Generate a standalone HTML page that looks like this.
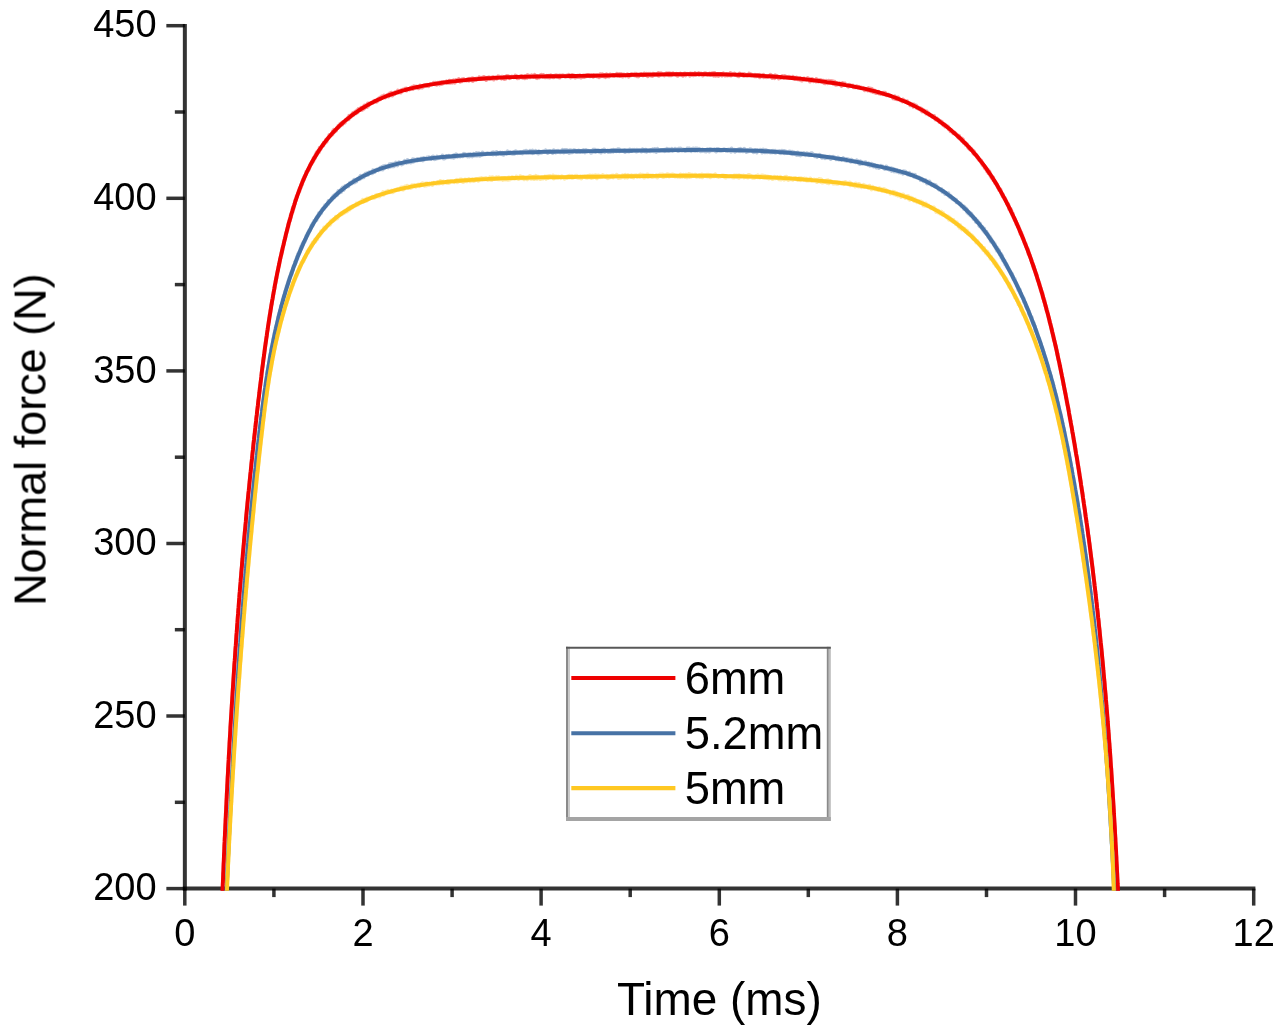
<!DOCTYPE html>
<html><head><meta charset="utf-8"><title>Normal force vs time</title>
<style>html,body{margin:0;padding:0;background:#fff;}body{width:1285px;height:1035px;overflow:hidden;}svg{display:block;}</style>
</head><body>
<svg width="1285" height="1035" viewBox="0 0 1285 1035" font-family="'Liberation Sans', sans-serif">
<defs><filter id="b" x="0" y="0" width="1285" height="1035" filterUnits="userSpaceOnUse"><feGaussianBlur stdDeviation="0.7"/></filter><clipPath id="c"><rect x="0" y="0" width="1285" height="890.8"/></clipPath></defs>
<rect width="1285" height="1035" fill="#fff"/>
<g filter="url(#b)">
<g stroke-opacity="0.8"><line x1="184.8" y1="888.6" x2="184.8" y2="905.6" stroke="#000" stroke-width="3.5"/><line x1="273.9" y1="888.6" x2="273.9" y2="897.1" stroke="#000" stroke-width="3.5"/><line x1="363.0" y1="888.6" x2="363.0" y2="905.6" stroke="#000" stroke-width="3.5"/><line x1="452.1" y1="888.6" x2="452.1" y2="897.1" stroke="#000" stroke-width="3.5"/><line x1="541.1" y1="888.6" x2="541.1" y2="905.6" stroke="#000" stroke-width="3.5"/><line x1="630.2" y1="888.6" x2="630.2" y2="897.1" stroke="#000" stroke-width="3.5"/><line x1="719.3" y1="888.6" x2="719.3" y2="905.6" stroke="#000" stroke-width="3.5"/><line x1="808.3" y1="888.6" x2="808.3" y2="897.1" stroke="#000" stroke-width="3.5"/><line x1="897.4" y1="888.6" x2="897.4" y2="905.6" stroke="#000" stroke-width="3.5"/><line x1="986.5" y1="888.6" x2="986.5" y2="897.1" stroke="#000" stroke-width="3.5"/><line x1="1075.5" y1="888.6" x2="1075.5" y2="905.6" stroke="#000" stroke-width="3.5"/><line x1="1164.6" y1="888.6" x2="1164.6" y2="897.1" stroke="#000" stroke-width="3.5"/><line x1="1253.7" y1="888.6" x2="1253.7" y2="905.6" stroke="#000" stroke-width="3.5"/><line x1="166.35" y1="888.6" x2="184.85" y2="888.6" stroke="#000" stroke-width="3.5"/><line x1="174.85" y1="802.3" x2="184.85" y2="802.3" stroke="#000" stroke-width="3.5"/><line x1="166.35" y1="716.0" x2="184.85" y2="716.0" stroke="#000" stroke-width="3.5"/><line x1="174.85" y1="629.7" x2="184.85" y2="629.7" stroke="#000" stroke-width="3.5"/><line x1="166.35" y1="543.5" x2="184.85" y2="543.5" stroke="#000" stroke-width="3.5"/><line x1="174.85" y1="457.2" x2="184.85" y2="457.2" stroke="#000" stroke-width="3.5"/><line x1="166.35" y1="370.9" x2="184.85" y2="370.9" stroke="#000" stroke-width="3.5"/><line x1="174.85" y1="284.6" x2="184.85" y2="284.6" stroke="#000" stroke-width="3.5"/><line x1="166.35" y1="198.3" x2="184.85" y2="198.3" stroke="#000" stroke-width="3.5"/><line x1="174.85" y1="112.0" x2="184.85" y2="112.0" stroke="#000" stroke-width="3.5"/><line x1="166.35" y1="25.7" x2="184.85" y2="25.7" stroke="#000" stroke-width="3.5"/><line x1="184.85" y1="24.0" x2="184.85" y2="890.6" stroke="#000" stroke-width="4.0"/><line x1="182.85" y1="888.6" x2="1255.4" y2="888.6" stroke="#000" stroke-width="4.0"/></g>
<g clip-path="url(#c)" fill="none" stroke-width="3.9" stroke-linejoin="round"><path d="M222.3 896.3 L222.4 896.1 L222.4 895.1 L222.4 893.2 L222.4 894.4 L222.4 893.4 L222.5 892.1 L222.5 892.4 L222.5 891.6 L222.5 891.0 L222.6 890.2 L222.6 890.0 L222.6 888.4 L222.6 888.3 L222.7 887.4 L222.7 887.7 L222.7 886.7 L222.7 885.8 L222.7 884.8 L222.8 884.7 L222.8 884.3 L222.8 883.5 L222.8 884.2 L222.9 883.3 L222.9 880.4 L222.9 879.9 L222.9 880.6 L223.0 879.9 L223.0 879.8 L223.0 879.2 L223.0 880.0 L223.1 877.0 L223.1 877.0 L223.1 878.3 L223.1 876.6 L223.2 876.1 L223.2 874.5 L223.2 873.0 L223.2 873.9 L223.2 873.3 L223.3 871.6 L223.3 871.5 L223.3 871.4 L223.3 870.1 L223.4 870.2 L223.4 869.7 L223.4 869.1 L223.4 868.1 L223.5 868.4 L223.5 868.0 L223.5 867.0 L223.5 865.5 L223.6 866.2 L223.6 864.6 L223.6 865.1 L223.6 863.0 L223.7 864.0 L223.7 862.6 L223.7 861.1 L223.7 861.2 L223.8 860.9 L223.8 860.5 L223.8 858.9 L223.8 858.3 L223.9 858.7 L223.9 857.6 L223.9 857.6 L223.9 857.4 L224.0 854.9 L224.0 855.8 L224.0 856.0 L224.0 854.2 L224.1 853.2 L224.1 853.9 L224.1 852.9 L224.1 852.8 L224.2 851.3 L224.2 849.8 L224.2 850.3 L224.2 849.4 L224.3 849.8 L224.3 848.8 L224.3 846.7 L224.3 846.5 L224.4 847.6 L224.4 846.8 L224.4 845.2 L224.4 845.1 L224.5 844.9 L224.5 844.3 L224.5 844.0 L224.6 843.0 L224.6 842.1 L224.6 841.4 L224.6 841.9 L224.7 838.8 L224.7 839.7 L224.7 839.3 L224.7 837.5 L224.8 838.3 L224.8 837.0 L224.8 837.6 L224.8 836.2 L224.9 836.3 L224.9 836.1 L224.9 834.9 L224.9 833.3 L225.0 832.2 L225.0 834.2 L225.0 832.1 L225.1 831.1 L225.1 831.2 L225.1 830.3 L225.1 830.6 L225.2 829.3 L225.2 828.7 L225.2 827.6 L225.2 827.9 L225.3 826.1 L225.3 826.9 L225.3 827.0 L225.3 824.0 L225.4 823.0 L225.4 824.5 L225.4 825.1 L225.5 822.1 L225.5 821.3 L225.5 822.2 L225.5 820.5 L225.6 820.1 L225.6 819.7 L225.6 819.8 L225.6 818.5 L225.7 818.4 L225.7 817.5 L225.7 816.4 L225.8 816.2 L225.8 815.1 L225.8 815.3 L225.8 813.8 L225.9 813.2 L225.9 814.7 L225.9 812.9 L226.0 812.3 L226.0 812.2 L226.0 810.9 L226.0 810.4 L226.1 810.4 L226.1 809.7 L226.1 807.9 L226.1 808.9 L226.2 807.2 L226.2 806.3 L226.2 805.8 L226.3 805.6 L226.3 806.6 L226.3 803.8 L226.3 804.3 L226.4 802.0 L226.4 803.0 L226.4 803.1 L226.5 801.6 L226.5 800.7 L226.5 800.9 L226.5 800.6 L226.6 800.0 L226.6 800.5 L226.6 798.5 L226.7 797.3 L226.7 797.1 L226.7 796.5 L226.7 796.1 L226.8 795.4 L226.8 795.0 L226.8 792.9 L226.9 794.3 L226.9 792.6 L226.9 791.5 L227.0 792.4 L227.0 792.4 L227.0 791.1 L227.0 790.3 L227.1 788.8 L227.1 790.6 L227.1 789.1 L227.2 786.9 L227.2 786.6 L227.2 786.7 L227.2 784.8 L227.3 785.6 L227.3 784.5 L227.3 785.3 L227.4 784.5 L227.4 781.5 L227.4 782.6 L227.5 780.7 L227.5 782.3 L227.5 780.9 L227.5 780.6 L227.6 778.8 L227.6 780.5 L227.6 780.1 L227.7 777.0 L227.7 777.6 L227.7 776.2 L227.8 776.1 L227.8 774.5 L227.8 776.4 L227.9 773.6 L227.9 773.5 L227.9 773.6 L227.9 772.1 L228.0 771.8 L228.0 771.0 L228.0 770.8 L228.1 769.3 L228.1 769.3 L228.1 768.9 L228.2 768.3 L228.2 768.0 L228.2 767.1 L228.3 767.4 L228.3 765.9 L228.3 765.5 L228.3 764.5 L228.4 764.0 L228.4 762.8 L228.4 763.7 L228.5 761.8 L228.5 761.5 L228.5 761.8 L228.6 761.3 L228.6 760.0 L228.6 758.2 L228.7 759.5 L228.7 758.8 L228.7 756.9 L228.8 758.0 L228.8 756.3 L228.8 755.4 L228.9 755.8 L228.9 754.9 L228.9 754.7 L229.0 752.6 L229.0 754.8 L229.0 752.3 L229.0 750.9 L229.1 752.1 L229.1 750.7 L229.1 750.7 L229.2 749.6 L229.2 749.2 L229.2 748.9 L229.3 747.5 L229.3 748.0 L229.3 746.5 L229.4 745.6 L229.4 745.8 L229.4 745.5 L229.5 744.4 L229.5 743.3 L229.5 743.9 L229.6 741.4 L229.6 741.4 L229.6 741.7 L229.7 740.0 L229.7 740.5 L229.7 739.9 L229.8 740.0 L229.8 738.0 L229.8 737.7 L229.9 737.8 L229.9 735.4 L229.9 738.0 L230.0 735.3 L230.0 734.7 L230.0 735.3 L230.1 734.0 L230.1 732.1 L230.1 733.4 L230.2 733.0 L230.2 731.4 L230.2 730.9 L230.3 731.0 L230.3 729.3 L230.3 729.7 L230.4 729.0 L230.4 727.7 L230.4 726.5 L230.5 726.9 L230.5 725.8 L230.5 726.7 L230.6 725.4 L230.6 725.4 L230.6 724.3 L230.7 723.8 L230.7 722.4 L230.7 722.9 L230.8 723.2 L230.8 721.0 L230.9 720.2 L230.9 719.9 L230.9 719.1 L231.0 718.3 L231.0 718.4 L231.0 717.5 L231.1 718.3 L231.1 716.6 L231.1 716.2 L231.2 716.2 L231.2 714.6 L231.2 715.4 L231.3 713.1 L231.3 712.4 L231.3 712.2 L231.4 711.8 L231.4 710.2 L231.5 710.7 L231.5 708.8 L231.5 710.7 L231.6 708.9 L231.6 707.9 L231.6 707.1 L231.7 706.9 L231.7 706.5 L231.7 705.2 L231.8 704.7 L231.8 704.7 L231.8 703.9 L231.9 704.5 L231.9 704.0 L232.0 702.6 L232.0 702.3 L232.0 700.3 L232.1 701.3 L232.1 700.2 L232.1 700.0 L232.2 700.3 L232.2 696.9 L232.2 698.1 L232.3 696.4 L232.3 697.2 L232.4 695.1 L232.4 695.2 L232.4 695.1 L232.5 694.9 L232.5 693.9 L232.5 692.6 L232.6 692.2 L232.6 692.8 L232.6 691.5 L232.7 689.5 L232.7 691.0 L232.8 690.0 L232.8 689.8 L232.8 688.3 L232.9 688.6 L232.9 686.5 L232.9 687.3 L233.0 685.8 L233.0 686.2 L233.1 685.9 L233.1 683.9 L233.1 683.8 L233.2 683.3 L233.2 683.7 L233.2 682.7 L233.3 680.6 L233.3 681.3 L233.4 681.0 L233.4 681.4 L233.4 677.9 L233.5 678.2 L233.5 679.1 L233.6 676.4 L233.6 675.9 L233.6 676.7 L233.7 676.5 L233.7 674.6 L233.7 675.0 L233.8 674.1 L233.8 674.6 L233.9 672.8 L233.9 673.0 L233.9 670.9 L234.0 670.9 L234.0 670.4 L234.1 670.8 L234.1 669.8 L234.1 668.1 L234.2 668.7 L234.2 668.2 L234.3 666.9 L234.3 666.2 L234.3 665.6 L234.4 663.9 L234.4 664.8 L234.4 664.2 L234.5 662.8 L234.5 663.5 L234.6 661.2 L234.6 661.3 L234.6 660.8 L234.7 662.1 L234.7 658.7 L234.8 659.8 L234.8 659.6 L234.8 658.5 L234.9 658.6 L234.9 656.3 L235.0 654.9 L235.0 656.5 L235.0 654.4 L235.1 654.5 L235.1 653.2 L235.2 654.4 L235.2 653.7 L235.2 651.8 L235.3 652.5 L235.3 651.3 L235.4 650.5 L235.4 650.1 L235.5 649.3 L235.5 649.4 L235.5 648.6 L235.6 647.5 L235.6 648.0 L235.7 646.1 L235.7 646.2 L235.7 645.7 L235.8 646.0 L235.8 643.8 L235.9 645.0 L235.9 643.2 L235.9 642.3 L236.0 641.4 L236.0 641.8 L236.1 640.8 L236.1 639.3 L236.2 638.7 L236.2 638.5 L236.2 637.9 L236.3 638.7 L236.3 638.3 L236.4 637.4 L236.4 636.4 L236.4 635.2 L236.5 635.0 L236.5 635.0 L236.6 635.3 L236.6 633.9 L236.7 632.4 L236.7 632.0 L236.7 631.0 L236.8 630.2 L236.8 630.1 L236.9 629.8 L236.9 630.6 L237.0 628.5 L237.0 629.0 L237.0 628.8 L237.1 626.8 L237.1 627.5 L237.2 626.2 L237.2 624.7 L237.3 624.6 L237.3 623.9 L237.3 623.1 L237.4 622.5 L237.4 622.2 L237.5 621.9 L237.5 620.2 L237.6 620.3 L237.6 618.5 L237.6 619.4 L237.7 619.1 L237.7 618.2 L237.8 617.7 L237.8 617.3 L237.9 615.7 L237.9 615.5 L237.9 615.5 L238.0 615.3 L238.0 614.3 L238.1 615.0 L238.1 612.7 L238.2 613.0 L238.2 612.6 L238.3 610.9 L238.3 609.8 L238.3 608.9 L238.4 609.4 L238.4 609.6 L238.5 608.3 L238.5 607.7 L238.6 606.7 L238.6 606.8 L238.7 604.2 L238.7 605.4 L238.8 604.6 L238.8 602.9 L238.8 605.1 L238.9 601.8 L238.9 601.4 L239.0 600.8 L239.0 602.0 L239.1 599.8 L239.1 600.5 L239.2 599.9 L239.2 599.0 L239.2 597.2 L239.3 597.2 L239.3 598.4 L239.4 595.4 L239.4 595.2 L239.5 595.2 L239.5 595.4 L239.6 594.3 L239.6 594.2 L239.7 592.1 L239.7 593.2 L239.8 592.3 L239.8 590.0 L239.8 591.9 L239.9 591.7 L239.9 588.9 L240.0 589.0 L240.0 589.4 L240.1 586.6 L240.1 585.6 L240.2 585.5 L240.2 585.5 L240.3 585.0 L240.3 585.3 L240.4 584.5 L240.4 582.7 L240.5 583.5 L240.5 584.0 L240.5 582.9 L240.6 582.1 L240.6 580.8 L240.7 581.0 L240.7 578.8 L240.8 579.6 L240.8 578.4 L240.9 578.8 L240.9 577.6 L241.0 575.8 L241.0 576.2 L241.1 576.5 L241.1 574.0 L241.2 573.9 L241.2 573.2 L241.3 572.0 L241.3 573.4 L241.4 573.1 L241.4 572.1 L241.5 571.1 L241.5 570.2 L241.6 569.9 L241.6 568.5 L241.7 569.3 L241.7 568.8 L241.7 568.1 L241.8 566.4 L241.8 566.3 L241.9 565.5 L241.9 566.5 L242.0 564.6 L242.0 562.4 L242.1 563.6 L242.1 564.2 L242.2 562.7 L242.2 562.3 L242.3 561.0 L242.3 558.8 L242.4 558.4 L242.4 558.2 L242.5 558.6 L242.5 558.3 L242.6 558.0 L242.6 556.6 L242.7 557.1 L242.7 555.5 L242.8 554.6 L242.8 555.3 L242.9 553.3 L242.9 551.8 L243.0 552.0 L243.0 552.3 L243.1 550.1 L243.1 550.8 L243.2 550.2 L243.2 548.8 L243.3 548.2 L243.3 548.4 L243.4 547.8 L243.4 548.6 L243.5 547.3 L243.5 545.2 L243.6 545.2 L243.6 545.8 L243.7 546.2 L243.7 544.4 L243.8 543.8 L243.8 544.4 L243.9 542.4 L244.0 541.5 L244.0 540.1 L244.1 540.2 L244.1 541.7 L244.2 538.3 L244.2 538.9 L244.3 537.2 L244.3 537.8 L244.4 537.9 L244.4 536.4 L244.5 536.6 L244.5 536.0 L244.6 535.2 L244.6 535.6 L244.7 534.3 L244.7 532.8 L244.8 532.0 L244.8 531.2 L244.9 531.7 L244.9 530.5 L245.0 531.8 L245.0 531.1 L245.1 528.8 L245.1 528.2 L245.2 529.2 L245.3 525.8 L245.3 526.3 L245.4 526.9 L245.4 524.8 L245.5 524.6 L245.5 524.1 L245.6 524.3 L245.6 523.3 L245.7 522.9 L245.7 522.5 L245.8 521.5 L245.8 521.8 L245.9 519.7 L245.9 518.6 L246.0 517.7 L246.1 517.3 L246.1 517.5 L246.2 518.2 L246.2 516.9 L246.3 515.7 L246.3 514.8 L246.4 514.6 L246.4 514.2 L246.5 513.5 L246.5 512.2 L246.6 512.4 L246.7 513.0 L246.7 510.0 L246.8 510.8 L246.8 508.8 L246.9 510.0 L246.9 508.7 L247.0 507.1 L247.0 508.2 L247.1 509.0 L247.1 507.0 L247.2 507.3 L247.3 505.7 L247.3 503.6 L247.4 505.0 L247.4 503.7 L247.5 502.3 L247.5 503.5 L247.6 502.5 L247.6 501.3 L247.7 501.8 L247.8 499.8 L247.8 500.5 L247.9 498.6 L247.9 499.2 L248.0 497.3 L248.0 498.8 L248.1 497.3 L248.2 497.6 L248.2 495.2 L248.3 494.9 L248.3 495.4 L248.4 492.6 L248.4 492.7 L248.5 493.8 L248.5 492.8 L248.6 492.6 L248.7 491.0 L248.7 491.1 L248.8 489.5 L248.8 488.4 L248.9 487.6 L248.9 487.9 L249.0 487.3 L249.1 486.7 L249.1 485.0 L249.2 484.4 L249.2 485.0 L249.3 485.1 L249.3 483.8 L249.4 483.0 L249.5 481.5 L249.5 484.2 L249.6 481.1 L249.6 482.7 L249.7 482.1 L249.8 480.4 L249.8 479.2 L249.9 479.2 L249.9 477.6 L250.0 478.1 L250.0 477.3 L250.1 477.2 L250.2 476.9 L250.2 477.0 L250.3 474.7 L250.3 475.3 L250.4 473.2 L250.5 472.6 L250.5 472.2 L250.6 471.3 L250.6 472.3 L250.7 471.7 L250.8 471.4 L250.8 469.8 L250.9 469.4 L250.9 468.2 L251.0 467.1 L251.1 467.8 L251.1 467.1 L251.2 465.4 L251.2 466.2 L251.3 463.8 L251.4 464.4 L251.4 463.5 L251.5 463.0 L251.5 462.0 L251.6 463.0 L251.7 462.1 L251.7 462.0 L251.8 460.6 L251.8 458.9 L251.9 459.0 L252.0 457.8 L252.0 458.5 L252.1 458.6 L252.1 457.3 L252.2 456.0 L252.3 455.6 L252.3 455.4 L252.4 453.5 L252.4 454.2 L252.5 453.7 L252.6 452.5 L252.6 452.0 L252.7 451.9 L252.8 450.6 L252.8 450.0 L252.9 450.7 L252.9 449.7 L253.0 450.2 L253.1 447.5 L253.1 446.3 L253.2 447.9 L253.2 447.3 L253.3 445.4 L253.4 444.2 L253.4 444.8 L253.5 442.9 L253.6 443.4 L253.6 441.5 L253.7 442.3 L253.7 440.4 L253.8 441.2 L253.9 442.0 L253.9 440.0 L254.0 440.2 L254.1 438.5 L254.1 437.7 L254.2 436.7 L254.3 438.1 L254.3 436.7 L254.4 437.4 L254.4 434.6 L254.5 434.8 L254.6 434.4 L254.6 434.9 L254.7 434.7 L254.8 432.1 L254.8 431.2 L254.9 430.1 L255.0 432.0 L255.0 430.3 L255.1 429.2 L255.1 429.1 L255.2 427.0 L255.3 426.6 L255.3 428.2 L255.4 427.2 L255.5 426.4 L255.5 424.9 L255.6 425.6 L255.7 426.0 L255.7 423.0 L255.8 423.4 L255.9 422.4 L255.9 422.5 L256.0 421.6 L256.1 420.9 L256.1 419.8 L256.2 419.9 L256.2 418.8 L256.3 418.6 L256.4 418.1 L256.4 418.1 L256.5 416.5 L256.6 416.2 L256.6 416.7 L256.7 415.1 L256.8 414.5 L256.8 414.8 L256.9 413.7 L257.0 413.0 L257.0 412.5 L257.1 410.8 L257.2 411.6 L257.2 411.7 L257.3 410.5 L257.4 408.2 L257.4 409.1 L257.5 407.6 L257.6 407.6 L257.6 407.3 L257.7 405.6 L257.8 407.1 L257.8 405.4 L257.9 405.5 L258.0 404.8 L258.0 404.8 L258.1 404.1 L258.2 401.4 L258.2 402.0 L258.3 399.8 L258.4 400.4 L258.5 400.8 L258.5 400.4 L258.6 400.1 L258.7 398.2 L258.7 398.2 L258.8 397.4 L258.9 397.8 L258.9 397.4 L259.0 395.3 L259.1 396.6 L259.1 394.4 L259.2 393.6 L259.3 393.8 L259.3 393.3 L259.4 392.6 L259.5 391.0 L259.5 392.1 L259.6 390.4 L259.7 391.0 L259.8 390.3 L259.8 387.6 L259.9 387.3 L260.0 386.7 L260.0 387.1 L260.1 386.4 L260.2 386.0 L260.2 384.5 L260.3 385.0 L260.4 385.2 L260.5 382.4 L260.5 382.7 L260.6 382.5 L260.7 381.6 L260.7 381.0 L260.8 382.0 L260.9 381.0 L260.9 380.1 L261.0 378.2 L261.1 379.9 L261.2 378.0 L261.2 376.6 L261.3 376.2 L261.4 375.5 L261.4 377.0 L261.5 374.9 L261.6 374.3 L261.7 372.0 L261.7 373.6 L261.8 371.6 L261.9 371.0 L262.0 371.8 L262.0 370.0 L262.1 370.8 L262.2 370.5 L262.2 367.6 L262.3 368.3 L262.4 366.6 L262.5 367.2 L262.5 367.4 L262.6 365.0 L262.7 367.0 L262.8 364.7 L262.8 363.4 L262.9 363.7 L263.0 363.9 L263.1 361.5 L263.1 362.1 L263.2 360.4 L263.3 361.9 L263.4 360.5 L263.4 359.4 L263.5 360.0 L263.6 357.6 L263.7 357.7 L263.7 358.9 L263.8 356.8 L263.9 357.4 L264.0 355.9 L264.0 354.6 L264.1 354.3 L264.2 354.0 L264.3 353.1 L264.3 352.2 L264.4 351.6 L264.5 350.5 L264.6 351.2 L264.7 350.8 L264.7 350.5 L264.8 347.9 L264.9 349.4 L265.0 348.2 L265.0 346.5 L265.1 347.1 L265.2 347.1 L265.3 346.3 L265.4 345.9 L265.4 345.5 L265.5 344.9 L265.6 343.5 L265.7 341.4 L265.8 341.8 L265.8 342.1 L265.9 340.9 L266.0 341.2 L266.1 340.7 L266.2 339.6 L266.2 340.5 L266.3 337.6 L266.4 338.5 L266.5 336.8 L266.6 336.0 L266.7 336.5 L266.7 335.0 L266.8 335.6 L266.9 333.4 L267.0 333.8 L267.1 332.5 L267.2 332.4 L267.2 331.7 L267.3 330.5 L267.4 331.4 L267.5 329.3 L267.6 328.9 L267.7 329.8 L267.8 329.3 L267.8 328.5 L267.9 327.7 L268.0 328.4 L268.1 325.3 L268.2 325.1 L268.3 324.3 L268.4 325.2 L268.4 324.2 L268.5 324.2 L268.6 323.6 L268.7 322.0 L268.8 321.0 L268.9 320.3 L269.0 322.1 L269.1 320.7 L269.2 319.8 L269.2 318.5 L269.3 318.0 L269.4 317.3 L269.5 316.8 L269.6 314.8 L269.7 315.8 L269.8 315.0 L269.9 314.9 L270.0 314.3 L270.1 314.2 L270.2 313.0 L270.3 313.0 L270.3 310.2 L270.4 310.4 L270.5 312.0 L270.6 309.1 L270.7 309.3 L270.8 309.5 L270.9 307.7 L271.0 308.4 L271.1 306.1 L271.2 305.1 L271.3 305.0 L271.4 304.2 L271.5 304.9 L271.6 304.1 L271.7 304.0 L271.8 302.3 L271.9 304.2 L272.0 301.9 L272.1 301.4 L272.2 301.2 L272.3 300.1 L272.4 299.2 L272.5 299.2 L272.6 299.3 L272.7 298.5 L272.8 298.2 L272.9 296.4 L273.0 295.6 L273.1 297.3 L273.2 294.9 L273.3 294.9 L273.4 294.5 L273.5 294.5 L273.6 291.7 L273.7 291.8 L273.8 291.3 L273.9 290.8 L274.0 288.9 L274.1 289.8 L274.2 287.7 L274.3 289.0 L274.4 288.6 L274.5 288.1 L274.6 286.1 L274.7 287.2 L274.8 285.2 L275.0 284.3 L275.1 283.9 L275.2 283.5 L275.3 283.7 L275.4 283.7 L275.5 280.8 L275.6 281.4 L275.7 282.0 L275.8 280.9 L275.9 280.5 L276.0 278.3 L276.2 279.7 L276.3 277.1 L276.4 278.0 L276.5 278.3 L276.6 278.2 L276.7 276.5 L276.8 276.2 L276.9 274.4 L277.1 274.0 L277.2 274.7 L277.3 273.2 L277.4 272.5 L277.5 270.9 L277.6 271.6 L277.8 271.4 L277.9 269.7 L278.0 269.3 L278.1 270.4 L278.2 268.7 L278.3 267.8 L278.5 266.5 L278.6 266.4 L278.7 266.1 L278.8 266.8 L278.9 264.7 L279.1 266.0 L279.2 263.2 L279.3 263.1 L279.4 263.5 L279.5 262.1 L279.7 261.0 L279.8 261.0 L279.9 260.9 L280.0 258.6 L280.2 259.2 L280.3 258.7 L280.4 257.9 L280.5 258.2 L280.7 256.6 L280.8 256.2 L280.9 256.0 L281.0 255.9 L281.2 254.6 L281.3 255.4 L281.4 252.9 L281.6 254.1 L281.7 251.8 L281.8 251.8 L281.9 251.6 L282.1 252.3 L282.2 250.9 L282.3 249.3 L282.5 250.1 L282.6 248.3 L282.7 247.2 L282.9 247.7 L283.0 246.8 L283.1 246.9 L283.3 245.1 L283.4 245.3 L283.5 244.9 L283.7 244.1 L283.8 243.2 L284.0 242.1 L284.1 242.8 L284.2 241.6 L284.4 241.4 L284.5 240.1 L284.6 239.8 L284.8 238.4 L284.9 238.7 L285.1 238.7 L285.2 237.6 L285.4 237.6 L285.5 236.6 L285.6 236.9 L285.8 235.1 L285.9 233.3 L286.1 234.4 L286.2 233.4 L286.4 232.1 L286.5 232.9 L286.6 232.0 L286.8 231.5 L286.9 230.3 L287.1 230.2 L287.2 229.7 L287.4 230.3 L287.5 227.8 L287.7 227.7 L287.8 227.5 L288.0 225.2 L288.1 224.7 L288.3 227.0 L288.4 223.4 L288.6 224.7 L288.7 223.0 L288.9 222.5 L289.1 221.0 L289.2 221.3 L289.4 222.0 L289.5 219.7 L289.7 220.7 L289.8 219.9 L290.0 220.7 L290.2 218.2 L290.3 219.0 L290.5 218.1 L290.6 216.6 L290.8 214.9 L291.0 216.9 L291.1 214.0 L291.3 214.2 L291.5 214.7 L291.6 214.3 L291.8 212.2 L292.0 212.2 L292.1 211.5 L292.3 212.1 L292.5 212.2 L292.6 208.5 L292.8 210.2 L293.0 207.3 L293.2 208.3 L293.3 206.8 L293.5 208.7 L293.7 206.7 L293.9 205.4 L294.0 205.1 L294.2 204.4 L294.4 204.5 L294.6 203.6 L294.8 203.7 L294.9 203.9 L295.1 202.6 L295.3 200.5 L295.5 199.6 L295.7 199.8 L295.9 200.7 L296.1 199.0 L296.2 198.2 L296.4 198.2 L296.6 196.4 L296.8 196.1 L297.0 196.9 L297.2 195.7 L297.4 195.0 L297.6 195.0 L297.8 193.8 L298.0 193.1 L298.2 192.8 L298.4 193.1 L298.6 192.1 L298.8 190.5 L299.0 190.7 L299.2 190.9 L299.4 191.3 L299.6 188.3 L299.8 189.0 L300.0 187.9 L300.2 188.3 L300.5 187.4 L300.7 187.7 L300.9 186.4 L301.1 185.0 L301.3 184.4 L301.5 184.6 L301.8 184.1 L302.0 184.8 L302.2 184.0 L302.4 181.2 L302.6 181.9 L302.9 180.0 L303.1 179.2 L303.3 180.6 L303.6 179.9 L303.8 178.1 L304.0 179.7 L304.2 177.1 L304.5 176.4 L304.7 177.3 L305.0 176.4 L305.2 175.6 L305.4 175.1 L305.7 174.8 L305.9 174.0 L306.2 173.4 L306.4 171.5 L306.7 171.5 L306.9 172.5 L307.2 170.9 L307.4 171.4 L307.7 171.4 L307.9 169.6 L308.2 169.6 L308.4 170.5 L308.7 168.9 L309.0 169.3 L309.2 168.5 L309.5 167.4 L309.7 166.2 L310.0 165.1 L310.3 164.4 L310.5 165.1 L310.8 164.6 L311.1 163.6 L311.4 163.9 L311.6 162.2 L311.9 163.1 L312.2 161.7 L312.5 161.1 L312.8 160.7 L313.0 160.1 L313.3 161.3 L313.6 157.9 L313.9 158.8 L314.2 159.2 L314.5 158.2 L314.8 156.9 L315.1 158.1 L315.4 155.3 L315.7 154.6 L316.0 155.6 L316.3 153.5 L316.6 152.6 L316.9 154.4 L317.2 153.8 L317.5 153.3 L317.8 151.9 L318.1 151.9 L318.4 150.5 L318.8 152.2 L319.1 151.0 L319.4 150.4 L319.7 147.8 L320.1 149.5 L320.4 149.6 L320.7 148.9 L321.0 148.1 L321.4 147.0 L321.7 146.3 L322.0 146.5 L322.4 145.9 L322.7 145.3 L323.0 144.4 L323.4 145.5 L323.7 142.8 L324.1 143.3 L324.4 142.4 L324.8 143.2 L325.1 143.0 L325.5 142.4 L325.8 141.6 L326.2 139.4 L326.5 141.7 L326.9 140.1 L327.2 139.1 L327.6 138.8 L328.0 138.0 L328.3 138.2 L328.7 137.7 L329.1 136.7 L329.4 134.9 L329.8 136.1 L330.2 136.0 L330.6 135.7 L330.9 134.7 L331.3 134.7 L331.7 134.8 L332.1 133.1 L332.5 134.3 L332.8 131.1 L333.2 131.2 L333.6 131.1 L334.0 129.8 L334.4 130.2 L334.8 131.6 L335.2 131.1 L335.6 129.8 L336.0 130.7 L336.4 129.1 L336.8 128.1 L337.2 128.3 L337.6 127.6 L338.0 127.9 L338.4 125.7 L338.8 127.3 L339.2 125.7 L339.7 126.4 L340.1 124.0 L340.5 124.6 L340.9 124.6 L341.3 124.8 L341.8 122.7 L342.2 124.7 L342.6 123.3 L343.0 122.1 L343.5 123.2 L343.9 121.9 L344.3 122.3 L344.8 122.6 L345.2 121.3 L345.6 119.9 L346.1 119.6 L346.5 120.0 L347.0 119.4 L347.4 118.2 L347.8 117.9 L348.3 118.6 L348.7 119.3 L349.2 115.8 L349.6 117.6 L350.1 116.5 L350.6 116.9 L351.0 116.7 L351.5 115.7 L351.9 114.5 L352.4 113.8 L352.9 113.1 L353.3 115.2 L353.8 113.7 L354.3 113.1 L354.7 113.0 L355.2 111.8 L355.7 112.8 L356.1 113.3 L356.6 112.8 L357.1 110.3 L357.6 112.4 L358.1 110.3 L358.5 109.1 L359.0 109.3 L359.5 109.2 L360.0 109.7 L360.5 108.5 L361.0 107.8 L361.4 108.5 L361.9 110.0 L362.4 107.6 L362.9 108.2 L363.4 107.6 L363.9 108.8 L364.4 105.4 L364.9 107.5 L365.4 105.3 L365.9 105.6 L366.4 105.7 L366.9 107.1 L367.4 104.6 L367.9 103.4 L368.4 105.7 L368.9 103.7 L369.5 103.9 L370.0 103.8 L370.5 103.6 L371.0 103.1 L371.5 103.2 L372.0 103.0 L372.5 103.1 L373.1 101.8 L373.6 101.3 L374.1 100.8 L374.6 101.9 L375.1 101.1 L375.7 101.3 L376.2 101.0 L376.7 101.7 L377.3 100.3 L377.8 100.5 L378.3 98.7 L378.8 98.5 L379.4 98.9 L379.9 97.9 L380.4 99.2 L381.0 97.4 L381.5 98.2 L382.0 96.4 L382.6 96.8 L383.1 97.2 L383.7 97.1 L384.2 95.6 L384.7 96.9 L385.3 97.4 L385.8 96.9 L386.4 95.6 L386.9 95.5 L387.5 94.8 L388.0 96.0 L388.6 96.5 L389.1 94.7 L389.7 93.5 L390.2 94.9 L390.8 95.1 L391.3 92.7 L391.9 94.2 L392.4 95.5 L393.0 94.4 L393.5 94.0 L394.1 93.6 L394.6 94.0 L395.2 92.2 L395.7 92.1 L396.3 92.9 L396.9 91.9 L397.4 92.4 L398.0 90.5 L398.5 92.5 L399.1 92.4 L399.7 91.6 L400.2 91.5 L400.8 92.5 L401.4 90.2 L401.9 90.1 L402.5 89.8 L403.1 90.2 L403.6 89.6 L404.2 90.2 L404.8 89.5 L405.3 88.7 L405.9 88.5 L406.5 90.6 L407.0 89.4 L407.6 89.1 L408.2 89.2 L408.8 88.9 L409.3 89.5 L409.9 89.2 L410.5 88.1 L411.1 87.8 L411.6 87.4 L412.2 87.2 L412.8 89.1 L413.4 87.2 L413.9 86.2 L414.5 87.0 L415.1 86.9 L415.7 87.6 L416.2 86.5 L416.8 87.5 L417.4 87.3 L418.0 87.9 L418.6 88.3 L419.1 88.2 L419.7 87.6 L420.3 85.5 L420.9 85.9 L421.5 86.4 L422.0 87.6 L422.6 86.5 L423.2 86.8 L423.8 85.6 L424.4 86.1 L425.0 86.1 L425.5 85.0 L426.1 85.9 L426.7 86.0 L427.3 84.9 L427.9 85.8 L428.5 86.2 L429.0 84.8 L429.6 84.7 L430.2 84.3 L430.8 84.0 L431.4 84.5 L432.0 83.9 L432.5 83.9 L433.1 83.5 L433.7 82.8 L434.3 83.1 L434.9 84.1 L435.5 82.8 L436.1 83.1 L436.6 84.8 L437.2 84.3 L437.8 82.8 L438.4 83.7 L439.0 82.7 L439.6 84.4 L440.2 82.5 L440.7 83.0 L441.3 84.0 L441.9 82.1 L442.5 83.7 L443.1 81.9 L443.7 82.7 L444.3 82.2 L444.8 82.3 L445.4 82.4 L446.0 82.1 L446.6 81.3 L447.2 82.8 L447.8 82.6 L448.4 82.9 L448.9 82.9 L449.5 80.7 L450.1 82.7 L450.7 82.7 L451.3 81.1 L451.9 82.3 L452.5 82.6 L453.0 80.9 L453.6 80.2 L454.2 80.9 L454.8 82.7 L455.4 81.3 L456.0 80.0 L456.5 80.7 L457.1 80.1 L457.7 80.5 L458.3 80.8 L458.9 79.1 L459.5 80.9 L460.1 81.7 L460.6 80.3 L461.2 80.1 L461.8 81.3 L462.4 79.3 L463.0 79.3 L463.6 79.1 L464.1 80.0 L464.7 80.4 L465.3 80.0 L465.9 80.4 L466.5 80.6 L467.1 80.3 L467.6 79.2 L468.2 79.5 L468.8 80.7 L469.4 78.8 L470.0 79.4 L470.6 79.2 L471.2 79.4 L471.7 78.6 L472.3 78.3 L472.9 81.0 L473.5 80.1 L474.1 78.7 L474.7 79.2 L475.2 79.7 L475.8 78.8 L476.4 79.6 L477.0 78.5 L477.6 78.7 L478.2 78.9 L478.7 78.5 L479.3 77.2 L479.9 78.8 L480.5 79.0 L481.1 79.1 L481.7 77.9 L482.2 78.9 L482.8 78.8 L483.4 77.1 L484.0 76.9 L484.6 78.9 L485.1 77.7 L485.7 79.2 L486.3 80.0 L486.9 77.9 L487.5 77.7 L488.1 78.2 L488.6 78.8 L489.2 77.3 L489.8 79.1 L490.4 78.9 L491.0 78.6 L491.6 77.6 L492.1 78.7 L492.7 78.7 L493.3 77.0 L493.9 79.5 L494.5 77.6 L495.1 78.2 L495.6 77.4 L496.2 78.1 L496.8 78.7 L497.4 77.1 L498.0 76.4 L498.5 77.3 L499.1 76.6 L499.7 77.0 L500.3 77.5 L500.9 77.5 L501.5 78.6 L502.0 76.7 L502.6 77.8 L503.2 77.1 L503.8 78.5 L504.4 79.0 L504.9 77.6 L505.5 78.7 L506.1 76.9 L506.7 76.0 L507.3 76.3 L507.9 76.0 L508.4 76.5 L509.0 77.0 L509.6 78.1 L510.2 77.7 L510.8 77.5 L511.3 76.8 L511.9 76.5 L512.5 77.1 L513.1 77.2 L513.7 77.3 L514.3 77.3 L514.8 76.9 L515.4 75.5 L516.0 76.1 L516.6 76.3 L517.2 78.3 L517.7 76.6 L518.3 77.4 L518.9 78.1 L519.5 77.1 L520.1 76.5 L520.6 76.6 L521.2 76.0 L521.8 77.1 L522.4 77.7 L523.0 77.2 L523.6 77.4 L524.1 77.3 L524.7 78.3 L525.3 76.2 L525.9 76.8 L526.5 77.3 L527.0 77.7 L527.6 75.1 L528.2 76.2 L528.8 76.5 L529.4 75.8 L529.9 77.3 L530.5 76.8 L531.1 76.3 L531.7 75.3 L532.3 75.5 L532.8 75.8 L533.4 76.9 L534.0 75.6 L534.6 74.9 L535.2 75.3 L535.8 76.0 L536.3 77.8 L536.9 78.1 L537.5 76.1 L538.1 77.2 L538.7 77.6 L539.2 77.5 L539.8 76.3 L540.4 75.4 L541.0 76.0 L541.6 74.9 L542.1 76.6 L542.7 77.0 L543.3 74.9 L543.9 76.3 L544.5 76.6 L545.0 77.3 L545.6 77.4 L546.2 77.0 L546.8 75.8 L547.4 76.0 L547.9 77.3 L548.5 75.8 L549.1 76.2 L549.7 77.5 L550.3 76.4 L550.8 75.2 L551.4 76.0 L552.0 76.8 L552.6 76.1 L553.2 77.2 L553.7 77.2 L554.3 75.7 L554.9 75.8 L555.5 76.1 L556.1 75.2 L556.7 76.5 L557.2 76.0 L557.8 76.8 L558.4 75.7 L559.0 75.5 L559.6 77.6 L560.1 75.4 L560.7 75.7 L561.3 75.5 L561.9 75.9 L562.5 75.4 L563.0 76.1 L563.6 75.5 L564.2 75.8 L564.8 76.4 L565.4 76.7 L565.9 76.5 L566.5 75.5 L567.1 76.4 L567.7 76.0 L568.3 76.0 L568.8 74.7 L569.4 76.6 L570.0 75.9 L570.6 77.4 L571.2 76.5 L571.7 75.1 L572.3 74.9 L572.9 76.9 L573.5 75.3 L574.1 76.5 L574.6 75.7 L575.2 77.6 L575.8 76.0 L576.4 77.2 L577.0 77.0 L577.5 75.6 L578.1 75.7 L578.7 77.1 L579.3 75.9 L579.9 75.2 L580.4 76.9 L581.0 77.5 L581.6 75.9 L582.2 77.0 L582.8 75.8 L583.3 77.0 L583.9 75.7 L584.5 76.9 L585.1 76.3 L585.7 75.7 L586.3 76.1 L586.8 75.4 L587.4 74.9 L588.0 75.0 L588.6 75.8 L589.2 75.0 L589.7 76.2 L590.3 76.2 L590.9 76.2 L591.5 75.4 L592.1 75.8 L592.6 75.8 L593.2 76.8 L593.8 75.1 L594.4 75.4 L595.0 75.6 L595.5 75.6 L596.1 75.1 L596.7 75.2 L597.3 76.5 L597.9 75.2 L598.4 76.4 L599.0 77.2 L599.6 76.7 L600.2 74.2 L600.8 76.3 L601.3 76.0 L601.9 76.1 L602.5 74.3 L603.1 76.2 L603.7 74.7 L604.3 76.6 L604.8 76.4 L605.4 77.1 L606.0 75.2 L606.6 74.3 L607.2 76.4 L607.7 76.2 L608.3 75.2 L608.9 76.6 L609.5 76.0 L610.1 74.4 L610.6 75.2 L611.2 75.1 L611.8 75.3 L612.4 75.6 L613.0 74.8 L613.5 75.2 L614.1 75.8 L614.7 75.3 L615.3 75.1 L615.9 75.1 L616.4 75.2 L617.0 73.8 L617.6 75.4 L618.2 74.5 L618.8 75.4 L619.4 74.1 L619.9 76.0 L620.5 75.4 L621.1 74.1 L621.7 75.4 L622.3 74.6 L622.8 76.6 L623.4 75.6 L624.0 74.5 L624.6 75.3 L625.2 75.1 L625.7 76.1 L626.3 75.4 L626.9 75.5 L627.5 74.2 L628.1 75.7 L628.7 76.6 L629.2 75.6 L629.8 75.0 L630.4 75.2 L631.0 74.3 L631.6 75.2 L632.1 74.1 L632.7 75.0 L633.3 74.7 L633.9 74.3 L634.5 75.4 L635.1 73.8 L635.6 74.9 L636.2 73.9 L636.8 76.4 L637.4 76.4 L638.0 75.6 L638.5 76.4 L639.1 75.3 L639.7 75.3 L640.3 74.5 L640.9 74.1 L641.5 74.9 L642.0 74.4 L642.6 74.4 L643.2 75.4 L643.8 74.7 L644.4 73.5 L644.9 74.6 L645.5 74.1 L646.1 74.5 L646.7 73.8 L647.3 75.7 L647.9 76.2 L648.4 73.8 L649.0 75.2 L649.6 75.1 L650.2 73.8 L650.8 74.7 L651.4 75.8 L651.9 75.3 L652.5 75.9 L653.1 73.7 L653.7 74.0 L654.3 74.8 L654.9 74.8 L655.4 74.6 L656.0 74.2 L656.6 74.2 L657.2 74.0 L657.8 74.9 L658.3 72.9 L658.9 75.8 L659.5 74.1 L660.1 73.3 L660.7 74.9 L661.3 73.3 L661.8 74.7 L662.4 74.1 L663.0 74.9 L663.6 75.0 L664.2 75.4 L664.8 74.0 L665.3 74.2 L665.9 74.4 L666.5 73.2 L667.1 74.8 L667.7 74.5 L668.3 73.3 L668.8 75.3 L669.4 75.4 L670.0 73.3 L670.6 74.8 L671.2 75.3 L671.8 75.0 L672.3 73.5 L672.9 73.2 L673.5 74.2 L674.1 73.9 L674.7 74.3 L675.3 74.2 L675.9 74.7 L676.4 73.8 L677.0 74.1 L677.6 75.8 L678.2 74.1 L678.8 74.8 L679.4 74.4 L679.9 74.4 L680.5 73.5 L681.1 74.6 L681.7 74.2 L682.3 74.8 L682.9 75.8 L683.4 74.3 L684.0 74.8 L684.6 73.4 L685.2 74.3 L685.8 75.4 L686.4 74.1 L687.0 73.7 L687.5 74.3 L688.1 74.0 L688.7 74.0 L689.3 73.9 L689.9 75.7 L690.5 73.5 L691.1 73.8 L691.6 73.7 L692.2 75.1 L692.8 73.9 L693.4 75.2 L694.0 74.3 L694.6 74.1 L695.1 73.0 L695.7 75.1 L696.3 74.6 L696.9 74.5 L697.5 74.0 L698.1 73.8 L698.7 73.1 L699.2 74.9 L699.8 74.4 L700.4 73.9 L701.0 73.6 L701.6 74.2 L702.2 74.1 L702.8 75.5 L703.4 74.8 L703.9 73.7 L704.5 73.3 L705.1 74.0 L705.7 73.4 L706.3 74.2 L706.9 74.5 L707.5 74.7 L708.0 74.5 L708.6 74.0 L709.2 74.7 L709.8 73.5 L710.4 74.2 L711.0 74.9 L711.6 74.5 L712.2 73.2 L712.7 73.3 L713.3 73.0 L713.9 75.7 L714.5 73.0 L715.1 74.2 L715.7 75.7 L716.3 75.1 L716.8 75.4 L717.4 73.9 L718.0 74.9 L718.6 75.9 L719.2 74.3 L719.8 74.7 L720.4 74.1 L721.0 74.4 L721.5 74.7 L722.1 75.5 L722.7 73.7 L723.3 73.3 L723.9 74.4 L724.5 74.6 L725.1 75.6 L725.7 75.0 L726.3 74.0 L726.8 74.9 L727.4 75.4 L728.0 74.7 L728.6 74.3 L729.2 75.1 L729.8 74.3 L730.4 73.1 L731.0 75.6 L731.6 73.6 L732.1 74.3 L732.7 74.4 L733.3 74.4 L733.9 74.4 L734.5 73.5 L735.1 75.1 L735.7 74.7 L736.3 74.8 L736.9 75.6 L737.4 75.6 L738.0 75.9 L738.6 76.3 L739.2 75.2 L739.8 73.6 L740.4 75.0 L741.0 74.9 L741.6 75.0 L742.2 74.4 L742.8 74.2 L743.3 75.6 L743.9 75.8 L744.5 74.1 L745.1 75.5 L745.7 74.9 L746.3 74.8 L746.9 75.6 L747.5 75.1 L748.1 74.7 L748.7 75.2 L749.2 73.6 L749.8 74.7 L750.4 74.9 L751.0 74.2 L751.6 75.4 L752.2 75.5 L752.8 74.9 L753.4 75.2 L754.0 75.9 L754.6 76.3 L755.2 74.8 L755.8 75.8 L756.3 76.3 L756.9 75.5 L757.5 75.0 L758.1 75.0 L758.7 75.4 L759.3 74.8 L759.9 77.3 L760.5 75.3 L761.1 76.1 L761.7 75.9 L762.3 76.3 L762.8 75.5 L763.4 74.8 L764.0 77.2 L764.6 75.9 L765.2 76.1 L765.8 76.2 L766.4 77.1 L767.0 76.7 L767.6 77.1 L768.2 76.8 L768.8 76.3 L769.4 76.4 L770.0 75.7 L770.5 74.8 L771.1 76.2 L771.7 75.5 L772.3 78.0 L772.9 77.7 L773.5 77.5 L774.1 76.1 L774.7 78.2 L775.3 75.3 L775.9 75.7 L776.5 76.1 L777.0 76.0 L777.6 76.9 L778.2 77.0 L778.8 78.4 L779.4 77.7 L780.0 78.0 L780.6 77.4 L781.2 77.0 L781.8 76.6 L782.4 76.0 L783.0 76.5 L783.6 77.0 L784.1 77.9 L784.7 76.0 L785.3 76.3 L785.9 77.6 L786.5 76.7 L787.1 77.8 L787.7 77.3 L788.3 77.1 L788.9 76.7 L789.5 77.7 L790.0 77.2 L790.6 77.4 L791.2 77.4 L791.8 78.1 L792.4 78.2 L793.0 76.7 L793.6 78.0 L794.2 78.5 L794.8 79.1 L795.4 78.9 L795.9 78.5 L796.5 77.5 L797.1 77.9 L797.7 79.3 L798.3 78.0 L798.9 79.5 L799.5 79.7 L800.1 77.9 L800.7 79.2 L801.2 78.8 L801.8 80.6 L802.4 79.7 L803.0 78.7 L803.6 79.5 L804.2 78.5 L804.8 79.2 L805.4 79.5 L805.9 79.5 L806.5 79.7 L807.1 78.8 L807.7 78.1 L808.3 79.4 L808.9 79.0 L809.5 79.2 L810.0 81.5 L810.6 80.9 L811.2 79.9 L811.8 78.9 L812.4 79.1 L813.0 80.5 L813.6 81.1 L814.1 80.1 L814.7 80.5 L815.3 80.7 L815.9 81.4 L816.5 79.1 L817.1 80.8 L817.6 81.1 L818.2 81.6 L818.8 81.3 L819.4 80.1 L820.0 80.6 L820.6 80.0 L821.1 81.4 L821.7 81.5 L822.3 81.8 L822.9 80.7 L823.5 80.7 L824.1 82.9 L824.6 81.9 L825.2 83.2 L825.8 82.2 L826.4 80.8 L827.0 82.7 L827.5 83.1 L828.1 81.9 L828.7 80.8 L829.3 82.9 L829.9 82.4 L830.4 82.8 L831.0 81.1 L831.6 83.1 L832.2 81.2 L832.7 82.2 L833.3 83.7 L833.9 81.6 L834.5 81.7 L835.1 82.9 L835.6 84.7 L836.2 84.7 L836.8 83.1 L837.4 84.4 L837.9 84.2 L838.5 84.0 L839.1 84.2 L839.7 83.4 L840.2 84.7 L840.8 85.1 L841.4 85.9 L842.0 85.1 L842.5 82.9 L843.1 83.6 L843.7 85.0 L844.3 84.8 L844.8 83.4 L845.4 84.9 L846.0 84.8 L846.5 85.1 L847.1 85.2 L847.7 86.1 L848.3 86.7 L848.8 86.1 L849.4 84.8 L850.0 85.1 L850.5 85.4 L851.1 86.0 L851.7 85.8 L852.2 86.0 L852.8 85.6 L853.4 87.2 L853.9 87.2 L854.5 87.4 L855.1 86.7 L855.6 87.3 L856.2 86.3 L856.8 86.3 L857.3 86.8 L857.9 87.8 L858.5 87.3 L859.0 86.7 L859.6 87.8 L860.2 88.2 L860.7 88.1 L861.3 87.5 L861.9 88.2 L862.4 88.0 L863.0 88.2 L863.5 88.5 L864.1 89.3 L864.7 90.3 L865.2 90.2 L865.8 89.6 L866.3 88.9 L866.9 89.1 L867.5 89.2 L868.0 90.5 L868.6 88.1 L869.1 90.1 L869.7 88.4 L870.3 90.1 L870.8 91.3 L871.4 89.7 L871.9 88.9 L872.5 91.7 L873.0 92.0 L873.6 91.4 L874.1 92.1 L874.7 90.6 L875.3 92.3 L875.8 92.9 L876.4 92.2 L876.9 92.1 L877.5 93.0 L878.0 93.0 L878.6 91.7 L879.1 93.5 L879.7 93.2 L880.2 92.9 L880.8 94.0 L881.3 93.8 L881.9 93.8 L882.4 93.0 L883.0 94.2 L883.5 92.8 L884.1 93.8 L884.6 92.7 L885.2 92.9 L885.7 94.8 L886.2 94.5 L886.8 94.8 L887.3 95.4 L887.9 95.4 L888.4 94.6 L889.0 95.5 L889.5 95.6 L890.0 95.4 L890.6 95.9 L891.1 95.9 L891.7 95.9 L892.2 96.3 L892.8 96.9 L893.3 98.5 L893.8 96.5 L894.4 97.7 L894.9 96.4 L895.4 99.0 L896.0 97.7 L896.5 98.2 L897.1 99.4 L897.6 99.3 L898.1 97.5 L898.7 99.4 L899.2 99.0 L899.7 99.9 L900.3 99.7 L900.8 100.4 L901.3 100.2 L901.9 100.1 L902.4 101.4 L902.9 99.4 L903.4 100.5 L904.0 100.4 L904.5 101.2 L905.0 101.2 L905.6 101.7 L906.1 101.6 L906.6 101.9 L907.1 101.2 L907.7 102.7 L908.2 103.2 L908.7 102.7 L909.2 102.9 L909.8 103.2 L910.3 105.3 L910.8 104.4 L911.3 104.8 L911.9 104.5 L912.4 104.6 L912.9 104.5 L913.4 106.7 L913.9 104.4 L914.4 106.2 L915.0 106.2 L915.5 106.3 L916.0 105.5 L916.5 106.1 L917.0 108.1 L917.5 107.1 L918.1 108.6 L918.6 108.7 L919.1 108.9 L919.6 109.3 L920.1 108.0 L920.6 108.9 L921.1 110.1 L921.6 108.8 L922.1 111.5 L922.6 110.0 L923.2 110.7 L923.7 110.2 L924.2 111.6 L924.7 111.0 L925.2 111.7 L925.7 111.3 L926.2 113.5 L926.7 111.5 L927.2 113.5 L927.7 113.6 L928.2 114.1 L928.7 113.2 L929.2 115.2 L929.7 115.4 L930.2 115.1 L930.7 115.5 L931.2 115.5 L931.7 116.4 L932.1 115.6 L932.6 117.0 L933.1 117.2 L933.6 116.1 L934.1 115.9 L934.6 117.8 L935.1 118.1 L935.6 119.5 L936.1 118.9 L936.5 118.8 L937.0 118.5 L937.5 119.8 L938.0 119.8 L938.5 119.7 L939.0 120.8 L939.4 122.1 L939.9 121.7 L940.4 121.1 L940.9 122.5 L941.3 121.8 L941.8 121.7 L942.3 123.7 L942.8 123.3 L943.2 124.9 L943.7 124.7 L944.2 124.1 L944.6 125.3 L945.1 126.5 L945.6 125.7 L946.0 125.4 L946.5 126.0 L947.0 126.3 L947.4 126.4 L947.9 126.6 L948.4 128.4 L948.8 129.3 L949.3 128.5 L949.7 129.8 L950.2 130.3 L950.6 131.3 L951.1 130.2 L951.5 130.4 L952.0 131.4 L952.4 131.5 L952.9 132.1 L953.3 133.3 L953.8 132.3 L954.2 133.2 L954.7 132.6 L955.1 133.7 L955.6 133.6 L956.0 134.0 L956.5 134.8 L956.9 135.0 L957.3 136.1 L957.8 136.8 L958.2 135.4 L958.6 137.8 L959.1 135.8 L959.5 138.0 L959.9 138.7 L960.4 138.1 L960.8 138.8 L961.2 138.8 L961.6 140.5 L962.1 138.6 L962.5 139.9 L962.9 139.5 L963.3 141.6 L963.8 142.9 L964.2 143.2 L964.6 143.2 L965.0 143.3 L965.4 142.9 L965.8 144.9 L966.2 144.9 L966.7 144.1 L967.1 144.2 L967.5 145.2 L967.9 147.0 L968.3 147.5 L968.7 148.2 L969.1 146.8 L969.5 147.5 L969.9 149.4 L970.3 148.9 L970.7 149.7 L971.1 148.5 L971.5 149.7 L971.9 150.4 L972.3 150.6 L972.7 151.0 L973.0 150.4 L973.4 153.5 L973.8 152.8 L974.2 151.9 L974.6 154.4 L975.0 154.0 L975.3 155.0 L975.7 154.7 L976.1 154.7 L976.5 155.2 L976.8 156.5 L977.2 157.3 L977.6 157.5 L978.0 158.1 L978.3 159.0 L978.7 158.7 L979.1 159.8 L979.4 160.3 L979.8 160.1 L980.2 160.3 L980.5 160.5 L980.9 160.3 L981.2 160.5 L981.6 163.3 L981.9 162.7 L982.3 162.7 L982.6 164.9 L983.0 164.8 L983.3 164.6 L983.7 165.8 L984.0 165.3 L984.4 166.2 L984.7 167.9 L985.1 167.7 L985.4 167.2 L985.8 168.4 L986.1 169.3 L986.4 168.7 L986.8 168.9 L987.1 171.3 L987.4 170.0 L987.8 169.7 L988.1 171.3 L988.4 173.2 L988.8 172.7 L989.1 173.4 L989.4 171.5 L989.7 173.2 L990.1 175.1 L990.4 174.3 L990.7 176.2 L991.0 176.0 L991.3 176.4 L991.7 177.9 L992.0 176.7 L992.3 177.2 L992.6 178.1 L992.9 178.7 L993.2 177.7 L993.5 180.5 L993.9 180.2 L994.2 180.4 L994.5 181.5 L994.8 181.2 L995.1 183.0 L995.4 182.6 L995.7 183.6 L996.0 182.8 L996.3 183.8 L996.6 184.8 L996.9 184.2 L997.2 185.0 L997.5 186.0 L997.8 187.4 L998.1 187.6 L998.4 188.2 L998.7 188.2 L999.0 189.2 L999.3 190.2 L999.5 189.6 L999.8 190.4 L1000.1 191.0 L1000.4 189.4 L1000.7 191.5 L1001.0 192.4 L1001.3 193.2 L1001.5 192.8 L1001.8 194.3 L1002.1 193.6 L1002.4 194.4 L1002.7 196.4 L1002.9 194.5 L1003.2 196.1 L1003.5 196.5 L1003.8 197.1 L1004.0 197.2 L1004.3 198.7 L1004.6 197.8 L1004.9 198.1 L1005.1 200.1 L1005.4 199.3 L1005.7 201.0 L1005.9 201.3 L1006.2 201.2 L1006.5 202.0 L1006.7 202.7 L1007.0 203.7 L1007.3 203.3 L1007.5 204.2 L1007.8 203.7 L1008.1 205.2 L1008.3 204.4 L1008.6 206.4 L1008.8 206.6 L1009.1 209.0 L1009.4 209.0 L1009.6 208.4 L1009.9 209.8 L1010.1 209.8 L1010.4 209.1 L1010.6 208.9 L1010.9 212.0 L1011.2 211.9 L1011.4 210.6 L1011.7 213.2 L1011.9 213.9 L1012.2 213.2 L1012.4 214.9 L1012.7 213.4 L1012.9 215.1 L1013.1 215.9 L1013.4 217.0 L1013.6 217.2 L1013.9 217.6 L1014.1 218.4 L1014.4 217.9 L1014.6 220.2 L1014.9 219.2 L1015.1 220.7 L1015.3 220.6 L1015.6 220.9 L1015.8 222.1 L1016.1 222.5 L1016.3 223.8 L1016.5 224.1 L1016.8 223.3 L1017.0 224.7 L1017.2 224.9 L1017.5 224.7 L1017.7 225.0 L1017.9 226.6 L1018.2 226.5 L1018.4 226.4 L1018.6 227.9 L1018.9 228.7 L1019.1 229.2 L1019.3 228.7 L1019.6 229.7 L1019.8 231.8 L1020.0 230.6 L1020.2 231.5 L1020.5 233.9 L1020.7 233.1 L1020.9 233.0 L1021.2 232.3 L1021.4 234.7 L1021.6 233.9 L1021.8 235.5 L1022.0 235.3 L1022.3 235.2 L1022.5 238.4 L1022.7 237.6 L1022.9 238.9 L1023.1 239.3 L1023.4 238.7 L1023.6 239.9 L1023.8 240.1 L1024.0 241.7 L1024.2 241.8 L1024.4 241.7 L1024.7 243.8 L1024.9 243.5 L1025.1 244.0 L1025.3 243.5 L1025.5 245.0 L1025.7 244.0 L1025.9 246.1 L1026.1 245.5 L1026.3 247.0 L1026.6 247.2 L1026.8 248.1 L1027.0 248.8 L1027.2 249.0 L1027.4 249.5 L1027.6 248.9 L1027.8 249.1 L1028.0 252.2 L1028.2 252.2 L1028.4 251.1 L1028.6 254.3 L1028.8 252.8 L1029.0 254.3 L1029.2 254.8 L1029.4 255.1 L1029.6 256.0 L1029.8 255.0 L1030.0 256.6 L1030.2 257.0 L1030.4 257.8 L1030.6 258.1 L1030.8 258.3 L1031.0 258.8 L1031.2 260.6 L1031.4 259.8 L1031.6 261.3 L1031.8 261.9 L1032.0 262.1 L1032.2 263.0 L1032.4 263.7 L1032.6 263.4 L1032.7 264.6 L1032.9 266.4 L1033.1 264.6 L1033.3 265.7 L1033.5 265.9 L1033.7 268.7 L1033.9 266.5 L1034.1 268.2 L1034.3 269.5 L1034.4 268.6 L1034.6 269.7 L1034.8 269.8 L1035.0 269.9 L1035.2 271.4 L1035.4 272.4 L1035.6 272.3 L1035.7 273.3 L1035.9 274.3 L1036.1 275.2 L1036.3 273.8 L1036.5 275.9 L1036.6 275.4 L1036.8 275.0 L1037.0 276.4 L1037.2 278.1 L1037.4 278.4 L1037.5 277.8 L1037.7 280.5 L1037.9 280.1 L1038.1 280.3 L1038.2 280.5 L1038.4 281.8 L1038.6 281.7 L1038.8 283.5 L1038.9 283.4 L1039.1 284.2 L1039.3 284.0 L1039.5 283.7 L1039.6 285.8 L1039.8 285.1 L1040.0 286.4 L1040.1 287.1 L1040.3 287.0 L1040.5 288.9 L1040.6 287.6 L1040.8 290.5 L1041.0 289.4 L1041.1 291.2 L1041.3 292.0 L1041.5 290.9 L1041.6 291.5 L1041.8 293.4 L1042.0 293.4 L1042.1 293.8 L1042.3 292.9 L1042.5 293.6 L1042.6 295.9 L1042.8 297.2 L1043.0 296.0 L1043.1 296.5 L1043.3 297.9 L1043.4 298.6 L1043.6 299.3 L1043.8 299.0 L1043.9 298.4 L1044.1 301.7 L1044.2 300.7 L1044.4 302.6 L1044.6 300.6 L1044.7 303.1 L1044.9 302.9 L1045.0 303.0 L1045.2 305.2 L1045.3 306.1 L1045.5 305.1 L1045.7 306.7 L1045.8 305.9 L1046.0 306.8 L1046.1 307.7 L1046.3 308.1 L1046.4 309.5 L1046.6 308.6 L1046.7 310.9 L1046.9 311.4 L1047.0 311.1 L1047.2 310.9 L1047.3 310.8 L1047.5 312.9 L1047.6 312.9 L1047.8 314.2 L1047.9 313.8 L1048.1 315.2 L1048.2 315.7 L1048.4 316.3 L1048.5 317.1 L1048.7 317.7 L1048.8 318.8 L1049.0 318.0 L1049.1 319.7 L1049.2 319.9 L1049.4 320.0 L1049.5 320.1 L1049.7 322.6 L1049.8 322.2 L1050.0 322.2 L1050.1 323.2 L1050.3 323.7 L1050.4 323.9 L1050.5 323.8 L1050.7 325.5 L1050.8 325.9 L1051.0 326.3 L1051.1 327.9 L1051.2 326.7 L1051.4 327.5 L1051.5 329.0 L1051.7 330.1 L1051.8 330.5 L1051.9 331.1 L1052.1 329.5 L1052.2 332.1 L1052.4 332.6 L1052.5 333.4 L1052.6 332.9 L1052.8 334.4 L1052.9 335.3 L1053.0 336.4 L1053.2 335.9 L1053.3 335.2 L1053.4 336.9 L1053.6 337.9 L1053.7 338.4 L1053.8 340.1 L1054.0 339.0 L1054.1 338.9 L1054.2 339.8 L1054.4 341.3 L1054.5 340.8 L1054.6 341.1 L1054.8 341.9 L1054.9 344.1 L1055.0 343.9 L1055.2 344.0 L1055.3 345.5 L1055.4 345.9 L1055.6 345.2 L1055.7 347.2 L1055.8 347.3 L1055.9 346.1 L1056.1 347.3 L1056.2 349.0 L1056.3 349.8 L1056.5 349.8 L1056.6 349.8 L1056.7 351.3 L1056.8 350.3 L1057.0 352.7 L1057.1 352.7 L1057.2 353.4 L1057.3 353.5 L1057.5 355.2 L1057.6 353.5 L1057.7 355.0 L1057.8 356.8 L1058.0 356.3 L1058.1 358.6 L1058.2 358.4 L1058.3 358.0 L1058.5 360.1 L1058.6 359.7 L1058.7 360.8 L1058.8 360.4 L1058.9 361.0 L1059.1 362.6 L1059.2 362.7 L1059.3 362.6 L1059.4 363.1 L1059.6 364.9 L1059.7 366.3 L1059.8 364.8 L1059.9 366.6 L1060.0 365.0 L1060.2 366.1 L1060.3 368.3 L1060.4 369.6 L1060.5 369.0 L1060.6 370.0 L1060.8 370.3 L1060.9 371.5 L1061.0 370.4 L1061.1 372.3 L1061.2 372.1 L1061.3 372.7 L1061.5 373.6 L1061.6 374.0 L1061.7 374.1 L1061.8 375.1 L1061.9 375.1 L1062.0 377.6 L1062.2 377.6 L1062.3 377.3 L1062.4 379.4 L1062.5 379.8 L1062.6 379.7 L1062.7 379.5 L1062.8 380.7 L1063.0 381.5 L1063.1 382.7 L1063.2 382.1 L1063.3 382.3 L1063.4 384.9 L1063.5 385.0 L1063.6 384.8 L1063.8 384.4 L1063.9 386.1 L1064.0 387.1 L1064.1 387.4 L1064.2 388.1 L1064.3 388.0 L1064.4 389.5 L1064.5 388.7 L1064.7 389.4 L1064.8 389.9 L1064.9 390.3 L1065.0 393.0 L1065.1 390.7 L1065.2 392.8 L1065.3 392.4 L1065.4 392.8 L1065.5 394.4 L1065.7 393.7 L1065.8 395.4 L1065.9 397.6 L1066.0 396.5 L1066.1 397.6 L1066.2 397.1 L1066.3 398.7 L1066.4 397.7 L1066.5 399.7 L1066.6 400.0 L1066.7 402.2 L1066.9 401.2 L1067.0 401.5 L1067.1 401.9 L1067.2 402.0 L1067.3 404.1 L1067.4 405.3 L1067.5 404.4 L1067.6 405.8 L1067.7 405.5 L1067.8 406.7 L1067.9 407.3 L1068.0 406.4 L1068.1 407.5 L1068.3 409.5 L1068.4 407.8 L1068.5 409.9 L1068.6 410.2 L1068.7 410.3 L1068.8 411.6 L1068.9 412.4 L1069.0 413.2 L1069.1 411.7 L1069.2 415.2 L1069.3 414.1 L1069.4 415.9 L1069.5 415.5 L1069.6 415.7 L1069.7 416.7 L1069.8 418.9 L1069.9 419.2 L1070.0 418.2 L1070.1 419.3 L1070.3 420.6 L1070.4 420.7 L1070.5 420.9 L1070.6 421.2 L1070.7 421.1 L1070.8 423.1 L1070.9 424.0 L1071.0 425.3 L1071.1 423.8 L1071.2 425.4 L1071.3 425.4 L1071.4 427.0 L1071.5 426.5 L1071.6 426.6 L1071.7 426.4 L1071.8 428.9 L1071.9 429.0 L1072.0 430.4 L1072.1 429.6 L1072.2 432.2 L1072.3 430.6 L1072.4 432.2 L1072.5 432.7 L1072.6 433.8 L1072.7 433.4 L1072.8 433.3 L1072.9 433.9 L1073.0 435.9 L1073.1 435.9 L1073.2 436.7 L1073.3 436.3 L1073.4 437.6 L1073.5 438.3 L1073.6 439.2 L1073.7 438.1 L1073.8 439.2 L1073.9 441.8 L1074.0 440.7 L1074.1 441.5 L1074.2 441.8 L1074.3 441.5 L1074.4 442.4 L1074.5 444.2 L1074.6 443.9 L1074.7 446.6 L1074.8 444.4 L1074.9 444.6 L1075.0 446.5 L1075.1 446.4 L1075.2 449.0 L1075.3 448.2 L1075.4 449.5 L1075.5 448.5 L1075.6 450.8 L1075.6 451.3 L1075.7 452.4 L1075.8 452.1 L1075.9 452.9 L1076.0 453.2 L1076.1 454.4 L1076.2 453.9 L1076.3 455.3 L1076.4 455.0 L1076.5 456.6 L1076.6 456.4 L1076.7 456.6 L1076.8 457.2 L1076.9 459.5 L1077.0 457.6 L1077.1 458.3 L1077.2 460.5 L1077.3 459.8 L1077.4 460.8 L1077.5 461.4 L1077.5 464.0 L1077.6 462.4 L1077.7 462.9 L1077.8 463.8 L1077.9 464.8 L1078.0 465.6 L1078.1 464.6 L1078.2 466.7 L1078.3 468.5 L1078.4 466.1 L1078.5 468.6 L1078.6 469.3 L1078.7 469.4 L1078.8 469.7 L1078.8 468.8 L1078.9 472.0 L1079.0 471.3 L1079.1 472.0 L1079.2 473.7 L1079.3 471.7 L1079.4 473.8 L1079.5 474.9 L1079.6 475.6 L1079.7 476.1 L1079.8 477.8 L1079.8 477.0 L1079.9 478.2 L1080.0 478.6 L1080.1 477.3 L1080.2 478.5 L1080.3 481.3 L1080.4 480.0 L1080.5 480.8 L1080.6 480.3 L1080.6 481.7 L1080.7 481.5 L1080.8 482.6 L1080.9 484.2 L1081.0 483.6 L1081.1 484.4 L1081.2 486.5 L1081.3 486.4 L1081.4 487.0 L1081.4 488.0 L1081.5 487.3 L1081.6 488.0 L1081.7 487.3 L1081.8 490.1 L1081.9 489.9 L1082.0 490.6 L1082.1 490.3 L1082.1 492.3 L1082.2 492.9 L1082.3 493.1 L1082.4 492.3 L1082.5 493.4 L1082.6 494.7 L1082.7 494.6 L1082.7 496.1 L1082.8 497.2 L1082.9 496.4 L1083.0 497.4 L1083.1 497.6 L1083.2 499.6 L1083.3 500.0 L1083.3 501.5 L1083.4 500.5 L1083.5 500.3 L1083.6 501.9 L1083.7 502.0 L1083.8 502.9 L1083.9 504.3 L1083.9 503.7 L1084.0 505.1 L1084.1 503.5 L1084.2 506.5 L1084.3 506.3 L1084.4 506.6 L1084.4 507.0 L1084.5 509.1 L1084.6 508.1 L1084.7 510.1 L1084.8 509.3 L1084.9 510.3 L1084.9 511.1 L1085.0 513.0 L1085.1 512.2 L1085.2 512.8 L1085.3 513.1 L1085.4 513.5 L1085.4 513.9 L1085.5 516.4 L1085.6 516.7 L1085.7 515.5 L1085.8 516.8 L1085.8 516.3 L1085.9 518.6 L1086.0 518.9 L1086.1 519.1 L1086.2 518.9 L1086.2 520.7 L1086.3 521.2 L1086.4 521.1 L1086.5 522.4 L1086.6 521.4 L1086.6 522.5 L1086.7 522.8 L1086.8 524.3 L1086.9 526.1 L1087.0 525.4 L1087.0 526.8 L1087.1 526.5 L1087.2 526.7 L1087.3 528.4 L1087.4 528.6 L1087.4 529.9 L1087.5 530.1 L1087.6 529.3 L1087.7 528.9 L1087.8 531.2 L1087.8 530.7 L1087.9 531.1 L1088.0 531.6 L1088.1 532.9 L1088.1 533.8 L1088.2 534.6 L1088.3 536.7 L1088.4 534.8 L1088.5 536.3 L1088.5 535.9 L1088.6 536.7 L1088.7 538.1 L1088.8 538.9 L1088.8 538.2 L1088.9 540.7 L1089.0 539.6 L1089.1 541.7 L1089.1 541.5 L1089.2 542.8 L1089.3 543.1 L1089.4 543.0 L1089.5 544.2 L1089.5 543.3 L1089.6 543.9 L1089.7 545.3 L1089.8 547.2 L1089.8 546.1 L1089.9 546.8 L1090.0 549.2 L1090.1 548.5 L1090.1 549.0 L1090.2 548.8 L1090.3 550.2 L1090.4 551.2 L1090.4 551.3 L1090.5 552.5 L1090.6 552.7 L1090.6 553.9 L1090.7 554.3 L1090.8 554.1 L1090.9 555.5 L1090.9 556.8 L1091.0 556.2 L1091.1 555.6 L1091.2 557.3 L1091.2 557.5 L1091.3 559.9 L1091.4 559.5 L1091.5 558.5 L1091.5 559.9 L1091.6 561.8 L1091.7 560.2 L1091.7 561.3 L1091.8 562.3 L1091.9 562.8 L1092.0 563.0 L1092.0 564.2 L1092.1 563.5 L1092.2 564.7 L1092.2 565.3 L1092.3 566.1 L1092.4 566.7 L1092.5 567.5 L1092.5 567.8 L1092.6 568.3 L1092.7 569.5 L1092.7 570.5 L1092.8 571.2 L1092.9 570.1 L1093.0 571.8 L1093.0 572.7 L1093.1 572.5 L1093.2 573.7 L1093.2 573.7 L1093.3 574.8 L1093.4 573.8 L1093.4 576.0 L1093.5 575.8 L1093.6 576.2 L1093.7 577.1 L1093.7 578.7 L1093.8 579.3 L1093.9 579.3 L1093.9 580.4 L1094.0 579.9 L1094.1 579.8 L1094.1 579.9 L1094.2 582.0 L1094.3 582.4 L1094.3 583.2 L1094.4 583.8 L1094.5 585.3 L1094.5 584.1 L1094.6 584.8 L1094.7 587.6 L1094.7 587.2 L1094.8 586.9 L1094.9 586.2 L1094.9 587.7 L1095.0 588.6 L1095.1 589.4 L1095.1 590.2 L1095.2 590.5 L1095.3 592.2 L1095.3 590.9 L1095.4 592.2 L1095.5 592.4 L1095.5 594.2 L1095.6 594.3 L1095.7 595.3 L1095.7 595.3 L1095.8 597.5 L1095.9 597.0 L1095.9 596.4 L1096.0 597.6 L1096.1 597.9 L1096.1 599.4 L1096.2 600.1 L1096.3 600.2 L1096.3 600.4 L1096.4 600.5 L1096.5 602.9 L1096.5 603.1 L1096.6 601.2 L1096.7 603.5 L1096.7 603.3 L1096.8 604.3 L1096.8 606.5 L1096.9 604.8 L1097.0 605.5 L1097.0 608.5 L1097.1 607.1 L1097.2 607.9 L1097.2 609.5 L1097.3 608.8 L1097.4 609.8 L1097.4 610.6 L1097.5 612.1 L1097.5 610.2 L1097.6 611.4 L1097.7 612.6 L1097.7 614.0 L1097.8 613.3 L1097.9 614.8 L1097.9 614.6 L1098.0 615.3 L1098.0 617.2 L1098.1 616.6 L1098.2 618.9 L1098.2 618.2 L1098.3 619.4 L1098.4 619.7 L1098.4 618.4 L1098.5 619.0 L1098.5 621.2 L1098.6 620.5 L1098.7 621.5 L1098.7 622.3 L1098.8 622.4 L1098.8 624.7 L1098.9 624.9 L1099.0 625.0 L1099.0 625.9 L1099.1 625.3 L1099.1 627.3 L1099.2 626.5 L1099.3 629.0 L1099.3 627.8 L1099.4 628.5 L1099.4 630.4 L1099.5 630.6 L1099.6 629.9 L1099.6 631.7 L1099.7 631.8 L1099.7 632.4 L1099.8 633.5 L1099.9 634.1 L1099.9 635.0 L1100.0 635.1 L1100.0 635.6 L1100.1 635.8 L1100.2 637.7 L1100.2 636.4 L1100.3 639.2 L1100.3 639.8 L1100.4 640.4 L1100.4 639.3 L1100.5 641.5 L1100.6 641.4 L1100.6 642.0 L1100.7 643.3 L1100.7 642.4 L1100.8 643.3 L1100.8 642.4 L1100.9 642.4 L1101.0 644.8 L1101.0 645.5 L1101.1 646.3 L1101.1 646.6 L1101.2 645.3 L1101.2 647.8 L1101.3 649.0 L1101.4 649.9 L1101.4 648.5 L1101.5 649.1 L1101.5 649.8 L1101.6 650.5 L1101.6 650.3 L1101.7 651.6 L1101.8 654.0 L1101.8 652.4 L1101.9 652.4 L1101.9 654.2 L1102.0 654.6 L1102.0 656.1 L1102.1 655.6 L1102.1 656.6 L1102.2 656.7 L1102.2 657.1 L1102.3 658.8 L1102.4 659.2 L1102.4 659.6 L1102.5 660.7 L1102.5 660.2 L1102.6 661.4 L1102.6 662.2 L1102.7 663.5 L1102.7 661.6 L1102.8 663.4 L1102.8 664.7 L1102.9 664.4 L1103.0 665.5 L1103.0 666.6 L1103.1 667.0 L1103.1 665.8 L1103.2 666.8 L1103.2 666.8 L1103.3 669.5 L1103.3 669.7 L1103.4 671.2 L1103.4 670.7 L1103.5 670.4 L1103.5 672.7 L1103.6 671.4 L1103.6 673.0 L1103.7 673.4 L1103.8 674.8 L1103.8 675.5 L1103.9 675.0 L1103.9 675.3 L1104.0 676.5 L1104.0 676.6 L1104.1 678.4 L1104.1 678.5 L1104.2 679.9 L1104.2 681.0 L1104.3 679.3 L1104.3 680.1 L1104.4 681.5 L1104.4 682.1 L1104.5 682.0 L1104.5 681.5 L1104.6 685.1 L1104.6 684.1 L1104.7 683.7 L1104.7 683.6 L1104.8 686.9 L1104.8 686.6 L1104.9 687.0 L1104.9 686.7 L1105.0 688.0 L1105.0 688.4 L1105.1 687.7 L1105.1 691.5 L1105.2 690.8 L1105.2 690.7 L1105.3 690.8 L1105.3 691.7 L1105.4 694.4 L1105.4 693.7 L1105.5 692.9 L1105.5 695.2 L1105.6 695.5 L1105.6 696.1 L1105.7 696.1 L1105.7 696.7 L1105.8 697.6 L1105.8 697.8 L1105.9 697.4 L1105.9 698.4 L1106.0 699.7 L1106.0 699.0 L1106.1 700.8 L1106.1 701.2 L1106.2 702.7 L1106.2 702.8 L1106.3 703.0 L1106.3 703.6 L1106.4 704.7 L1106.4 705.7 L1106.5 704.7 L1106.5 704.9 L1106.5 706.1 L1106.6 705.7 L1106.6 707.2 L1106.7 709.1 L1106.7 709.8 L1106.8 710.9 L1106.8 710.3 L1106.9 710.9 L1106.9 710.9 L1107.0 711.5 L1107.0 712.8 L1107.1 713.9 L1107.1 714.0 L1107.2 712.7 L1107.2 715.3 L1107.2 715.4 L1107.3 715.5 L1107.3 716.7 L1107.4 717.9 L1107.4 717.9 L1107.5 717.8 L1107.5 720.5 L1107.6 719.0 L1107.6 720.5 L1107.7 721.7 L1107.7 720.6 L1107.8 722.3 L1107.8 721.7 L1107.8 722.8 L1107.9 723.0 L1107.9 725.6 L1108.0 723.6 L1108.0 725.7 L1108.1 725.9 L1108.1 724.9 L1108.2 728.5 L1108.2 727.2 L1108.2 728.0 L1108.3 729.0 L1108.3 728.7 L1108.4 729.4 L1108.4 730.5 L1108.5 730.4 L1108.5 731.8 L1108.6 733.3 L1108.6 732.1 L1108.6 732.2 L1108.7 734.0 L1108.7 735.0 L1108.8 735.8 L1108.8 734.9 L1108.9 734.8 L1108.9 737.7 L1108.9 738.1 L1109.0 739.4 L1109.0 737.9 L1109.1 739.8 L1109.1 740.7 L1109.2 739.0 L1109.2 741.9 L1109.2 742.8 L1109.3 742.7 L1109.3 743.2 L1109.4 744.0 L1109.4 743.7 L1109.5 743.4 L1109.5 744.4 L1109.5 745.6 L1109.6 745.6 L1109.6 747.7 L1109.7 747.1 L1109.7 747.9 L1109.8 747.2 L1109.8 749.5 L1109.8 749.2 L1109.9 751.6 L1109.9 749.6 L1110.0 751.8 L1110.0 751.8 L1110.0 752.4 L1110.1 754.6 L1110.1 754.6 L1110.2 753.8 L1110.2 756.1 L1110.3 755.1 L1110.3 756.8 L1110.3 755.4 L1110.4 757.1 L1110.4 757.7 L1110.5 758.3 L1110.5 757.8 L1110.5 758.2 L1110.6 760.3 L1110.6 761.3 L1110.7 761.5 L1110.7 761.7 L1110.7 761.4 L1110.8 763.0 L1110.8 763.3 L1110.9 763.8 L1110.9 765.1 L1110.9 765.7 L1111.0 766.4 L1111.0 766.5 L1111.1 766.6 L1111.1 767.7 L1111.1 768.2 L1111.2 767.7 L1111.2 769.3 L1111.3 768.9 L1111.3 769.2 L1111.3 770.7 L1111.4 771.4 L1111.4 773.1 L1111.4 772.9 L1111.5 774.1 L1111.5 775.4 L1111.6 774.9 L1111.6 775.7 L1111.6 775.5 L1111.7 777.3 L1111.7 777.2 L1111.8 777.8 L1111.8 777.4 L1111.8 778.2 L1111.9 779.0 L1111.9 780.2 L1111.9 781.6 L1112.0 780.1 L1112.0 781.6 L1112.1 782.2 L1112.1 784.6 L1112.1 783.4 L1112.2 783.8 L1112.2 785.4 L1112.2 784.5 L1112.3 786.4 L1112.3 785.2 L1112.4 788.7 L1112.4 787.6 L1112.4 787.9 L1112.5 787.8 L1112.5 789.3 L1112.5 790.1 L1112.6 790.0 L1112.6 792.1 L1112.6 791.5 L1112.7 792.4 L1112.7 793.2 L1112.8 794.6 L1112.8 793.8 L1112.8 794.7 L1112.9 795.5 L1112.9 796.3 L1112.9 795.0 L1113.0 797.9 L1113.0 797.5 L1113.0 797.6 L1113.1 798.8 L1113.1 797.8 L1113.2 799.3 L1113.2 800.7 L1113.2 802.2 L1113.3 801.6 L1113.3 802.6 L1113.3 802.6 L1113.4 804.1 L1113.4 803.7 L1113.4 805.0 L1113.5 804.9 L1113.5 805.0 L1113.5 805.6 L1113.6 806.4 L1113.6 808.5 L1113.6 809.7 L1113.7 808.6 L1113.7 808.7 L1113.8 810.3 L1113.8 810.9 L1113.8 810.6 L1113.9 813.2 L1113.9 812.9 L1113.9 813.6 L1114.0 813.5 L1114.0 814.1 L1114.0 815.3 L1114.1 814.0 L1114.1 815.1 L1114.1 816.4 L1114.2 815.7 L1114.2 818.8 L1114.2 817.6 L1114.3 818.3 L1114.3 819.5 L1114.3 821.0 L1114.4 820.4 L1114.4 820.4 L1114.4 820.8 L1114.5 822.4 L1114.5 822.3 L1114.5 824.9 L1114.6 824.9 L1114.6 822.9 L1114.6 824.4 L1114.7 826.0 L1114.7 827.9 L1114.7 825.3 L1114.8 827.1 L1114.8 829.0 L1114.8 828.1 L1114.9 829.2 L1114.9 829.4 L1114.9 830.9 L1115.0 830.1 L1115.0 831.6 L1115.0 831.0 L1115.1 833.5 L1115.1 833.8 L1115.1 833.8 L1115.2 834.5 L1115.2 835.1 L1115.2 835.3 L1115.2 836.3 L1115.3 837.1 L1115.3 837.3 L1115.3 837.5 L1115.4 838.2 L1115.4 838.8 L1115.4 840.1 L1115.5 840.4 L1115.5 842.5 L1115.5 841.3 L1115.6 842.1 L1115.6 842.1 L1115.6 843.3 L1115.7 843.5 L1115.7 843.7 L1115.7 845.1 L1115.7 846.9 L1115.8 845.5 L1115.8 846.2 L1115.8 847.3 L1115.9 848.1 L1115.9 849.5 L1115.9 848.6 L1116.0 849.6 L1116.0 849.6 L1116.0 850.1 L1116.1 851.1 L1116.1 851.1 L1116.1 853.0 L1116.1 854.0 L1116.2 853.4 L1116.2 853.8 L1116.2 856.0 L1116.3 855.3 L1116.3 857.3 L1116.3 855.1 L1116.4 857.1 L1116.4 857.0 L1116.4 858.0 L1116.4 859.7 L1116.5 860.5 L1116.5 860.1 L1116.5 861.5 L1116.6 860.5 L1116.6 862.2 L1116.6 862.4 L1116.7 861.8 L1116.7 864.4 L1116.7 863.8 L1116.7 865.2 L1116.8 864.9 L1116.8 866.2 L1116.8 867.1 L1116.9 867.2 L1116.9 867.4 L1116.9 868.9 L1116.9 869.2 L1117.0 869.2 L1117.0 870.2 L1117.0 870.7 L1117.1 871.1 L1117.1 872.7 L1117.1 873.9 L1117.1 872.7 L1117.2 873.6 L1117.2 873.5 L1117.2 873.8 L1117.3 876.4 L1117.3 875.5 L1117.3 876.9 L1117.3 876.1 L1117.4 877.3 L1117.4 878.8 L1117.4 879.3 L1117.5 879.7 L1117.5 880.5 L1117.5 880.9 L1117.5 882.1 L1117.6 883.3 L1117.6 882.9 L1117.6 883.0 L1117.7 882.8 L1117.7 883.9 L1117.7 884.6 L1117.7 886.6 L1117.8 884.8 L1117.8 886.0 L1117.8 886.4 L1117.8 888.5 L1117.9 887.8 L1117.9 887.5 L1117.9 887.9 L1118.0 890.4 L1118.0 889.4 L1118.0 892.2 L1118.0 892.7 L1118.1 891.5 L1118.1 892.8 L1118.1 893.6 L1118.1 893.0 L1118.2 893.8 L1118.2 894.9 L1118.2 895.9" stroke="#ee0505" stroke-opacity="0.38"/><path d="M222.3 896.0 L222.5 892.8 L222.6 889.6 L222.7 886.5 L222.8 883.3 L223.0 880.1 L223.1 876.9 L223.2 873.7 L223.4 870.6 L223.5 867.4 L223.6 864.2 L223.8 861.0 L223.9 857.8 L224.0 854.7 L224.2 851.5 L224.3 848.3 L224.4 845.1 L224.6 841.9 L224.7 838.8 L224.9 835.6 L225.0 832.4 L225.2 829.2 L225.3 826.1 L225.5 822.9 L225.6 819.7 L225.8 816.5 L225.9 813.3 L226.1 810.2 L226.2 807.0 L226.4 803.8 L226.5 800.6 L226.7 797.5 L226.8 794.3 L227.0 791.1 L227.2 787.9 L227.3 784.8 L227.5 781.6 L227.6 778.4 L227.8 775.2 L228.0 772.1 L228.1 768.9 L228.3 765.7 L228.5 762.5 L228.7 759.4 L228.8 756.2 L229.0 753.0 L229.2 749.8 L229.4 746.7 L229.5 743.5 L229.7 740.3 L229.9 737.1 L230.1 734.0 L230.3 730.8 L230.4 727.6 L230.6 724.4 L230.8 721.3 L231.0 718.1 L231.2 714.9 L231.4 711.8 L231.6 708.6 L231.8 705.4 L232.0 702.2 L232.2 699.1 L232.4 695.9 L232.6 692.7 L232.8 689.6 L233.0 686.4 L233.2 683.2 L233.4 680.0 L233.6 676.9 L233.8 673.7 L234.0 670.5 L234.2 667.4 L234.4 664.2 L234.7 661.0 L234.9 657.9 L235.1 654.7 L235.3 651.5 L235.5 648.4 L235.8 645.2 L236.0 642.0 L236.2 638.9 L236.4 635.7 L236.7 632.5 L236.9 629.4 L237.1 626.2 L237.4 623.0 L237.6 619.9 L237.8 616.7 L238.1 613.5 L238.3 610.4 L238.6 607.2 L238.8 604.0 L239.0 600.9 L239.3 597.7 L239.5 594.5 L239.8 591.4 L240.0 588.2 L240.3 585.1 L240.6 581.9 L240.8 578.7 L241.1 575.6 L241.3 572.4 L241.6 569.2 L241.9 566.1 L242.1 562.9 L242.4 559.8 L242.7 556.6 L242.9 553.4 L243.2 550.3 L243.5 547.1 L243.8 544.0 L244.0 540.8 L244.3 537.6 L244.6 534.5 L244.9 531.3 L245.2 528.2 L245.5 525.0 L245.8 521.9 L246.0 518.7 L246.3 515.5 L246.6 512.4 L246.9 509.2 L247.2 506.1 L247.5 502.9 L247.8 499.8 L248.1 496.6 L248.4 493.4 L248.8 490.3 L249.1 487.1 L249.4 484.0 L249.7 480.8 L250.0 477.7 L250.3 474.5 L250.7 471.4 L251.0 468.2 L251.3 465.1 L251.6 461.9 L252.0 458.8 L252.3 455.6 L252.6 452.5 L253.0 449.3 L253.3 446.2 L253.6 443.0 L254.0 439.9 L254.3 436.7 L254.7 433.6 L255.0 430.4 L255.4 427.3 L255.7 424.1 L256.1 421.0 L256.4 417.8 L256.8 414.7 L257.1 411.5 L257.5 408.4 L257.9 405.2 L258.2 402.1 L258.6 398.9 L259.0 395.8 L259.4 392.6 L259.7 389.5 L260.1 386.4 L260.5 383.2 L260.9 380.1 L261.3 376.9 L261.6 373.8 L262.0 370.6 L262.4 367.5 L262.8 364.4 L263.2 361.2 L263.6 358.1 L264.1 354.9 L264.5 351.8 L264.9 348.6 L265.3 345.5 L265.8 342.4 L266.2 339.2 L266.7 336.1 L267.1 333.0 L267.6 329.8 L268.0 326.7 L268.5 323.5 L269.0 320.4 L269.5 317.3 L270.0 314.1 L270.5 311.0 L271.0 307.9 L271.5 304.7 L272.0 301.6 L272.6 298.5 L273.1 295.3 L273.7 292.2 L274.3 289.1 L274.8 285.9 L275.4 282.8 L276.0 279.7 L276.6 276.5 L277.2 273.4 L277.9 270.3 L278.5 267.1 L279.2 264.0 L279.8 260.9 L280.5 257.7 L281.2 254.6 L281.9 251.5 L282.6 248.4 L283.4 245.2 L284.1 242.1 L284.9 239.0 L285.6 235.8 L286.4 232.7 L287.2 229.6 L288.0 226.5 L288.8 223.3 L289.7 220.2 L290.6 217.1 L291.4 214.0 L292.4 210.9 L293.3 207.8 L294.3 204.8 L295.2 201.7 L296.3 198.6 L297.3 195.6 L298.4 192.6 L299.5 189.6 L300.6 186.6 L301.8 183.6 L303.0 180.7 L304.3 177.8 L305.6 174.9 L306.9 172.0 L308.3 169.1 L309.7 166.3 L311.2 163.5 L312.7 160.8 L314.3 158.1 L315.9 155.4 L317.5 152.7 L319.2 150.1 L321.0 147.5 L322.8 145.0 L324.7 142.4 L326.6 140.0 L328.6 137.6 L330.6 135.2 L332.7 132.8 L334.8 130.6 L337.0 128.3 L339.2 126.1 L341.5 124.0 L343.8 121.9 L346.1 119.9 L348.6 117.9 L351.0 116.0 L353.5 114.1 L356.1 112.3 L358.7 110.5 L361.3 108.8 L364.0 107.2 L366.7 105.6 L369.5 104.0 L372.3 102.6 L375.1 101.1 L378.0 99.8 L380.9 98.5 L383.8 97.2 L386.7 96.0 L389.7 94.9 L392.7 93.8 L395.7 92.8 L398.8 91.8 L401.8 90.9 L404.9 90.0 L408.0 89.2 L411.1 88.4 L414.3 87.7 L417.4 87.0 L420.6 86.3 L423.7 85.7 L426.9 85.1 L430.1 84.6 L433.3 84.1 L436.4 83.6 L439.6 83.1 L442.8 82.6 L446.0 82.2 L449.2 81.8 L452.3 81.4 L455.5 81.1 L458.7 80.7 L461.9 80.4 L465.1 80.1 L468.2 79.8 L471.4 79.5 L474.6 79.2 L477.7 79.0 L480.9 78.7 L484.1 78.5 L487.2 78.3 L490.4 78.1 L493.6 77.9 L496.7 77.8 L499.9 77.6 L503.1 77.5 L506.2 77.3 L509.4 77.2 L512.6 77.1 L515.7 77.0 L518.9 76.9 L522.0 76.8 L525.2 76.7 L528.3 76.6 L531.5 76.6 L534.7 76.5 L537.8 76.5 L541.0 76.4 L544.1 76.4 L547.3 76.3 L550.4 76.3 L553.6 76.2 L556.8 76.2 L559.9 76.2 L563.1 76.1 L566.2 76.1 L569.4 76.0 L572.5 76.0 L575.7 76.0 L578.8 75.9 L582.0 75.9 L585.1 75.8 L588.3 75.8 L591.4 75.7 L594.6 75.7 L597.8 75.6 L600.9 75.6 L604.1 75.5 L607.2 75.5 L610.4 75.4 L613.5 75.3 L616.7 75.3 L619.9 75.2 L623.0 75.1 L626.2 75.1 L629.3 75.0 L632.5 74.9 L635.7 74.9 L638.8 74.8 L642.0 74.7 L645.2 74.7 L648.3 74.6 L651.5 74.6 L654.6 74.5 L657.8 74.5 L661.0 74.4 L664.2 74.4 L667.3 74.3 L670.5 74.3 L673.7 74.2 L676.8 74.2 L680.0 74.2 L683.2 74.2 L686.4 74.1 L689.6 74.1 L692.7 74.1 L695.9 74.1 L699.1 74.1 L702.3 74.1 L705.5 74.2 L708.7 74.2 L711.8 74.2 L715.0 74.2 L718.2 74.3 L721.4 74.3 L724.6 74.4 L727.8 74.5 L731.0 74.6 L734.2 74.6 L737.4 74.7 L740.6 74.8 L743.8 75.0 L747.0 75.1 L750.3 75.2 L753.5 75.4 L756.7 75.5 L759.9 75.7 L763.1 75.9 L766.3 76.1 L769.5 76.3 L772.8 76.5 L776.0 76.7 L779.2 76.9 L782.4 77.2 L785.6 77.4 L788.8 77.7 L792.0 78.0 L795.2 78.3 L798.4 78.6 L801.6 78.9 L804.8 79.3 L808.0 79.6 L811.2 80.0 L814.4 80.4 L817.5 80.8 L820.7 81.2 L823.9 81.6 L827.0 82.1 L830.2 82.5 L833.3 83.0 L836.5 83.5 L839.6 84.0 L842.7 84.5 L845.8 85.1 L848.9 85.6 L852.0 86.2 L855.1 86.8 L858.2 87.4 L861.3 88.1 L864.3 88.7 L867.3 89.4 L870.4 90.1 L873.4 90.9 L876.4 91.7 L879.4 92.5 L882.4 93.4 L885.4 94.3 L888.3 95.2 L891.3 96.2 L894.2 97.3 L897.1 98.4 L900.0 99.5 L902.9 100.7 L905.8 101.9 L908.7 103.2 L911.5 104.5 L914.3 105.9 L917.1 107.4 L919.9 108.9 L922.7 110.4 L925.4 112.1 L928.1 113.7 L930.8 115.4 L933.5 117.2 L936.2 118.9 L938.8 120.8 L941.4 122.7 L944.0 124.6 L946.5 126.6 L949.0 128.6 L951.5 130.6 L953.9 132.7 L956.3 134.9 L958.7 137.0 L961.0 139.2 L963.3 141.5 L965.6 143.7 L967.8 146.0 L970.0 148.4 L972.2 150.8 L974.3 153.2 L976.3 155.6 L978.4 158.1 L980.3 160.6 L982.3 163.1 L984.2 165.6 L986.0 168.2 L987.8 170.8 L989.6 173.4 L991.4 176.0 L993.1 178.7 L994.8 181.4 L996.4 184.1 L998.0 186.8 L999.6 189.6 L1001.2 192.3 L1002.7 195.1 L1004.2 197.9 L1005.7 200.7 L1007.1 203.5 L1008.6 206.3 L1010.0 209.1 L1011.3 212.0 L1012.7 214.8 L1014.0 217.7 L1015.4 220.6 L1016.7 223.5 L1017.9 226.4 L1019.2 229.3 L1020.4 232.2 L1021.6 235.1 L1022.9 238.0 L1024.0 240.9 L1025.2 243.9 L1026.3 246.8 L1027.5 249.8 L1028.6 252.7 L1029.7 255.7 L1030.8 258.7 L1031.8 261.7 L1032.9 264.6 L1033.9 267.6 L1034.9 270.6 L1035.9 273.7 L1036.9 276.7 L1037.8 279.7 L1038.8 282.7 L1039.7 285.7 L1040.7 288.8 L1041.6 291.8 L1042.5 294.9 L1043.3 297.9 L1044.2 301.0 L1045.1 304.0 L1045.9 307.1 L1046.7 310.2 L1047.6 313.2 L1048.4 316.3 L1049.2 319.4 L1049.9 322.5 L1050.7 325.6 L1051.5 328.7 L1052.2 331.8 L1053.0 334.9 L1053.7 338.0 L1054.4 341.1 L1055.2 344.2 L1055.9 347.3 L1056.6 350.4 L1057.2 353.5 L1057.9 356.6 L1058.6 359.8 L1059.3 362.9 L1059.9 366.0 L1060.6 369.1 L1061.2 372.3 L1061.8 375.4 L1062.5 378.5 L1063.1 381.7 L1063.7 384.8 L1064.3 387.9 L1064.9 391.1 L1065.5 394.2 L1066.1 397.3 L1066.7 400.5 L1067.3 403.6 L1067.9 406.7 L1068.5 409.9 L1069.0 413.0 L1069.6 416.1 L1070.2 419.3 L1070.7 422.4 L1071.3 425.5 L1071.9 428.7 L1072.4 431.8 L1073.0 434.9 L1073.5 438.1 L1074.0 441.2 L1074.6 444.4 L1075.1 447.5 L1075.6 450.6 L1076.1 453.8 L1076.7 456.9 L1077.2 460.0 L1077.7 463.2 L1078.2 466.3 L1078.7 469.4 L1079.2 472.6 L1079.7 475.7 L1080.2 478.9 L1080.7 482.0 L1081.1 485.1 L1081.6 488.3 L1082.1 491.4 L1082.6 494.6 L1083.0 497.7 L1083.5 500.8 L1083.9 504.0 L1084.4 507.1 L1084.9 510.2 L1085.3 513.4 L1085.7 516.5 L1086.2 519.7 L1086.6 522.8 L1087.1 526.0 L1087.5 529.1 L1087.9 532.2 L1088.3 535.4 L1088.8 538.5 L1089.2 541.7 L1089.6 544.8 L1090.0 547.9 L1090.4 551.1 L1090.8 554.2 L1091.2 557.4 L1091.6 560.5 L1092.0 563.7 L1092.4 566.8 L1092.8 570.0 L1093.1 573.1 L1093.5 576.2 L1093.9 579.4 L1094.3 582.5 L1094.6 585.7 L1095.0 588.8 L1095.4 592.0 L1095.7 595.1 L1096.1 598.3 L1096.4 601.4 L1096.8 604.6 L1097.1 607.7 L1097.5 610.9 L1097.8 614.0 L1098.1 617.2 L1098.5 620.3 L1098.8 623.5 L1099.1 626.6 L1099.5 629.8 L1099.8 632.9 L1100.1 636.1 L1100.4 639.2 L1100.7 642.4 L1101.1 645.5 L1101.4 648.7 L1101.7 651.8 L1102.0 655.0 L1102.3 658.1 L1102.6 661.3 L1102.9 664.5 L1103.2 667.6 L1103.4 670.8 L1103.7 673.9 L1104.0 677.1 L1104.3 680.2 L1104.6 683.4 L1104.8 686.6 L1105.1 689.7 L1105.4 692.9 L1105.7 696.0 L1105.9 699.2 L1106.2 702.3 L1106.4 705.5 L1106.7 708.7 L1107.0 711.8 L1107.2 715.0 L1107.5 718.2 L1107.7 721.3 L1108.0 724.5 L1108.2 727.6 L1108.4 730.8 L1108.7 734.0 L1108.9 737.1 L1109.1 740.3 L1109.4 743.5 L1109.6 746.6 L1109.8 749.8 L1110.1 753.0 L1110.3 756.1 L1110.5 759.3 L1110.7 762.5 L1110.9 765.6 L1111.2 768.8 L1111.4 772.0 L1111.6 775.1 L1111.8 778.3 L1112.0 781.5 L1112.2 784.7 L1112.4 787.8 L1112.6 791.0 L1112.8 794.2 L1113.0 797.3 L1113.2 800.5 L1113.4 803.7 L1113.6 806.9 L1113.8 810.0 L1113.9 813.2 L1114.1 816.4 L1114.3 819.6 L1114.5 822.8 L1114.7 825.9 L1114.9 829.1 L1115.0 832.3 L1115.2 835.5 L1115.4 838.7 L1115.5 841.8 L1115.7 845.0 L1115.9 848.2 L1116.1 851.4 L1116.2 854.6 L1116.4 857.7 L1116.5 860.9 L1116.7 864.1 L1116.9 867.3 L1117.0 870.5 L1117.2 873.7 L1117.3 876.9 L1117.5 880.1 L1117.6 883.2 L1117.8 886.4 L1117.9 889.6 L1118.1 892.8 L1118.2 896.0" stroke="#ee0505"/><path d="M226.3 896.2 L226.4 895.0 L226.4 894.6 L226.4 892.7 L226.4 895.2 L226.5 894.2 L226.5 892.4 L226.5 892.8 L226.5 891.8 L226.5 890.6 L226.6 891.3 L226.6 889.7 L226.6 889.1 L226.6 888.2 L226.7 888.7 L226.7 887.7 L226.7 887.6 L226.7 886.2 L226.8 886.2 L226.8 884.8 L226.8 885.7 L226.8 884.6 L226.9 884.2 L226.9 883.7 L226.9 882.0 L226.9 882.9 L227.0 883.3 L227.0 879.8 L227.0 879.2 L227.0 878.8 L227.1 880.2 L227.1 879.0 L227.1 879.3 L227.1 878.4 L227.2 877.5 L227.2 877.0 L227.2 876.1 L227.2 876.3 L227.3 874.2 L227.3 874.2 L227.3 874.2 L227.3 874.9 L227.4 872.3 L227.4 871.5 L227.4 871.3 L227.4 872.0 L227.5 870.5 L227.5 871.2 L227.5 868.1 L227.5 869.9 L227.6 869.3 L227.6 866.8 L227.6 867.5 L227.6 867.8 L227.7 866.4 L227.7 866.5 L227.7 866.8 L227.7 864.9 L227.8 863.9 L227.8 862.9 L227.8 863.5 L227.8 862.3 L227.9 861.8 L227.9 861.3 L227.9 861.3 L227.9 859.4 L228.0 858.5 L228.0 857.6 L228.0 859.6 L228.0 858.1 L228.1 858.7 L228.1 856.9 L228.1 855.8 L228.1 856.2 L228.2 855.2 L228.2 853.8 L228.2 853.5 L228.2 855.1 L228.3 853.4 L228.3 852.9 L228.3 851.8 L228.3 850.9 L228.4 851.6 L228.4 850.3 L228.4 849.2 L228.4 849.2 L228.5 848.0 L228.5 848.3 L228.5 848.5 L228.5 846.4 L228.6 847.7 L228.6 845.4 L228.6 845.5 L228.7 844.2 L228.7 844.1 L228.7 843.8 L228.7 842.9 L228.8 842.1 L228.8 841.6 L228.8 840.9 L228.8 839.8 L228.9 840.3 L228.9 840.3 L228.9 840.1 L228.9 839.3 L229.0 839.9 L229.0 838.0 L229.0 836.8 L229.0 838.1 L229.1 835.3 L229.1 836.3 L229.1 834.2 L229.1 834.7 L229.2 832.3 L229.2 834.1 L229.2 832.7 L229.2 831.5 L229.3 833.0 L229.3 831.8 L229.3 830.6 L229.4 829.5 L229.4 829.5 L229.4 828.8 L229.4 829.0 L229.5 828.5 L229.5 826.8 L229.5 826.3 L229.5 825.8 L229.6 824.6 L229.6 824.6 L229.6 824.5 L229.6 824.6 L229.7 824.5 L229.7 822.3 L229.7 822.8 L229.8 821.5 L229.8 822.9 L229.8 820.7 L229.8 820.6 L229.9 818.9 L229.9 818.4 L229.9 818.7 L229.9 817.7 L230.0 817.7 L230.0 815.6 L230.0 816.9 L230.0 815.1 L230.1 816.6 L230.1 814.5 L230.1 815.0 L230.2 812.5 L230.2 813.4 L230.2 811.8 L230.2 811.6 L230.3 811.4 L230.3 810.6 L230.3 810.5 L230.3 810.4 L230.4 809.7 L230.4 808.6 L230.4 807.0 L230.5 806.9 L230.5 806.9 L230.5 804.9 L230.5 806.5 L230.6 805.2 L230.6 804.6 L230.6 805.0 L230.6 804.3 L230.7 803.4 L230.7 801.8 L230.7 802.3 L230.8 801.8 L230.8 800.3 L230.8 801.3 L230.8 800.3 L230.9 797.8 L230.9 798.9 L230.9 797.2 L230.9 798.6 L231.0 797.8 L231.0 795.7 L231.0 795.4 L231.1 795.6 L231.1 794.8 L231.1 795.6 L231.1 794.5 L231.2 793.1 L231.2 793.2 L231.2 790.6 L231.3 791.9 L231.3 791.8 L231.3 790.4 L231.3 789.5 L231.4 789.9 L231.4 790.5 L231.4 788.6 L231.5 786.9 L231.5 788.5 L231.5 785.2 L231.5 786.6 L231.6 785.2 L231.6 785.9 L231.6 783.9 L231.6 785.1 L231.7 783.7 L231.7 781.5 L231.7 780.8 L231.8 781.6 L231.8 782.3 L231.8 780.8 L231.8 780.2 L231.9 779.4 L231.9 779.7 L231.9 778.8 L232.0 778.2 L232.0 776.7 L232.0 777.8 L232.0 777.4 L232.1 774.8 L232.1 776.9 L232.1 775.3 L232.2 773.8 L232.2 772.1 L232.2 773.6 L232.3 773.0 L232.3 771.5 L232.3 770.0 L232.3 771.8 L232.4 769.9 L232.4 769.4 L232.4 770.8 L232.5 770.3 L232.5 768.9 L232.5 767.2 L232.5 767.6 L232.6 764.9 L232.6 766.0 L232.6 764.8 L232.7 763.8 L232.7 763.0 L232.7 764.2 L232.7 763.3 L232.8 762.8 L232.8 762.8 L232.8 760.9 L232.9 760.0 L232.9 759.1 L232.9 759.7 L233.0 760.0 L233.0 758.7 L233.0 758.8 L233.0 756.8 L233.1 756.8 L233.1 756.0 L233.1 755.1 L233.2 757.0 L233.2 755.7 L233.2 753.8 L233.3 753.3 L233.3 753.3 L233.3 751.7 L233.3 752.6 L233.4 750.7 L233.4 750.9 L233.4 749.8 L233.5 749.7 L233.5 748.5 L233.5 747.7 L233.6 747.7 L233.6 747.4 L233.6 747.1 L233.6 746.9 L233.7 747.5 L233.7 746.4 L233.7 745.0 L233.8 745.2 L233.8 743.5 L233.8 744.7 L233.9 743.4 L233.9 741.3 L233.9 742.5 L234.0 742.0 L234.0 739.2 L234.0 739.6 L234.0 739.3 L234.1 737.6 L234.1 737.7 L234.1 737.3 L234.2 737.9 L234.2 737.2 L234.2 738.0 L234.3 735.5 L234.3 736.2 L234.3 734.8 L234.4 734.4 L234.4 732.8 L234.4 731.6 L234.5 732.0 L234.5 732.6 L234.5 732.8 L234.5 731.4 L234.6 730.8 L234.6 729.2 L234.6 730.5 L234.7 729.8 L234.7 727.8 L234.7 727.6 L234.8 726.3 L234.8 727.7 L234.8 726.3 L234.9 725.4 L234.9 725.3 L234.9 724.7 L235.0 723.5 L235.0 722.3 L235.0 721.7 L235.1 720.8 L235.1 722.0 L235.1 722.7 L235.2 719.2 L235.2 720.1 L235.2 719.8 L235.3 718.1 L235.3 718.5 L235.3 716.9 L235.3 718.2 L235.4 716.3 L235.4 716.3 L235.4 716.2 L235.5 714.8 L235.5 713.1 L235.5 713.6 L235.6 714.1 L235.6 712.8 L235.6 712.5 L235.7 711.0 L235.7 711.4 L235.7 711.3 L235.8 710.2 L235.8 711.2 L235.8 708.9 L235.9 707.7 L235.9 706.7 L235.9 708.4 L236.0 706.9 L236.0 707.2 L236.0 706.2 L236.1 706.6 L236.1 705.7 L236.1 703.9 L236.2 703.8 L236.2 703.9 L236.2 701.5 L236.3 703.1 L236.3 702.4 L236.3 701.7 L236.4 700.2 L236.4 700.0 L236.4 698.4 L236.5 698.7 L236.5 697.7 L236.5 697.7 L236.6 696.7 L236.6 696.7 L236.6 696.9 L236.7 694.4 L236.7 695.6 L236.7 692.7 L236.8 692.2 L236.8 693.1 L236.8 692.7 L236.9 692.5 L236.9 690.3 L237.0 691.0 L237.0 690.6 L237.0 691.0 L237.1 689.3 L237.1 689.3 L237.1 687.5 L237.2 687.6 L237.2 686.9 L237.2 687.2 L237.3 685.3 L237.3 684.9 L237.3 685.5 L237.4 685.9 L237.4 684.3 L237.4 683.7 L237.5 682.6 L237.5 683.2 L237.5 682.2 L237.6 682.6 L237.6 680.9 L237.6 679.4 L237.7 679.1 L237.7 678.3 L237.8 677.5 L237.8 679.0 L237.8 678.0 L237.9 675.9 L237.9 677.7 L237.9 676.0 L238.0 674.5 L238.0 675.0 L238.0 674.1 L238.1 673.0 L238.1 671.5 L238.1 672.5 L238.2 672.2 L238.2 669.8 L238.3 671.3 L238.3 670.8 L238.3 669.4 L238.4 669.3 L238.4 668.4 L238.4 667.5 L238.5 667.3 L238.5 668.1 L238.5 665.3 L238.6 666.1 L238.6 665.5 L238.7 664.3 L238.7 663.9 L238.7 662.6 L238.8 662.5 L238.8 662.7 L238.8 662.4 L238.9 660.9 L238.9 662.6 L238.9 660.0 L239.0 660.0 L239.0 659.2 L239.1 658.5 L239.1 659.3 L239.1 657.4 L239.2 658.3 L239.2 657.6 L239.2 655.3 L239.3 656.4 L239.3 654.5 L239.4 656.1 L239.4 653.6 L239.4 652.6 L239.5 651.3 L239.5 651.3 L239.5 651.3 L239.6 650.4 L239.6 649.7 L239.7 649.5 L239.7 649.4 L239.7 650.2 L239.8 647.1 L239.8 647.5 L239.8 646.6 L239.9 645.6 L239.9 645.3 L240.0 645.0 L240.0 645.8 L240.0 644.5 L240.1 643.7 L240.1 644.0 L240.2 643.2 L240.2 642.3 L240.2 642.2 L240.3 640.7 L240.3 641.3 L240.3 640.7 L240.4 639.4 L240.4 638.2 L240.5 639.9 L240.5 638.2 L240.5 639.1 L240.6 636.5 L240.6 637.1 L240.7 635.6 L240.7 635.6 L240.7 635.5 L240.8 633.6 L240.8 633.6 L240.9 633.3 L240.9 632.7 L240.9 632.6 L241.0 632.4 L241.0 631.7 L241.0 630.7 L241.1 629.6 L241.1 628.5 L241.2 628.2 L241.2 627.8 L241.2 628.3 L241.3 626.9 L241.3 625.6 L241.4 626.6 L241.4 624.9 L241.4 624.4 L241.5 624.3 L241.5 624.3 L241.6 621.8 L241.6 621.9 L241.6 622.4 L241.7 621.4 L241.7 620.5 L241.8 620.2 L241.8 621.2 L241.9 619.2 L241.9 619.6 L241.9 619.1 L242.0 617.5 L242.0 617.7 L242.1 616.4 L242.1 615.8 L242.1 614.8 L242.2 615.9 L242.2 614.3 L242.3 613.6 L242.3 612.6 L242.3 614.4 L242.4 613.0 L242.4 611.8 L242.5 610.8 L242.5 609.6 L242.6 610.5 L242.6 609.9 L242.6 608.0 L242.7 609.6 L242.7 608.7 L242.8 606.8 L242.8 606.5 L242.8 606.1 L242.9 606.0 L242.9 605.2 L243.0 603.5 L243.0 605.4 L243.1 604.0 L243.1 604.2 L243.1 603.6 L243.2 601.9 L243.2 601.8 L243.3 601.6 L243.3 601.1 L243.3 599.8 L243.4 598.8 L243.4 598.8 L243.5 597.6 L243.5 597.3 L243.6 595.6 L243.6 596.7 L243.6 595.2 L243.7 595.1 L243.7 594.9 L243.8 594.7 L243.8 595.4 L243.9 593.5 L243.9 591.7 L244.0 592.4 L244.0 591.2 L244.0 591.5 L244.1 590.1 L244.1 589.5 L244.2 589.1 L244.2 588.5 L244.3 587.0 L244.3 587.3 L244.3 587.3 L244.4 587.7 L244.4 586.0 L244.5 585.4 L244.5 585.6 L244.6 585.0 L244.6 585.3 L244.7 584.0 L244.7 583.0 L244.7 583.5 L244.8 583.1 L244.8 581.0 L244.9 580.9 L244.9 578.9 L245.0 579.4 L245.0 578.4 L245.1 578.4 L245.1 577.7 L245.1 577.4 L245.2 576.9 L245.2 576.8 L245.3 576.1 L245.3 574.9 L245.4 573.7 L245.4 575.2 L245.5 574.8 L245.5 572.8 L245.6 573.0 L245.6 570.8 L245.6 570.3 L245.7 570.7 L245.7 571.6 L245.8 569.0 L245.8 568.7 L245.9 570.1 L245.9 566.7 L246.0 568.2 L246.0 567.5 L246.1 566.4 L246.1 566.2 L246.1 567.1 L246.2 564.1 L246.2 564.2 L246.3 563.7 L246.3 562.8 L246.4 561.7 L246.4 563.5 L246.5 561.9 L246.5 559.7 L246.6 560.0 L246.6 560.4 L246.7 559.8 L246.7 557.8 L246.8 558.3 L246.8 558.1 L246.8 557.6 L246.9 557.1 L246.9 554.8 L247.0 557.2 L247.0 555.3 L247.1 556.0 L247.1 555.6 L247.2 553.4 L247.2 552.0 L247.3 553.1 L247.3 551.7 L247.4 550.9 L247.4 549.9 L247.5 551.6 L247.5 549.3 L247.6 548.0 L247.6 548.2 L247.7 547.1 L247.7 547.6 L247.8 546.6 L247.8 545.5 L247.9 546.3 L247.9 544.8 L248.0 545.3 L248.0 545.2 L248.0 543.4 L248.1 542.6 L248.1 542.7 L248.2 542.7 L248.2 541.5 L248.3 541.0 L248.3 540.4 L248.4 540.1 L248.4 539.8 L248.5 538.2 L248.5 537.8 L248.6 537.7 L248.6 536.6 L248.7 536.7 L248.7 536.4 L248.8 535.5 L248.8 534.4 L248.9 533.8 L248.9 535.2 L249.0 534.0 L249.0 531.8 L249.1 531.5 L249.1 533.1 L249.2 532.3 L249.2 530.7 L249.3 530.9 L249.3 528.3 L249.4 528.9 L249.4 529.0 L249.5 526.3 L249.5 526.7 L249.6 527.4 L249.6 527.1 L249.7 525.2 L249.7 525.3 L249.8 525.8 L249.8 523.7 L249.9 522.4 L249.9 522.9 L250.0 522.0 L250.1 522.9 L250.1 521.4 L250.2 520.1 L250.2 521.8 L250.3 519.2 L250.3 519.5 L250.4 519.1 L250.4 518.6 L250.5 517.6 L250.5 517.4 L250.6 516.3 L250.6 514.7 L250.7 515.1 L250.7 514.6 L250.8 514.0 L250.8 513.7 L250.9 512.6 L250.9 513.6 L251.0 513.2 L251.0 509.8 L251.1 510.9 L251.1 509.8 L251.2 508.2 L251.3 509.6 L251.3 508.2 L251.4 507.9 L251.4 507.1 L251.5 507.9 L251.5 507.5 L251.6 506.2 L251.6 506.0 L251.7 504.8 L251.7 504.4 L251.8 503.2 L251.8 503.3 L251.9 502.1 L251.9 502.4 L252.0 502.3 L252.1 501.3 L252.1 501.5 L252.2 501.6 L252.2 497.8 L252.3 498.9 L252.3 497.9 L252.4 497.4 L252.4 496.1 L252.5 496.7 L252.5 495.9 L252.6 495.1 L252.7 494.8 L252.7 494.0 L252.8 492.3 L252.8 494.3 L252.9 492.6 L252.9 491.5 L253.0 492.0 L253.0 490.7 L253.1 489.1 L253.1 490.8 L253.2 488.2 L253.3 488.9 L253.3 488.6 L253.4 489.0 L253.4 488.3 L253.5 487.0 L253.5 485.7 L253.6 485.4 L253.7 486.1 L253.7 486.1 L253.8 484.5 L253.8 483.0 L253.9 483.8 L253.9 482.2 L254.0 481.6 L254.0 481.2 L254.1 481.3 L254.2 480.5 L254.2 480.5 L254.3 480.2 L254.3 479.1 L254.4 476.5 L254.4 476.2 L254.5 477.1 L254.6 476.4 L254.6 477.5 L254.7 475.3 L254.7 474.7 L254.8 475.0 L254.8 474.6 L254.9 473.0 L255.0 473.0 L255.0 471.2 L255.1 470.8 L255.1 472.0 L255.2 469.3 L255.2 470.6 L255.3 469.9 L255.4 469.4 L255.4 469.0 L255.5 468.2 L255.5 465.6 L255.6 465.8 L255.7 465.6 L255.7 466.2 L255.8 464.1 L255.8 463.9 L255.9 463.6 L256.0 464.4 L256.0 461.6 L256.1 461.1 L256.1 462.2 L256.2 459.5 L256.2 460.9 L256.3 459.7 L256.4 458.2 L256.4 458.6 L256.5 457.6 L256.5 458.0 L256.6 457.6 L256.7 458.0 L256.7 456.2 L256.8 455.7 L256.8 454.7 L256.9 454.6 L257.0 454.9 L257.0 451.9 L257.1 453.5 L257.2 452.0 L257.2 451.9 L257.3 451.5 L257.3 451.4 L257.4 450.4 L257.5 449.3 L257.5 449.3 L257.6 448.6 L257.6 447.8 L257.7 447.6 L257.8 447.6 L257.8 446.5 L257.9 445.9 L257.9 444.2 L258.0 444.6 L258.1 442.7 L258.1 444.2 L258.2 442.3 L258.3 443.6 L258.3 443.6 L258.4 441.1 L258.4 442.0 L258.5 440.7 L258.6 439.3 L258.6 438.6 L258.7 439.1 L258.8 439.3 L258.8 437.9 L258.9 435.8 L258.9 435.7 L259.0 435.8 L259.1 436.5 L259.1 435.1 L259.2 434.6 L259.3 434.7 L259.3 433.1 L259.4 432.6 L259.4 432.0 L259.5 430.2 L259.6 431.4 L259.6 430.8 L259.7 430.7 L259.8 428.4 L259.8 428.2 L259.9 429.0 L260.0 428.0 L260.0 428.3 L260.1 426.0 L260.2 426.3 L260.2 425.0 L260.3 425.3 L260.4 424.1 L260.4 424.3 L260.5 424.2 L260.5 423.4 L260.6 420.8 L260.7 422.5 L260.7 421.5 L260.8 419.8 L260.9 419.4 L260.9 419.5 L261.0 419.4 L261.1 418.1 L261.1 416.6 L261.2 417.6 L261.3 416.9 L261.4 417.9 L261.4 414.7 L261.5 416.8 L261.6 416.0 L261.6 414.3 L261.7 414.8 L261.8 413.0 L261.8 413.2 L261.9 411.3 L262.0 411.4 L262.0 410.0 L262.1 409.0 L262.2 409.5 L262.2 408.6 L262.3 409.1 L262.4 409.1 L262.5 407.4 L262.5 407.0 L262.6 406.6 L262.7 404.5 L262.7 405.5 L262.8 404.8 L262.9 404.2 L263.0 402.8 L263.0 401.5 L263.1 402.4 L263.2 402.3 L263.2 402.6 L263.3 401.8 L263.4 401.6 L263.5 400.1 L263.5 400.2 L263.6 398.6 L263.7 398.7 L263.8 398.4 L263.8 398.7 L263.9 396.8 L264.0 395.0 L264.1 396.6 L264.1 394.3 L264.2 394.3 L264.3 393.6 L264.4 392.6 L264.4 393.8 L264.5 392.7 L264.6 391.2 L264.7 391.2 L264.7 390.2 L264.8 390.5 L264.9 389.2 L265.0 388.3 L265.1 387.9 L265.1 387.5 L265.2 387.5 L265.3 386.0 L265.4 386.1 L265.5 386.0 L265.5 386.7 L265.6 385.3 L265.7 382.4 L265.8 383.1 L265.9 382.6 L265.9 382.6 L266.0 383.1 L266.1 381.9 L266.2 379.2 L266.3 380.5 L266.4 379.8 L266.4 379.5 L266.5 379.7 L266.6 377.2 L266.7 378.4 L266.8 375.6 L266.9 376.4 L266.9 376.2 L267.0 376.9 L267.1 374.2 L267.2 372.9 L267.3 374.2 L267.4 372.6 L267.5 373.9 L267.5 371.5 L267.6 370.8 L267.7 372.0 L267.8 370.5 L267.9 370.7 L268.0 368.2 L268.1 370.1 L268.2 367.8 L268.3 368.4 L268.4 366.4 L268.4 365.4 L268.5 365.9 L268.6 365.7 L268.7 366.3 L268.8 364.7 L268.9 364.5 L269.0 363.9 L269.1 364.4 L269.2 361.6 L269.3 362.8 L269.4 361.1 L269.5 360.9 L269.6 359.7 L269.7 360.5 L269.7 358.0 L269.8 357.5 L269.9 357.8 L270.0 356.5 L270.1 357.5 L270.2 357.1 L270.3 355.2 L270.4 355.9 L270.5 354.2 L270.6 354.2 L270.7 353.7 L270.8 354.6 L270.9 352.6 L271.0 351.3 L271.1 350.8 L271.2 351.9 L271.3 349.1 L271.4 349.5 L271.5 349.0 L271.6 347.2 L271.7 347.9 L271.8 348.5 L271.9 347.4 L272.0 345.9 L272.2 346.7 L272.3 346.0 L272.4 346.6 L272.5 343.9 L272.6 343.6 L272.7 343.4 L272.8 342.8 L272.9 342.4 L273.0 341.7 L273.1 340.7 L273.2 339.4 L273.3 339.7 L273.4 338.5 L273.6 338.3 L273.7 338.1 L273.8 338.4 L273.9 338.2 L274.0 336.1 L274.1 336.7 L274.2 336.5 L274.3 335.3 L274.5 333.5 L274.6 332.7 L274.7 334.4 L274.8 333.9 L274.9 332.9 L275.0 331.3 L275.2 332.8 L275.3 332.0 L275.4 330.5 L275.5 329.8 L275.6 327.9 L275.7 329.5 L275.9 327.1 L276.0 328.4 L276.1 327.9 L276.2 326.9 L276.3 327.5 L276.5 325.5 L276.6 325.6 L276.7 325.3 L276.8 324.3 L277.0 323.2 L277.1 324.0 L277.2 322.9 L277.3 321.8 L277.5 321.3 L277.6 321.0 L277.7 322.0 L277.8 319.9 L278.0 319.1 L278.1 317.9 L278.2 317.3 L278.4 316.2 L278.5 317.4 L278.6 316.7 L278.8 315.3 L278.9 314.4 L279.0 314.8 L279.2 314.1 L279.3 312.9 L279.4 313.7 L279.6 313.1 L279.7 312.4 L279.8 312.5 L280.0 310.8 L280.1 311.9 L280.2 309.5 L280.4 310.2 L280.5 309.8 L280.6 308.5 L280.8 308.5 L280.9 306.6 L281.1 305.9 L281.2 306.4 L281.3 305.5 L281.5 306.0 L281.6 305.0 L281.8 305.0 L281.9 304.2 L282.1 303.6 L282.2 303.0 L282.4 302.1 L282.5 301.5 L282.6 303.0 L282.8 299.4 L282.9 300.1 L283.1 300.6 L283.2 299.6 L283.4 299.8 L283.5 298.6 L283.7 296.6 L283.8 296.9 L284.0 295.5 L284.1 296.9 L284.3 296.7 L284.5 294.7 L284.6 294.9 L284.8 293.7 L284.9 292.3 L285.1 292.6 L285.2 291.1 L285.4 291.4 L285.5 291.5 L285.7 291.4 L285.9 291.4 L286.0 289.5 L286.2 289.5 L286.3 289.1 L286.5 288.7 L286.7 286.1 L286.8 286.6 L287.0 287.3 L287.2 285.3 L287.3 285.8 L287.5 285.8 L287.7 283.1 L287.8 283.9 L288.0 283.7 L288.2 283.0 L288.3 281.3 L288.5 282.3 L288.7 281.0 L288.8 281.6 L289.0 280.8 L289.2 279.5 L289.4 279.5 L289.5 278.3 L289.7 277.8 L289.9 276.6 L290.1 277.1 L290.2 277.4 L290.4 276.4 L290.6 275.7 L290.8 274.7 L290.9 274.3 L291.1 274.8 L291.3 272.5 L291.5 274.8 L291.7 272.6 L291.8 273.8 L292.0 272.6 L292.2 270.8 L292.4 271.2 L292.6 270.3 L292.8 269.9 L293.0 269.7 L293.1 268.1 L293.3 267.5 L293.5 267.2 L293.7 265.9 L293.9 266.3 L294.1 266.1 L294.3 265.6 L294.5 265.1 L294.7 264.1 L294.9 264.5 L295.0 261.9 L295.2 262.6 L295.4 262.1 L295.6 262.6 L295.8 261.9 L296.0 261.5 L296.2 260.3 L296.4 260.6 L296.6 258.5 L296.8 258.8 L297.0 256.8 L297.2 259.1 L297.4 258.5 L297.6 256.3 L297.8 255.6 L298.0 254.2 L298.3 254.0 L298.5 254.8 L298.7 254.1 L298.9 252.5 L299.1 252.8 L299.3 252.2 L299.5 252.6 L299.7 252.2 L299.9 251.0 L300.1 250.8 L300.4 250.2 L300.6 248.2 L300.8 249.3 L301.0 248.6 L301.2 248.7 L301.4 246.2 L301.7 247.8 L301.9 246.1 L302.1 246.3 L302.3 246.6 L302.5 244.0 L302.8 243.6 L303.0 244.9 L303.2 242.7 L303.4 242.4 L303.7 243.1 L303.9 242.0 L304.1 242.3 L304.3 241.4 L304.6 240.6 L304.8 240.9 L305.0 241.3 L305.3 239.1 L305.5 239.8 L305.7 239.1 L306.0 237.7 L306.2 237.5 L306.4 235.9 L306.7 235.7 L306.9 235.9 L307.2 235.1 L307.4 235.7 L307.7 233.2 L307.9 233.5 L308.1 232.7 L308.4 232.6 L308.6 233.2 L308.9 230.8 L309.1 232.0 L309.4 230.3 L309.7 230.0 L309.9 230.6 L310.2 229.1 L310.4 229.4 L310.7 228.5 L310.9 227.7 L311.2 227.1 L311.5 225.5 L311.7 225.9 L312.0 226.1 L312.3 225.7 L312.5 223.8 L312.8 225.3 L313.1 224.5 L313.4 222.6 L313.6 222.3 L313.9 223.1 L314.2 220.8 L314.5 221.1 L314.8 221.2 L315.0 220.7 L315.3 220.3 L315.6 220.2 L315.9 218.8 L316.2 218.5 L316.5 220.1 L316.8 216.9 L317.1 217.2 L317.4 217.2 L317.7 216.1 L318.0 217.2 L318.3 215.8 L318.6 215.9 L318.9 213.3 L319.2 215.3 L319.5 214.8 L319.8 212.9 L320.1 214.1 L320.5 212.8 L320.8 212.9 L321.1 213.2 L321.4 211.3 L321.7 210.0 L322.1 210.4 L322.4 208.9 L322.7 208.9 L323.1 208.5 L323.4 208.1 L323.7 209.1 L324.1 208.5 L324.4 206.6 L324.7 207.8 L325.1 205.2 L325.4 205.6 L325.8 205.6 L326.1 206.2 L326.5 205.4 L326.8 204.8 L327.2 205.0 L327.6 204.2 L327.9 204.3 L328.3 202.1 L328.6 201.0 L329.0 201.6 L329.4 202.2 L329.8 201.3 L330.1 201.4 L330.5 200.9 L330.9 200.3 L331.3 200.2 L331.6 198.6 L332.0 199.6 L332.4 197.5 L332.8 197.9 L333.2 196.4 L333.6 197.6 L334.0 195.6 L334.3 197.5 L334.7 195.0 L335.1 195.9 L335.5 195.2 L335.9 194.2 L336.3 195.5 L336.7 193.8 L337.2 195.0 L337.6 192.6 L338.0 192.4 L338.4 191.1 L338.8 192.8 L339.2 192.7 L339.6 191.8 L340.1 191.1 L340.5 190.2 L340.9 192.2 L341.3 190.8 L341.8 188.4 L342.2 189.3 L342.6 187.6 L343.0 190.1 L343.5 190.1 L343.9 189.3 L344.4 187.8 L344.8 187.0 L345.2 186.1 L345.7 187.3 L346.1 185.9 L346.6 185.9 L347.0 185.4 L347.5 185.3 L347.9 186.0 L348.4 186.3 L348.8 184.7 L349.3 184.3 L349.7 183.1 L350.2 182.7 L350.7 182.5 L351.1 183.8 L351.6 183.0 L352.0 183.3 L352.5 182.5 L353.0 181.6 L353.4 180.6 L353.9 181.0 L354.4 179.9 L354.9 182.4 L355.3 180.7 L355.8 179.9 L356.3 181.5 L356.8 179.3 L357.2 179.8 L357.7 178.9 L358.2 179.1 L358.7 178.2 L359.2 178.7 L359.7 179.1 L360.1 176.7 L360.6 175.9 L361.1 178.3 L361.6 177.1 L362.1 177.4 L362.6 176.2 L363.1 177.4 L363.6 177.4 L364.1 174.8 L364.6 176.0 L365.1 174.7 L365.5 173.7 L366.0 174.5 L366.5 175.0 L367.0 173.2 L367.5 173.0 L368.0 174.8 L368.5 173.6 L369.0 173.7 L369.5 172.2 L370.1 172.4 L370.6 172.8 L371.1 172.6 L371.6 172.3 L372.1 173.3 L372.6 171.9 L373.1 170.3 L373.6 170.7 L374.1 171.1 L374.6 172.0 L375.1 170.2 L375.6 170.2 L376.1 170.3 L376.7 169.6 L377.2 169.3 L377.7 169.5 L378.2 170.3 L378.7 169.7 L379.2 168.9 L379.7 169.3 L380.3 167.8 L380.8 169.4 L381.3 169.0 L381.8 168.5 L382.3 166.8 L382.8 169.5 L383.4 166.2 L383.9 166.7 L384.4 166.6 L384.9 167.8 L385.4 165.8 L385.9 167.1 L386.5 166.6 L387.0 166.3 L387.5 167.1 L388.0 167.4 L388.5 166.4 L389.1 165.7 L389.6 164.3 L390.1 166.8 L390.6 165.3 L391.1 163.9 L391.7 165.3 L392.2 166.2 L392.7 164.8 L393.2 163.8 L393.8 166.3 L394.3 165.0 L394.8 164.7 L395.3 165.1 L395.9 162.6 L396.4 163.9 L396.9 163.7 L397.4 165.4 L398.0 163.2 L398.5 163.0 L399.0 162.2 L399.5 162.6 L400.1 163.0 L400.6 163.2 L401.1 162.7 L401.7 164.4 L402.2 163.1 L402.7 163.1 L403.2 163.6 L403.8 162.8 L404.3 161.8 L404.8 160.9 L405.4 162.3 L405.9 161.2 L406.4 162.9 L407.0 161.1 L407.5 160.1 L408.0 161.5 L408.6 162.3 L409.1 161.1 L409.6 161.4 L410.1 161.2 L410.7 162.4 L411.2 161.2 L411.7 160.8 L412.3 160.2 L412.8 159.3 L413.4 161.7 L413.9 161.4 L414.4 159.6 L415.0 160.8 L415.5 160.5 L416.0 159.8 L416.6 159.8 L417.1 160.6 L417.6 158.9 L418.2 159.4 L418.7 159.7 L419.2 159.6 L419.8 159.4 L420.3 159.7 L420.9 159.9 L421.4 158.6 L421.9 159.3 L422.5 158.8 L423.0 160.4 L423.6 157.9 L424.1 158.8 L424.6 159.5 L425.2 158.6 L425.7 158.5 L426.2 158.3 L426.8 158.9 L427.3 157.6 L427.9 158.5 L428.4 158.4 L429.0 157.2 L429.5 158.6 L430.0 157.9 L430.6 158.5 L431.1 158.9 L431.7 158.4 L432.2 157.1 L432.7 158.2 L433.3 156.6 L433.8 157.2 L434.4 159.2 L434.9 157.8 L435.5 159.0 L436.0 157.5 L436.5 157.6 L437.1 156.6 L437.6 158.3 L438.2 157.3 L438.7 157.9 L439.3 157.7 L439.8 157.7 L440.4 157.5 L440.9 157.1 L441.4 157.1 L442.0 156.5 L442.5 155.5 L443.1 157.4 L443.6 158.6 L444.2 157.8 L444.7 158.5 L445.3 157.2 L445.8 156.0 L446.4 155.9 L446.9 157.3 L447.5 156.9 L448.0 156.4 L448.6 157.1 L449.1 155.8 L449.6 156.9 L450.2 156.2 L450.7 156.5 L451.3 157.3 L451.8 156.1 L452.4 157.3 L452.9 157.2 L453.5 155.5 L454.0 157.7 L454.6 155.0 L455.1 155.9 L455.7 156.6 L456.2 154.3 L456.8 156.7 L457.3 156.8 L457.9 155.7 L458.4 156.0 L459.0 155.9 L459.5 155.5 L460.1 156.5 L460.6 155.3 L461.2 155.5 L461.7 155.8 L462.3 156.2 L462.8 156.3 L463.4 154.2 L463.9 153.7 L464.5 155.2 L465.0 155.2 L465.6 154.4 L466.1 155.4 L466.7 155.7 L467.2 155.4 L467.8 156.4 L468.3 154.2 L468.9 155.0 L469.4 156.5 L470.0 155.5 L470.5 154.0 L471.1 155.0 L471.6 155.8 L472.2 156.4 L472.7 155.3 L473.3 155.7 L473.8 153.8 L474.4 154.5 L475.0 155.6 L475.5 153.8 L476.1 154.5 L476.6 153.0 L477.2 155.7 L477.7 154.3 L478.3 154.9 L478.8 153.2 L479.4 153.3 L479.9 155.8 L480.5 154.0 L481.0 153.8 L481.6 154.7 L482.1 154.7 L482.7 152.6 L483.2 153.4 L483.8 154.2 L484.3 154.1 L484.9 154.3 L485.5 153.7 L486.0 153.8 L486.6 154.1 L487.1 153.4 L487.7 153.2 L488.2 153.4 L488.8 153.9 L489.3 153.7 L489.9 153.4 L490.4 153.6 L491.0 153.7 L491.5 154.0 L492.1 154.0 L492.6 152.6 L493.2 154.4 L493.7 152.3 L494.3 154.0 L494.8 153.0 L495.4 154.0 L496.0 154.4 L496.5 152.0 L497.1 153.9 L497.6 153.6 L498.2 153.0 L498.7 153.7 L499.3 153.0 L499.8 153.4 L500.4 152.5 L500.9 153.9 L501.5 153.7 L502.0 153.8 L502.6 152.7 L503.1 154.7 L503.7 154.8 L504.2 153.1 L504.8 152.8 L505.4 152.8 L505.9 153.6 L506.5 153.9 L507.0 152.4 L507.6 151.4 L508.1 153.4 L508.7 152.9 L509.2 153.1 L509.8 153.3 L510.3 152.0 L510.9 152.9 L511.4 152.6 L512.0 153.1 L512.5 153.8 L513.1 152.8 L513.6 152.1 L514.2 153.8 L514.7 153.3 L515.3 152.5 L515.8 151.2 L516.4 152.0 L516.9 152.8 L517.5 153.1 L518.0 152.2 L518.6 152.9 L519.2 152.1 L519.7 152.2 L520.3 153.0 L520.8 152.3 L521.4 152.6 L521.9 153.2 L522.5 153.4 L523.0 152.0 L523.6 152.2 L524.1 151.3 L524.7 151.3 L525.2 152.6 L525.8 151.9 L526.3 150.8 L526.9 152.7 L527.4 151.6 L528.0 152.0 L528.5 152.6 L529.1 152.6 L529.6 152.2 L530.2 150.7 L530.7 152.6 L531.3 151.7 L531.8 151.0 L532.4 150.6 L532.9 153.2 L533.5 152.2 L534.0 152.2 L534.6 152.6 L535.1 152.0 L535.7 150.9 L536.2 152.6 L536.8 152.8 L537.3 152.4 L537.9 153.2 L538.4 153.5 L539.0 151.3 L539.5 151.6 L540.1 152.7 L540.6 152.1 L541.2 152.1 L541.7 152.7 L542.3 152.5 L542.8 151.5 L543.4 152.0 L543.9 151.3 L544.5 151.7 L545.0 150.9 L545.6 150.3 L546.1 151.4 L546.7 151.3 L547.2 152.5 L547.8 153.0 L548.3 151.8 L548.9 152.1 L549.4 151.2 L550.0 151.0 L550.5 151.5 L551.1 151.5 L551.6 151.9 L552.2 151.8 L552.7 153.0 L553.3 151.5 L553.8 150.3 L554.4 151.7 L554.9 151.1 L555.5 151.8 L556.0 152.5 L556.6 151.1 L557.1 151.5 L557.7 152.0 L558.2 150.8 L558.8 151.7 L559.3 152.0 L559.9 152.2 L560.4 152.4 L561.0 152.0 L561.5 151.8 L562.1 150.4 L562.6 149.9 L563.2 150.7 L563.7 152.6 L564.3 151.6 L564.8 149.9 L565.4 151.1 L565.9 151.7 L566.5 149.9 L567.0 151.9 L567.6 150.5 L568.1 152.2 L568.7 151.4 L569.2 153.0 L569.8 150.3 L570.3 151.6 L570.9 150.2 L571.4 152.3 L571.9 151.4 L572.5 152.1 L573.0 151.4 L573.6 150.4 L574.1 150.8 L574.7 150.3 L575.2 150.5 L575.8 151.4 L576.3 152.1 L576.9 152.0 L577.4 151.7 L578.0 150.8 L578.5 151.7 L579.1 150.6 L579.6 151.4 L580.2 151.9 L580.7 151.1 L581.3 150.8 L581.8 150.9 L582.4 151.7 L582.9 150.9 L583.5 150.0 L584.0 150.8 L584.6 150.3 L585.1 152.4 L585.7 151.2 L586.2 150.0 L586.8 151.3 L587.3 151.7 L587.8 151.4 L588.4 150.8 L588.9 151.2 L589.5 151.3 L590.0 151.9 L590.6 151.4 L591.1 152.7 L591.7 150.9 L592.2 152.3 L592.8 151.1 L593.3 149.7 L593.9 150.1 L594.4 149.6 L595.0 149.7 L595.5 152.0 L596.1 150.5 L596.6 151.5 L597.2 150.3 L597.7 151.0 L598.3 150.2 L598.8 151.7 L599.4 150.8 L599.9 150.6 L600.4 150.8 L601.0 152.6 L601.5 151.3 L602.1 151.6 L602.6 150.0 L603.2 150.4 L603.7 151.2 L604.3 149.5 L604.8 152.0 L605.4 151.1 L605.9 150.9 L606.5 150.8 L607.0 150.7 L607.6 150.5 L608.1 152.0 L608.7 151.4 L609.2 151.9 L609.8 150.6 L610.3 150.2 L610.8 151.9 L611.4 149.9 L611.9 150.4 L612.5 151.4 L613.0 151.7 L613.6 149.8 L614.1 150.6 L614.7 150.8 L615.2 150.7 L615.8 150.1 L616.3 151.3 L616.9 150.4 L617.4 150.6 L618.0 149.2 L618.5 150.7 L619.1 149.2 L619.6 151.3 L620.1 151.2 L620.7 150.4 L621.2 150.9 L621.8 150.8 L622.3 150.6 L622.9 151.0 L623.4 150.6 L624.0 150.3 L624.5 150.1 L625.1 152.1 L625.6 150.9 L626.2 150.7 L626.7 151.3 L627.3 150.4 L627.8 150.4 L628.3 151.2 L628.9 151.5 L629.4 151.2 L630.0 149.5 L630.5 150.7 L631.1 150.6 L631.6 151.0 L632.2 149.9 L632.7 149.8 L633.3 150.5 L633.8 149.9 L634.4 149.8 L634.9 150.6 L635.5 151.3 L636.0 150.7 L636.5 151.5 L637.1 149.8 L637.6 151.1 L638.2 150.6 L638.7 149.9 L639.3 150.2 L639.8 149.9 L640.4 150.4 L640.9 150.0 L641.5 151.5 L642.0 150.3 L642.6 149.4 L643.1 150.4 L643.7 150.8 L644.2 150.3 L644.7 151.2 L645.3 149.8 L645.8 149.8 L646.4 151.8 L646.9 150.5 L647.5 150.9 L648.0 150.9 L648.6 150.9 L649.1 150.5 L649.7 150.3 L650.2 151.3 L650.8 150.1 L651.3 150.5 L651.8 151.0 L652.4 150.1 L652.9 149.2 L653.5 150.8 L654.0 151.3 L654.6 150.6 L655.1 149.1 L655.7 150.9 L656.2 151.9 L656.8 149.1 L657.3 148.8 L657.9 150.2 L658.4 150.4 L659.0 151.0 L659.5 151.0 L660.0 150.4 L660.6 150.7 L661.1 150.6 L661.7 150.4 L662.2 150.3 L662.8 150.2 L663.3 150.8 L663.9 150.6 L664.4 149.9 L665.0 151.1 L665.5 149.7 L666.1 150.1 L666.6 150.4 L667.1 148.8 L667.7 149.9 L668.2 150.9 L668.8 150.9 L669.3 149.3 L669.9 149.6 L670.4 149.4 L671.0 150.0 L671.5 150.1 L672.1 148.9 L672.6 150.4 L673.2 150.2 L673.7 150.1 L674.2 149.6 L674.8 150.0 L675.3 148.8 L675.9 150.3 L676.4 150.3 L677.0 150.0 L677.5 149.2 L678.1 151.1 L678.6 151.0 L679.2 148.6 L679.7 150.4 L680.3 150.2 L680.8 148.5 L681.3 150.5 L681.9 150.6 L682.4 150.6 L683.0 150.2 L683.5 149.5 L684.1 149.7 L684.6 150.4 L685.2 151.0 L685.7 149.7 L686.3 149.8 L686.8 150.6 L687.4 148.4 L687.9 150.4 L688.4 149.8 L689.0 148.4 L689.5 150.6 L690.1 149.3 L690.6 150.6 L691.2 151.1 L691.7 149.0 L692.3 149.1 L692.8 150.0 L693.4 148.6 L693.9 150.5 L694.5 150.1 L695.0 150.7 L695.5 148.5 L696.1 150.1 L696.6 150.3 L697.2 148.6 L697.7 150.7 L698.3 148.9 L698.8 150.1 L699.4 148.9 L699.9 150.6 L700.5 151.3 L701.0 150.0 L701.6 150.0 L702.1 151.0 L702.6 149.6 L703.2 150.0 L703.7 150.6 L704.3 150.3 L704.8 151.2 L705.4 150.9 L705.9 151.5 L706.5 149.9 L707.0 150.8 L707.6 149.3 L708.1 150.7 L708.7 151.3 L709.2 151.5 L709.8 149.0 L710.3 149.9 L710.8 150.5 L711.4 149.3 L711.9 150.4 L712.5 150.4 L713.0 149.6 L713.6 149.6 L714.1 149.3 L714.7 150.2 L715.2 151.0 L715.8 150.2 L716.3 151.5 L716.9 148.9 L717.4 149.6 L717.9 150.6 L718.5 149.1 L719.0 150.3 L719.6 150.7 L720.1 150.2 L720.7 149.9 L721.2 150.8 L721.8 150.4 L722.3 150.6 L722.9 150.5 L723.4 149.5 L724.0 149.2 L724.5 149.8 L725.1 150.2 L725.6 149.9 L726.1 150.8 L726.7 150.3 L727.2 150.9 L727.8 150.2 L728.3 149.6 L728.9 150.8 L729.4 150.5 L730.0 149.5 L730.5 149.8 L731.1 151.7 L731.6 148.5 L732.2 151.1 L732.7 150.2 L733.2 150.1 L733.8 150.0 L734.3 149.8 L734.9 151.8 L735.4 149.9 L736.0 150.0 L736.5 150.9 L737.1 150.6 L737.6 150.1 L738.2 150.1 L738.7 149.2 L739.3 151.2 L739.8 149.5 L740.4 148.7 L740.9 151.2 L741.5 150.9 L742.0 150.6 L742.5 150.0 L743.1 151.3 L743.6 149.5 L744.2 148.8 L744.7 150.6 L745.3 151.1 L745.8 150.9 L746.4 152.0 L746.9 151.1 L747.5 150.3 L748.0 150.4 L748.6 151.2 L749.1 150.5 L749.7 150.5 L750.2 149.2 L750.8 150.4 L751.3 149.6 L751.8 150.8 L752.4 150.8 L752.9 151.2 L753.5 152.1 L754.0 150.6 L754.6 151.9 L755.1 149.9 L755.7 150.9 L756.2 151.6 L756.8 152.4 L757.3 150.0 L757.9 150.7 L758.4 151.0 L759.0 150.8 L759.5 150.2 L760.1 149.7 L760.6 150.0 L761.1 151.0 L761.7 150.0 L762.2 152.5 L762.8 152.1 L763.3 149.6 L763.9 150.8 L764.4 152.2 L765.0 152.4 L765.5 152.1 L766.1 150.1 L766.6 151.0 L767.2 152.3 L767.7 151.4 L768.3 151.0 L768.8 151.8 L769.4 152.2 L769.9 151.6 L770.5 151.7 L771.0 152.4 L771.6 151.1 L772.1 150.9 L772.6 152.2 L773.2 150.7 L773.7 152.1 L774.3 151.1 L774.8 152.4 L775.4 150.8 L775.9 152.7 L776.5 152.1 L777.0 151.7 L777.6 151.2 L778.1 151.8 L778.7 151.3 L779.2 151.1 L779.8 152.9 L780.3 152.6 L780.9 153.1 L781.4 151.1 L782.0 150.7 L782.5 151.0 L783.1 152.8 L783.6 153.0 L784.2 150.9 L784.7 153.2 L785.2 152.1 L785.8 151.6 L786.3 152.5 L786.9 153.0 L787.4 152.5 L788.0 152.5 L788.5 152.1 L789.1 151.6 L789.6 152.5 L790.2 151.6 L790.7 153.4 L791.3 152.3 L791.8 154.0 L792.4 151.8 L792.9 154.2 L793.5 152.4 L794.0 152.5 L794.6 153.5 L795.1 154.0 L795.7 153.3 L796.2 153.1 L796.7 155.0 L797.3 153.9 L797.8 152.6 L798.4 153.4 L798.9 155.0 L799.5 154.0 L800.0 154.4 L800.6 155.4 L801.1 153.4 L801.7 154.2 L802.2 153.4 L802.8 154.0 L803.3 154.5 L803.9 153.1 L804.4 154.3 L805.0 154.4 L805.5 155.1 L806.1 153.9 L806.6 153.4 L807.2 154.8 L807.7 153.6 L808.2 154.7 L808.8 155.1 L809.3 154.0 L809.9 154.7 L810.4 154.0 L811.0 153.3 L811.5 153.8 L812.1 153.4 L812.6 155.1 L813.2 154.3 L813.7 155.1 L814.3 155.2 L814.8 156.2 L815.4 155.1 L815.9 155.1 L816.5 155.9 L817.0 156.9 L817.5 155.6 L818.1 156.0 L818.6 155.6 L819.2 155.3 L819.7 154.7 L820.3 155.9 L820.8 155.9 L821.4 156.0 L821.9 157.8 L822.5 156.0 L823.0 156.6 L823.6 156.2 L824.1 157.5 L824.7 156.4 L825.2 158.2 L825.7 156.5 L826.3 157.4 L826.8 157.7 L827.4 156.8 L827.9 157.7 L828.5 157.2 L829.0 156.6 L829.6 156.7 L830.1 157.6 L830.7 158.9 L831.2 157.1 L831.8 158.0 L832.3 157.0 L832.8 158.0 L833.4 156.8 L833.9 157.3 L834.5 158.0 L835.0 157.5 L835.6 158.0 L836.1 159.1 L836.7 158.2 L837.2 157.9 L837.8 157.5 L838.3 158.2 L838.8 159.6 L839.4 158.7 L839.9 158.8 L840.5 159.5 L841.0 159.7 L841.6 159.9 L842.1 158.9 L842.7 158.6 L843.2 158.1 L843.8 159.0 L844.3 159.3 L844.8 160.3 L845.4 160.0 L845.9 159.4 L846.5 160.7 L847.0 159.1 L847.6 159.3 L848.1 159.3 L848.7 159.5 L849.2 160.3 L849.7 159.9 L850.3 160.0 L850.8 161.8 L851.4 159.7 L851.9 160.1 L852.5 160.9 L853.0 161.5 L853.6 161.6 L854.1 161.1 L854.6 161.2 L855.2 161.3 L855.7 162.3 L856.3 161.0 L856.8 160.3 L857.4 162.1 L857.9 161.1 L858.4 162.1 L859.0 163.4 L859.5 162.5 L860.1 164.0 L860.6 161.3 L861.1 162.9 L861.7 163.1 L862.2 163.6 L862.8 162.4 L863.3 163.3 L863.9 163.3 L864.4 163.4 L864.9 162.4 L865.5 162.2 L866.0 164.1 L866.6 164.1 L867.1 163.9 L867.6 164.5 L868.2 165.0 L868.7 163.3 L869.3 165.0 L869.8 165.7 L870.3 165.4 L870.9 165.2 L871.4 165.4 L871.9 163.8 L872.5 164.7 L873.0 166.0 L873.6 166.5 L874.1 165.8 L874.6 165.1 L875.2 165.5 L875.7 166.4 L876.2 167.4 L876.8 166.6 L877.3 165.7 L877.9 166.7 L878.4 166.7 L878.9 168.0 L879.5 167.0 L880.0 166.7 L880.5 166.7 L881.1 165.9 L881.6 166.2 L882.1 166.8 L882.7 166.6 L883.2 167.5 L883.7 167.6 L884.3 168.4 L884.8 169.0 L885.3 168.0 L885.9 167.8 L886.4 166.6 L886.9 168.5 L887.4 168.9 L888.0 167.8 L888.5 168.3 L889.0 168.1 L889.6 169.7 L890.1 169.4 L890.6 170.0 L891.1 168.2 L891.7 170.9 L892.2 168.8 L892.7 168.7 L893.3 169.8 L893.8 169.4 L894.3 171.4 L894.8 169.8 L895.4 169.7 L895.9 171.1 L896.4 171.5 L896.9 169.9 L897.5 170.4 L898.0 170.6 L898.5 170.9 L899.0 172.5 L899.5 172.3 L900.1 172.3 L900.6 172.6 L901.1 171.8 L901.6 172.6 L902.2 172.0 L902.7 171.6 L903.2 173.7 L903.7 171.1 L904.2 172.7 L904.7 172.4 L905.3 171.6 L905.8 172.8 L906.3 173.4 L906.8 173.8 L907.3 173.0 L907.8 174.4 L908.4 174.2 L908.9 174.8 L909.4 172.8 L909.9 174.2 L910.4 174.2 L910.9 175.3 L911.4 174.5 L912.0 174.8 L912.5 174.5 L913.0 174.7 L913.5 175.1 L914.0 176.8 L914.5 175.4 L915.0 174.8 L915.5 176.9 L916.0 176.5 L916.5 177.5 L917.0 177.7 L917.5 177.2 L918.1 177.3 L918.6 177.4 L919.1 178.1 L919.6 177.7 L920.1 178.7 L920.6 179.9 L921.1 178.4 L921.6 178.7 L922.1 178.9 L922.6 180.2 L923.1 180.4 L923.6 181.3 L924.1 180.9 L924.6 180.7 L925.1 181.2 L925.5 180.1 L926.0 181.8 L926.5 181.7 L927.0 183.4 L927.5 183.2 L928.0 181.7 L928.5 182.1 L929.0 183.6 L929.5 181.5 L930.0 182.6 L930.5 183.9 L930.9 184.4 L931.4 184.3 L931.9 185.3 L932.4 184.5 L932.9 185.0 L933.4 185.1 L933.8 184.6 L934.3 185.8 L934.8 185.6 L935.3 186.4 L935.7 185.0 L936.2 187.0 L936.7 186.7 L937.2 187.0 L937.6 187.8 L938.1 187.7 L938.6 189.1 L939.1 189.6 L939.5 189.6 L940.0 190.0 L940.5 189.8 L940.9 189.8 L941.4 189.1 L941.9 190.1 L942.3 191.7 L942.8 191.6 L943.3 190.9 L943.7 191.7 L944.2 192.8 L944.6 192.1 L945.1 193.9 L945.5 192.3 L946.0 193.8 L946.5 194.1 L946.9 194.0 L947.4 194.4 L947.8 194.9 L948.3 193.2 L948.7 195.5 L949.2 196.4 L949.6 196.1 L950.0 197.0 L950.5 195.5 L950.9 196.7 L951.4 197.4 L951.8 197.2 L952.2 198.7 L952.7 198.5 L953.1 198.1 L953.6 199.5 L954.0 199.8 L954.4 199.1 L954.9 200.3 L955.3 200.5 L955.7 200.8 L956.1 199.9 L956.6 202.3 L957.0 202.1 L957.4 201.9 L957.8 202.6 L958.3 202.9 L958.7 202.8 L959.1 202.9 L959.5 203.8 L959.9 203.6 L960.3 204.1 L960.7 203.9 L961.2 205.0 L961.6 206.4 L962.0 206.1 L962.4 206.3 L962.8 206.4 L963.2 206.7 L963.6 206.2 L964.0 209.1 L964.4 207.6 L964.8 207.4 L965.2 209.3 L965.6 209.5 L966.0 209.3 L966.4 208.9 L966.8 209.4 L967.2 212.1 L967.5 211.1 L967.9 211.1 L968.3 213.5 L968.7 212.0 L969.1 212.1 L969.5 213.6 L969.8 213.9 L970.2 215.2 L970.6 213.1 L971.0 215.0 L971.4 213.8 L971.7 215.9 L972.1 215.4 L972.5 216.0 L972.8 216.2 L973.2 217.8 L973.6 218.9 L974.0 217.9 L974.3 218.2 L974.7 218.4 L975.0 219.6 L975.4 218.8 L975.8 221.6 L976.1 220.3 L976.5 222.2 L976.8 221.4 L977.2 220.6 L977.5 220.8 L977.9 222.2 L978.3 222.4 L978.6 223.2 L979.0 222.8 L979.3 225.8 L979.6 226.2 L980.0 223.6 L980.3 225.8 L980.7 226.8 L981.0 226.0 L981.4 226.5 L981.7 228.0 L982.0 228.0 L982.4 227.0 L982.7 229.4 L983.1 228.5 L983.4 230.8 L983.7 229.0 L984.1 228.6 L984.4 230.7 L984.7 232.0 L985.0 231.9 L985.4 232.0 L985.7 231.6 L986.0 233.5 L986.4 231.7 L986.7 234.3 L987.0 233.1 L987.3 234.1 L987.6 233.9 L988.0 234.7 L988.3 237.1 L988.6 235.4 L988.9 236.9 L989.2 236.6 L989.5 238.5 L989.9 237.0 L990.2 238.5 L990.5 239.7 L990.8 241.1 L991.1 238.9 L991.4 239.6 L991.7 240.8 L992.0 242.4 L992.3 240.9 L992.6 242.8 L992.9 242.1 L993.2 242.2 L993.5 242.2 L993.8 244.1 L994.1 245.2 L994.4 244.8 L994.7 243.8 L995.0 245.4 L995.3 247.1 L995.6 247.4 L995.9 247.4 L996.2 248.8 L996.5 247.1 L996.8 247.6 L997.1 250.7 L997.4 250.0 L997.7 249.8 L998.0 250.0 L998.3 249.4 L998.5 252.0 L998.8 250.3 L999.1 250.8 L999.4 252.7 L999.7 254.5 L1000.0 253.4 L1000.2 254.5 L1000.5 254.3 L1000.8 255.4 L1001.1 254.2 L1001.4 257.7 L1001.6 255.7 L1001.9 257.5 L1002.2 255.9 L1002.5 259.4 L1002.7 258.8 L1003.0 260.5 L1003.3 258.8 L1003.6 260.7 L1003.8 260.2 L1004.1 260.8 L1004.4 262.3 L1004.7 261.0 L1004.9 262.8 L1005.2 264.3 L1005.5 264.6 L1005.7 264.5 L1006.0 264.4 L1006.3 263.8 L1006.5 266.3 L1006.8 265.0 L1007.0 267.0 L1007.3 266.3 L1007.6 267.0 L1007.8 267.5 L1008.1 268.5 L1008.4 268.1 L1008.6 269.1 L1008.9 269.0 L1009.1 270.3 L1009.4 270.6 L1009.7 271.2 L1009.9 270.7 L1010.2 272.1 L1010.4 272.4 L1010.7 273.3 L1010.9 273.3 L1011.2 273.0 L1011.4 274.9 L1011.7 274.2 L1011.9 275.5 L1012.2 274.2 L1012.4 276.6 L1012.7 277.2 L1012.9 276.4 L1013.2 278.1 L1013.4 277.8 L1013.7 279.8 L1013.9 279.7 L1014.2 278.6 L1014.4 279.9 L1014.7 279.1 L1014.9 280.8 L1015.1 282.0 L1015.4 282.7 L1015.6 282.4 L1015.9 282.8 L1016.1 283.6 L1016.4 283.5 L1016.6 284.8 L1016.8 285.9 L1017.1 285.6 L1017.3 286.7 L1017.5 285.8 L1017.8 286.6 L1018.0 287.7 L1018.2 289.6 L1018.5 289.3 L1018.7 290.3 L1019.0 289.5 L1019.2 290.9 L1019.4 289.1 L1019.6 291.3 L1019.9 289.8 L1020.1 292.9 L1020.3 292.8 L1020.6 293.9 L1020.8 293.7 L1021.0 293.5 L1021.2 293.8 L1021.5 295.0 L1021.7 296.6 L1021.9 296.4 L1022.2 295.9 L1022.4 296.4 L1022.6 296.8 L1022.8 297.7 L1023.0 298.3 L1023.3 298.5 L1023.5 299.4 L1023.7 298.6 L1023.9 301.6 L1024.1 301.1 L1024.4 302.6 L1024.6 302.1 L1024.8 302.2 L1025.0 302.9 L1025.2 303.6 L1025.5 303.3 L1025.7 304.1 L1025.9 306.4 L1026.1 306.1 L1026.3 305.5 L1026.5 306.8 L1026.7 306.2 L1026.9 308.5 L1027.2 307.1 L1027.4 309.1 L1027.6 308.9 L1027.8 309.4 L1028.0 309.3 L1028.2 310.2 L1028.4 310.3 L1028.6 310.7 L1028.8 312.3 L1029.0 314.0 L1029.2 312.7 L1029.5 314.3 L1029.7 313.9 L1029.9 313.9 L1030.1 316.1 L1030.3 316.0 L1030.5 316.9 L1030.7 316.6 L1030.9 317.1 L1031.1 316.8 L1031.3 317.8 L1031.5 319.9 L1031.7 317.4 L1031.9 319.9 L1032.1 321.2 L1032.3 321.2 L1032.5 321.8 L1032.7 321.4 L1032.9 323.0 L1033.1 323.5 L1033.3 323.1 L1033.4 325.0 L1033.6 323.7 L1033.8 323.0 L1034.0 325.1 L1034.2 325.6 L1034.4 325.5 L1034.6 326.3 L1034.8 326.8 L1035.0 326.2 L1035.2 329.2 L1035.4 328.7 L1035.6 330.8 L1035.7 329.7 L1035.9 330.6 L1036.1 329.6 L1036.3 332.1 L1036.5 330.9 L1036.7 332.8 L1036.9 333.6 L1037.1 334.0 L1037.2 333.2 L1037.4 333.7 L1037.6 335.5 L1037.8 336.4 L1038.0 337.1 L1038.2 336.4 L1038.3 336.9 L1038.5 338.9 L1038.7 337.5 L1038.9 339.1 L1039.1 338.8 L1039.2 338.4 L1039.4 339.1 L1039.6 340.9 L1039.8 341.3 L1039.9 342.0 L1040.1 341.8 L1040.3 342.2 L1040.5 343.4 L1040.7 343.5 L1040.8 342.9 L1041.0 344.4 L1041.2 346.6 L1041.3 345.1 L1041.5 346.7 L1041.7 346.7 L1041.9 347.9 L1042.0 347.1 L1042.2 347.3 L1042.4 349.2 L1042.5 348.8 L1042.7 349.9 L1042.9 350.2 L1043.1 351.7 L1043.2 351.7 L1043.4 352.1 L1043.6 351.7 L1043.7 351.8 L1043.9 352.9 L1044.1 354.7 L1044.2 355.1 L1044.4 355.6 L1044.6 355.3 L1044.7 355.3 L1044.9 357.6 L1045.1 357.3 L1045.2 358.1 L1045.4 357.5 L1045.5 358.2 L1045.7 359.8 L1045.9 360.4 L1046.0 359.5 L1046.2 361.1 L1046.3 360.4 L1046.5 362.9 L1046.7 363.0 L1046.8 364.5 L1047.0 364.7 L1047.1 363.5 L1047.3 364.7 L1047.5 364.7 L1047.6 365.7 L1047.8 366.7 L1047.9 366.6 L1048.1 367.2 L1048.2 366.6 L1048.4 368.7 L1048.5 368.7 L1048.7 369.8 L1048.8 370.6 L1049.0 370.3 L1049.2 371.4 L1049.3 370.9 L1049.5 372.6 L1049.6 372.4 L1049.8 372.5 L1049.9 373.3 L1050.1 372.9 L1050.2 374.0 L1050.4 374.7 L1050.5 375.6 L1050.7 376.0 L1050.8 376.1 L1051.0 377.0 L1051.1 376.1 L1051.3 378.3 L1051.4 379.2 L1051.5 379.9 L1051.7 380.7 L1051.8 380.2 L1052.0 380.8 L1052.1 381.0 L1052.3 381.5 L1052.4 382.6 L1052.6 384.1 L1052.7 382.2 L1052.8 383.7 L1053.0 384.8 L1053.1 384.3 L1053.3 386.0 L1053.4 385.1 L1053.6 386.4 L1053.7 385.9 L1053.8 388.0 L1054.0 387.7 L1054.1 389.3 L1054.3 389.1 L1054.4 389.1 L1054.5 390.1 L1054.7 391.0 L1054.8 391.5 L1054.9 391.8 L1055.1 392.3 L1055.2 393.1 L1055.4 394.3 L1055.5 393.7 L1055.6 395.0 L1055.8 394.1 L1055.9 396.5 L1056.0 396.6 L1056.2 396.5 L1056.3 397.1 L1056.4 396.5 L1056.6 398.5 L1056.7 398.7 L1056.8 398.4 L1057.0 399.7 L1057.1 401.0 L1057.2 401.2 L1057.4 401.8 L1057.5 401.7 L1057.6 403.3 L1057.8 403.2 L1057.9 404.4 L1058.0 405.9 L1058.1 403.2 L1058.3 405.0 L1058.4 405.9 L1058.5 405.8 L1058.7 407.8 L1058.8 407.2 L1058.9 409.4 L1059.0 409.2 L1059.2 409.4 L1059.3 409.6 L1059.4 410.9 L1059.5 411.1 L1059.7 412.4 L1059.8 412.1 L1059.9 413.2 L1060.0 413.2 L1060.2 413.7 L1060.3 412.7 L1060.4 414.5 L1060.5 415.3 L1060.7 414.6 L1060.8 415.0 L1060.9 416.4 L1061.0 417.4 L1061.2 416.4 L1061.3 418.5 L1061.4 419.5 L1061.5 419.1 L1061.6 420.1 L1061.8 420.8 L1061.9 420.4 L1062.0 422.0 L1062.1 422.4 L1062.2 421.6 L1062.4 423.5 L1062.5 424.3 L1062.6 423.3 L1062.7 425.4 L1062.8 425.0 L1063.0 424.7 L1063.1 425.5 L1063.2 426.2 L1063.3 427.8 L1063.4 427.6 L1063.5 428.2 L1063.7 428.0 L1063.8 429.6 L1063.9 429.1 L1064.0 430.1 L1064.1 431.7 L1064.2 432.2 L1064.4 431.8 L1064.5 432.7 L1064.6 433.7 L1064.7 433.9 L1064.8 435.4 L1064.9 436.0 L1065.0 435.4 L1065.1 435.1 L1065.3 436.4 L1065.4 438.2 L1065.5 438.5 L1065.6 439.1 L1065.7 439.6 L1065.8 438.9 L1065.9 440.0 L1066.0 441.2 L1066.2 441.1 L1066.3 442.1 L1066.4 441.2 L1066.5 441.5 L1066.6 444.6 L1066.7 444.2 L1066.8 444.6 L1066.9 445.8 L1067.0 446.8 L1067.1 447.3 L1067.2 444.7 L1067.4 447.2 L1067.5 448.2 L1067.6 446.4 L1067.7 447.0 L1067.8 448.9 L1067.9 451.1 L1068.0 450.8 L1068.1 452.2 L1068.2 451.4 L1068.3 452.6 L1068.4 453.5 L1068.5 453.2 L1068.6 453.3 L1068.7 454.0 L1068.8 452.8 L1069.0 455.2 L1069.1 454.0 L1069.2 455.4 L1069.3 457.1 L1069.4 457.4 L1069.5 456.1 L1069.6 458.6 L1069.7 459.3 L1069.8 459.4 L1069.9 460.4 L1070.0 460.8 L1070.1 459.5 L1070.2 461.3 L1070.3 461.7 L1070.4 461.5 L1070.5 463.0 L1070.6 462.9 L1070.7 464.1 L1070.8 464.0 L1070.9 466.1 L1071.0 467.4 L1071.1 465.8 L1071.2 466.9 L1071.3 467.4 L1071.4 468.3 L1071.5 468.3 L1071.6 467.4 L1071.7 469.8 L1071.8 470.0 L1071.9 469.8 L1072.0 471.0 L1072.1 471.3 L1072.2 472.4 L1072.3 472.5 L1072.4 473.1 L1072.5 474.0 L1072.6 474.6 L1072.7 475.0 L1072.8 476.4 L1072.9 476.2 L1073.0 476.0 L1073.1 478.5 L1073.2 477.8 L1073.3 479.5 L1073.4 477.9 L1073.5 479.8 L1073.6 481.2 L1073.7 481.4 L1073.8 481.0 L1073.9 481.0 L1074.0 481.5 L1074.1 482.4 L1074.2 482.3 L1074.3 483.0 L1074.4 483.4 L1074.5 483.9 L1074.6 485.4 L1074.6 484.4 L1074.7 486.5 L1074.8 487.4 L1074.9 486.7 L1075.0 487.2 L1075.1 488.5 L1075.2 489.0 L1075.3 490.4 L1075.4 488.6 L1075.5 490.6 L1075.6 492.3 L1075.7 491.8 L1075.8 493.7 L1075.9 494.5 L1076.0 492.9 L1076.1 495.1 L1076.2 494.9 L1076.2 495.0 L1076.3 495.3 L1076.4 495.9 L1076.5 495.9 L1076.6 497.0 L1076.7 498.5 L1076.8 499.3 L1076.9 498.5 L1077.0 499.8 L1077.1 500.3 L1077.2 498.8 L1077.3 501.6 L1077.3 500.5 L1077.4 501.1 L1077.5 503.3 L1077.6 504.5 L1077.7 502.8 L1077.8 503.5 L1077.9 504.0 L1078.0 504.9 L1078.1 505.5 L1078.2 505.7 L1078.2 505.6 L1078.3 508.9 L1078.4 507.6 L1078.5 507.9 L1078.6 509.8 L1078.7 509.3 L1078.8 511.1 L1078.9 511.4 L1079.0 512.1 L1079.0 511.5 L1079.1 512.9 L1079.2 511.7 L1079.3 512.3 L1079.4 514.0 L1079.5 514.3 L1079.6 516.1 L1079.7 515.4 L1079.7 514.7 L1079.8 516.7 L1079.9 517.0 L1080.0 517.9 L1080.1 517.4 L1080.2 518.2 L1080.3 519.5 L1080.3 520.5 L1080.4 520.8 L1080.5 521.6 L1080.6 520.4 L1080.7 521.9 L1080.8 522.8 L1080.9 524.0 L1080.9 524.0 L1081.0 524.1 L1081.1 524.7 L1081.2 525.3 L1081.3 524.8 L1081.4 526.5 L1081.5 527.7 L1081.5 528.1 L1081.6 526.6 L1081.7 528.6 L1081.8 528.0 L1081.9 530.6 L1082.0 530.7 L1082.0 531.4 L1082.1 530.8 L1082.2 530.3 L1082.3 531.6 L1082.4 532.7 L1082.4 532.3 L1082.5 533.3 L1082.6 536.0 L1082.7 534.1 L1082.8 536.1 L1082.9 534.7 L1082.9 537.0 L1083.0 538.0 L1083.1 538.2 L1083.2 539.4 L1083.3 540.4 L1083.3 538.4 L1083.4 540.2 L1083.5 541.0 L1083.6 541.5 L1083.7 542.9 L1083.7 542.4 L1083.8 543.7 L1083.9 544.2 L1084.0 544.0 L1084.1 544.8 L1084.1 544.3 L1084.2 545.7 L1084.3 546.2 L1084.4 546.4 L1084.5 546.7 L1084.5 548.4 L1084.6 548.1 L1084.7 550.3 L1084.8 550.3 L1084.9 550.4 L1084.9 549.9 L1085.0 551.6 L1085.1 551.6 L1085.2 552.1 L1085.2 551.7 L1085.3 553.5 L1085.4 553.8 L1085.5 553.8 L1085.6 554.2 L1085.6 555.0 L1085.7 554.7 L1085.8 555.9 L1085.9 558.0 L1085.9 556.9 L1086.0 559.5 L1086.1 557.4 L1086.2 559.9 L1086.2 560.5 L1086.3 561.1 L1086.4 561.1 L1086.5 559.9 L1086.5 562.7 L1086.6 563.2 L1086.7 562.9 L1086.8 561.8 L1086.8 564.8 L1086.9 563.7 L1087.0 564.8 L1087.1 566.6 L1087.1 567.2 L1087.2 567.0 L1087.3 566.7 L1087.4 569.1 L1087.4 569.2 L1087.5 568.7 L1087.6 568.6 L1087.7 570.1 L1087.7 569.4 L1087.8 572.4 L1087.9 571.9 L1087.9 571.8 L1088.0 572.9 L1088.1 571.8 L1088.2 573.6 L1088.2 573.7 L1088.3 573.5 L1088.4 574.8 L1088.5 576.1 L1088.5 575.3 L1088.6 576.8 L1088.7 576.3 L1088.7 578.2 L1088.8 577.2 L1088.9 579.7 L1089.0 580.2 L1089.0 580.9 L1089.1 582.2 L1089.2 581.4 L1089.2 581.9 L1089.3 582.8 L1089.4 582.5 L1089.4 581.9 L1089.5 583.0 L1089.6 583.5 L1089.7 585.2 L1089.7 585.1 L1089.8 585.8 L1089.9 587.1 L1089.9 587.4 L1090.0 589.4 L1090.1 588.3 L1090.1 588.1 L1090.2 590.4 L1090.3 589.6 L1090.3 590.4 L1090.4 591.8 L1090.5 591.7 L1090.6 592.7 L1090.6 592.2 L1090.7 593.0 L1090.8 594.3 L1090.8 593.9 L1090.9 594.5 L1091.0 595.4 L1091.0 597.2 L1091.1 597.7 L1091.2 597.2 L1091.2 597.6 L1091.3 597.6 L1091.4 599.7 L1091.4 599.6 L1091.5 600.5 L1091.6 599.2 L1091.6 601.5 L1091.7 601.5 L1091.8 602.6 L1091.8 603.3 L1091.9 603.1 L1092.0 603.3 L1092.0 604.7 L1092.1 603.7 L1092.2 606.4 L1092.2 606.0 L1092.3 605.4 L1092.3 607.9 L1092.4 608.2 L1092.5 609.2 L1092.5 609.3 L1092.6 609.4 L1092.7 609.6 L1092.7 609.3 L1092.8 611.3 L1092.9 611.7 L1092.9 611.4 L1093.0 612.8 L1093.1 612.1 L1093.1 614.2 L1093.2 614.1 L1093.2 614.7 L1093.3 614.4 L1093.4 616.3 L1093.4 616.2 L1093.5 616.2 L1093.6 617.5 L1093.6 617.6 L1093.7 619.1 L1093.7 617.6 L1093.8 618.4 L1093.9 621.4 L1093.9 620.1 L1094.0 621.4 L1094.1 621.2 L1094.1 622.3 L1094.2 624.1 L1094.2 621.6 L1094.3 624.1 L1094.4 624.3 L1094.4 624.8 L1094.5 624.7 L1094.5 625.1 L1094.6 627.5 L1094.7 627.4 L1094.7 626.5 L1094.8 628.1 L1094.9 627.5 L1094.9 630.7 L1095.0 630.0 L1095.0 628.8 L1095.1 631.5 L1095.2 631.8 L1095.2 632.1 L1095.3 632.5 L1095.3 632.5 L1095.4 633.3 L1095.4 632.4 L1095.5 635.6 L1095.6 636.6 L1095.6 636.1 L1095.7 636.7 L1095.7 635.6 L1095.8 636.9 L1095.9 636.7 L1095.9 637.3 L1096.0 639.3 L1096.0 640.6 L1096.1 639.9 L1096.2 642.1 L1096.2 641.7 L1096.3 640.0 L1096.3 641.8 L1096.4 643.8 L1096.4 643.4 L1096.5 644.6 L1096.6 643.0 L1096.6 645.9 L1096.7 644.5 L1096.7 646.3 L1096.8 648.1 L1096.8 647.1 L1096.9 647.4 L1097.0 648.8 L1097.0 648.0 L1097.1 648.5 L1097.1 650.6 L1097.2 649.1 L1097.2 649.9 L1097.3 652.8 L1097.3 650.9 L1097.4 652.9 L1097.5 653.9 L1097.5 653.5 L1097.6 653.3 L1097.6 655.3 L1097.7 654.5 L1097.7 657.3 L1097.8 657.9 L1097.8 656.0 L1097.9 657.9 L1098.0 657.4 L1098.0 658.8 L1098.1 658.8 L1098.1 658.8 L1098.2 660.5 L1098.2 659.3 L1098.3 661.4 L1098.3 661.6 L1098.4 661.7 L1098.4 663.6 L1098.5 663.4 L1098.5 663.6 L1098.6 664.3 L1098.7 664.8 L1098.7 666.3 L1098.8 665.9 L1098.8 665.0 L1098.9 665.5 L1098.9 666.9 L1099.0 667.3 L1099.0 668.6 L1099.1 668.3 L1099.1 669.2 L1099.2 671.5 L1099.2 669.9 L1099.3 672.2 L1099.3 672.0 L1099.4 673.7 L1099.4 673.9 L1099.5 673.8 L1099.5 675.1 L1099.6 675.0 L1099.7 674.4 L1099.7 676.3 L1099.8 676.8 L1099.8 676.9 L1099.9 677.7 L1099.9 677.7 L1100.0 678.9 L1100.0 679.0 L1100.1 678.5 L1100.1 680.1 L1100.2 682.1 L1100.2 682.0 L1100.3 683.1 L1100.3 682.5 L1100.4 682.7 L1100.4 682.7 L1100.5 684.2 L1100.5 685.5 L1100.6 685.8 L1100.6 686.3 L1100.7 685.9 L1100.7 686.9 L1100.8 686.7 L1100.8 688.6 L1100.9 688.9 L1100.9 688.5 L1101.0 689.6 L1101.0 688.4 L1101.1 691.2 L1101.1 690.5 L1101.2 691.4 L1101.2 692.7 L1101.3 693.3 L1101.3 692.8 L1101.4 695.2 L1101.4 696.0 L1101.4 696.1 L1101.5 696.6 L1101.5 696.1 L1101.6 697.7 L1101.6 696.5 L1101.7 696.8 L1101.7 698.4 L1101.8 699.0 L1101.8 698.6 L1101.9 701.3 L1101.9 699.3 L1102.0 699.3 L1102.0 701.2 L1102.1 703.4 L1102.1 703.2 L1102.2 703.4 L1102.2 703.8 L1102.3 704.7 L1102.3 705.0 L1102.3 705.4 L1102.4 705.8 L1102.4 705.1 L1102.5 707.7 L1102.5 707.2 L1102.6 708.4 L1102.6 709.0 L1102.7 710.0 L1102.7 709.1 L1102.8 710.9 L1102.8 711.5 L1102.9 711.2 L1102.9 711.8 L1102.9 712.5 L1103.0 712.1 L1103.0 713.1 L1103.1 713.1 L1103.1 715.5 L1103.2 714.5 L1103.2 714.8 L1103.3 716.3 L1103.3 717.2 L1103.3 717.0 L1103.4 717.1 L1103.4 718.7 L1103.5 719.6 L1103.5 718.2 L1103.6 720.8 L1103.6 719.2 L1103.7 721.7 L1103.7 721.3 L1103.7 722.0 L1103.8 723.3 L1103.8 724.5 L1103.9 725.4 L1103.9 725.5 L1104.0 725.5 L1104.0 724.4 L1104.1 725.7 L1104.1 726.7 L1104.1 726.7 L1104.2 728.1 L1104.2 728.0 L1104.3 730.2 L1104.3 729.2 L1104.4 728.8 L1104.4 730.0 L1104.4 730.4 L1104.5 732.1 L1104.5 733.2 L1104.6 733.4 L1104.6 734.0 L1104.7 733.1 L1104.7 733.3 L1104.7 734.1 L1104.8 735.3 L1104.8 735.6 L1104.9 736.6 L1104.9 737.8 L1104.9 737.6 L1105.0 739.4 L1105.0 738.0 L1105.1 739.7 L1105.1 739.7 L1105.2 741.1 L1105.2 740.8 L1105.2 740.9 L1105.3 741.8 L1105.3 741.7 L1105.4 742.1 L1105.4 744.2 L1105.4 743.6 L1105.5 745.6 L1105.5 746.7 L1105.6 745.4 L1105.6 747.0 L1105.6 746.7 L1105.7 745.8 L1105.7 747.8 L1105.8 749.6 L1105.8 748.0 L1105.8 749.4 L1105.9 749.9 L1105.9 749.5 L1106.0 751.4 L1106.0 751.6 L1106.0 752.7 L1106.1 752.8 L1106.1 752.2 L1106.2 754.0 L1106.2 754.9 L1106.2 754.8 L1106.3 756.0 L1106.3 756.5 L1106.4 755.0 L1106.4 757.7 L1106.4 756.1 L1106.5 757.2 L1106.5 758.7 L1106.6 758.5 L1106.6 759.2 L1106.6 761.3 L1106.7 760.1 L1106.7 762.5 L1106.8 763.5 L1106.8 763.7 L1106.8 762.3 L1106.9 762.5 L1106.9 764.3 L1106.9 766.4 L1107.0 765.2 L1107.0 765.4 L1107.1 766.3 L1107.1 767.6 L1107.1 768.5 L1107.2 768.1 L1107.2 768.5 L1107.2 769.6 L1107.3 769.7 L1107.3 769.9 L1107.4 769.4 L1107.4 771.4 L1107.4 771.4 L1107.5 772.2 L1107.5 772.7 L1107.5 772.8 L1107.6 774.5 L1107.6 775.5 L1107.7 775.6 L1107.7 775.2 L1107.7 776.4 L1107.8 777.4 L1107.8 777.3 L1107.8 778.5 L1107.9 777.3 L1107.9 778.8 L1108.0 780.7 L1108.0 780.9 L1108.0 780.5 L1108.1 781.3 L1108.1 783.4 L1108.1 783.2 L1108.2 782.3 L1108.2 783.6 L1108.2 783.6 L1108.3 784.0 L1108.3 784.1 L1108.3 786.2 L1108.4 787.7 L1108.4 787.4 L1108.5 786.2 L1108.5 788.2 L1108.5 787.2 L1108.6 789.1 L1108.6 790.3 L1108.6 791.2 L1108.7 790.6 L1108.7 791.3 L1108.7 791.6 L1108.8 792.0 L1108.8 794.0 L1108.8 792.5 L1108.9 792.5 L1108.9 795.8 L1108.9 796.5 L1109.0 794.2 L1109.0 796.8 L1109.1 797.2 L1109.1 796.8 L1109.1 796.9 L1109.2 798.3 L1109.2 798.5 L1109.2 799.9 L1109.3 799.3 L1109.3 801.3 L1109.3 800.4 L1109.4 802.8 L1109.4 802.7 L1109.4 803.5 L1109.5 802.8 L1109.5 803.5 L1109.5 804.1 L1109.6 805.7 L1109.6 804.8 L1109.6 805.2 L1109.7 806.2 L1109.7 807.2 L1109.7 807.4 L1109.8 808.0 L1109.8 807.6 L1109.8 808.7 L1109.9 808.8 L1109.9 811.1 L1109.9 810.8 L1110.0 811.9 L1110.0 810.8 L1110.0 812.4 L1110.1 813.3 L1110.1 812.7 L1110.1 813.6 L1110.2 814.2 L1110.2 815.3 L1110.2 816.0 L1110.3 815.1 L1110.3 817.1 L1110.3 817.5 L1110.4 818.2 L1110.4 817.8 L1110.4 819.0 L1110.5 820.6 L1110.5 821.0 L1110.5 820.2 L1110.5 822.5 L1110.6 821.4 L1110.6 821.6 L1110.6 823.8 L1110.7 823.7 L1110.7 825.6 L1110.7 824.3 L1110.8 825.2 L1110.8 826.2 L1110.8 826.4 L1110.9 826.4 L1110.9 827.3 L1110.9 827.8 L1111.0 828.3 L1111.0 828.9 L1111.0 828.2 L1111.1 830.7 L1111.1 830.0 L1111.1 830.9 L1111.2 831.0 L1111.2 832.0 L1111.2 833.5 L1111.2 834.3 L1111.3 834.1 L1111.3 834.5 L1111.3 834.5 L1111.4 835.3 L1111.4 836.2 L1111.4 836.5 L1111.5 836.3 L1111.5 837.7 L1111.5 837.4 L1111.6 840.4 L1111.6 839.6 L1111.6 839.4 L1111.6 840.8 L1111.7 840.4 L1111.7 841.3 L1111.7 843.3 L1111.8 843.7 L1111.8 842.2 L1111.8 842.8 L1111.9 843.9 L1111.9 846.4 L1111.9 845.4 L1111.9 846.1 L1112.0 846.1 L1112.0 848.1 L1112.0 848.3 L1112.1 846.7 L1112.1 848.0 L1112.1 847.8 L1112.2 848.8 L1112.2 849.7 L1112.2 849.8 L1112.2 850.9 L1112.3 852.5 L1112.3 853.4 L1112.3 853.2 L1112.4 854.2 L1112.4 853.1 L1112.4 855.9 L1112.5 856.9 L1112.5 855.7 L1112.5 856.8 L1112.5 857.2 L1112.6 855.9 L1112.6 858.8 L1112.6 858.9 L1112.7 857.8 L1112.7 859.3 L1112.7 861.1 L1112.7 861.2 L1112.8 860.2 L1112.8 861.4 L1112.8 861.9 L1112.9 863.1 L1112.9 862.9 L1112.9 864.1 L1112.9 864.5 L1113.0 864.0 L1113.0 866.0 L1113.0 866.5 L1113.1 866.3 L1113.1 868.0 L1113.1 869.5 L1113.1 867.2 L1113.2 869.2 L1113.2 870.2 L1113.2 870.1 L1113.3 870.2 L1113.3 872.8 L1113.3 871.4 L1113.3 872.2 L1113.4 872.3 L1113.4 874.4 L1113.4 872.4 L1113.5 873.8 L1113.5 874.7 L1113.5 875.9 L1113.5 876.4 L1113.6 877.5 L1113.6 877.2 L1113.6 877.2 L1113.7 878.3 L1113.7 878.2 L1113.7 879.0 L1113.7 879.6 L1113.8 880.8 L1113.8 881.8 L1113.8 880.8 L1113.8 881.7 L1113.9 882.8 L1113.9 883.3 L1113.9 883.7 L1114.0 884.9 L1114.0 884.8 L1114.0 884.1 L1114.0 887.1 L1114.1 885.6 L1114.1 888.5 L1114.1 887.9 L1114.2 888.5 L1114.2 887.7 L1114.2 889.6 L1114.2 889.8 L1114.3 889.8 L1114.3 891.5 L1114.3 892.2 L1114.3 893.1 L1114.4 891.7 L1114.4 892.6 L1114.4 894.9 L1114.4 894.8 L1114.5 895.5 L1114.5 895.0 L1114.5 896.3" stroke="#4672a5" stroke-opacity="0.38"/><path d="M226.3 896.0 L226.5 893.0 L226.6 890.0 L226.7 887.0 L226.9 884.0 L227.0 881.0 L227.1 878.1 L227.3 875.1 L227.4 872.1 L227.5 869.1 L227.7 866.1 L227.8 863.1 L227.9 860.1 L228.1 857.1 L228.2 854.2 L228.4 851.2 L228.5 848.2 L228.6 845.2 L228.8 842.2 L228.9 839.2 L229.1 836.3 L229.2 833.3 L229.3 830.3 L229.5 827.3 L229.6 824.3 L229.8 821.3 L229.9 818.4 L230.1 815.4 L230.2 812.4 L230.4 809.4 L230.5 806.4 L230.7 803.5 L230.8 800.5 L231.0 797.5 L231.1 794.5 L231.3 791.6 L231.4 788.6 L231.6 785.6 L231.7 782.6 L231.9 779.7 L232.0 776.7 L232.2 773.7 L232.3 770.7 L232.5 767.8 L232.7 764.8 L232.8 761.8 L233.0 758.8 L233.1 755.9 L233.3 752.9 L233.5 749.9 L233.6 746.9 L233.8 744.0 L234.0 741.0 L234.1 738.0 L234.3 735.1 L234.5 732.1 L234.7 729.1 L234.8 726.1 L235.0 723.2 L235.2 720.2 L235.4 717.2 L235.5 714.3 L235.7 711.3 L235.9 708.3 L236.1 705.3 L236.2 702.4 L236.4 699.4 L236.6 696.4 L236.8 693.5 L237.0 690.5 L237.2 687.5 L237.4 684.6 L237.6 681.6 L237.7 678.6 L237.9 675.7 L238.1 672.7 L238.3 669.7 L238.5 666.8 L238.7 663.8 L238.9 660.8 L239.1 657.9 L239.3 654.9 L239.5 651.9 L239.7 649.0 L239.9 646.0 L240.2 643.0 L240.4 640.1 L240.6 637.1 L240.8 634.1 L241.0 631.2 L241.2 628.2 L241.4 625.2 L241.7 622.3 L241.9 619.3 L242.1 616.3 L242.3 613.4 L242.5 610.4 L242.8 607.4 L243.0 604.5 L243.2 601.5 L243.5 598.5 L243.7 595.6 L243.9 592.6 L244.2 589.6 L244.4 586.7 L244.6 583.7 L244.9 580.7 L245.1 577.8 L245.4 574.8 L245.6 571.8 L245.9 568.9 L246.1 565.9 L246.4 562.9 L246.6 560.0 L246.9 557.0 L247.1 554.0 L247.4 551.1 L247.7 548.1 L247.9 545.1 L248.2 542.2 L248.4 539.2 L248.7 536.2 L249.0 533.3 L249.3 530.3 L249.5 527.3 L249.8 524.3 L250.1 521.4 L250.4 518.4 L250.7 515.4 L250.9 512.5 L251.2 509.5 L251.5 506.5 L251.8 503.6 L252.1 500.6 L252.4 497.6 L252.7 494.7 L253.0 491.7 L253.3 488.7 L253.6 485.7 L253.9 482.8 L254.2 479.8 L254.5 476.8 L254.8 473.9 L255.1 470.9 L255.5 467.9 L255.8 464.9 L256.1 462.0 L256.4 459.0 L256.8 456.0 L257.1 453.0 L257.4 450.1 L257.7 447.1 L258.1 444.1 L258.4 441.1 L258.8 438.2 L259.1 435.2 L259.4 432.2 L259.8 429.2 L260.1 426.3 L260.5 423.3 L260.9 420.3 L261.2 417.3 L261.6 414.4 L262.0 411.4 L262.3 408.4 L262.7 405.4 L263.1 402.5 L263.5 399.5 L263.9 396.5 L264.3 393.6 L264.7 390.6 L265.2 387.6 L265.6 384.7 L266.0 381.7 L266.5 378.8 L267.0 375.8 L267.4 372.9 L267.9 369.9 L268.4 367.0 L268.9 364.0 L269.4 361.1 L269.9 358.1 L270.4 355.2 L271.0 352.2 L271.5 349.3 L272.1 346.4 L272.7 343.5 L273.3 340.5 L273.9 337.6 L274.5 334.7 L275.1 331.8 L275.8 328.9 L276.4 326.0 L277.1 323.1 L277.8 320.2 L278.5 317.3 L279.2 314.4 L279.9 311.6 L280.7 308.7 L281.4 305.8 L282.2 302.9 L283.0 300.1 L283.8 297.2 L284.7 294.4 L285.5 291.5 L286.4 288.7 L287.3 285.9 L288.2 283.1 L289.1 280.2 L290.0 277.4 L291.0 274.6 L292.0 271.8 L293.0 269.0 L294.0 266.2 L295.1 263.5 L296.1 260.7 L297.2 257.9 L298.3 255.2 L299.5 252.4 L300.6 249.7 L301.8 246.9 L303.0 244.2 L304.2 241.5 L305.5 238.8 L306.8 236.1 L308.1 233.4 L309.5 230.8 L310.9 228.1 L312.3 225.5 L313.8 222.9 L315.3 220.4 L316.9 217.9 L318.6 215.4 L320.2 213.0 L322.0 210.6 L323.8 208.2 L325.7 205.9 L327.6 203.6 L329.6 201.4 L331.6 199.2 L333.7 197.1 L335.9 195.0 L338.1 193.0 L340.3 191.1 L342.7 189.2 L345.0 187.4 L347.5 185.6 L349.9 183.9 L352.4 182.3 L355.0 180.7 L357.6 179.2 L360.2 177.7 L362.9 176.3 L365.6 175.0 L368.3 173.7 L371.0 172.5 L373.8 171.4 L376.5 170.3 L379.3 169.2 L382.1 168.2 L384.9 167.3 L387.8 166.4 L390.6 165.6 L393.4 164.8 L396.3 164.1 L399.2 163.4 L402.0 162.8 L404.9 162.2 L407.8 161.6 L410.7 161.1 L413.6 160.6 L416.5 160.1 L419.4 159.7 L422.3 159.3 L425.3 158.9 L428.2 158.6 L431.1 158.2 L434.1 157.9 L437.0 157.6 L440.0 157.3 L443.0 157.0 L445.9 156.8 L448.9 156.5 L451.9 156.3 L454.9 156.0 L457.8 155.8 L460.8 155.6 L463.8 155.3 L466.8 155.1 L469.8 154.9 L472.8 154.8 L475.8 154.6 L478.8 154.4 L481.8 154.2 L484.8 154.1 L487.8 153.9 L490.8 153.8 L493.8 153.6 L496.8 153.5 L499.8 153.3 L502.8 153.2 L505.9 153.1 L508.9 153.0 L511.9 152.9 L514.9 152.7 L517.9 152.6 L520.8 152.5 L523.8 152.4 L526.8 152.4 L529.8 152.3 L532.8 152.2 L535.8 152.1 L538.8 152.0 L541.8 151.9 L544.8 151.9 L547.8 151.8 L550.8 151.7 L553.8 151.7 L556.7 151.6 L559.7 151.6 L562.7 151.5 L565.7 151.5 L568.7 151.4 L571.7 151.4 L574.6 151.3 L577.6 151.3 L580.6 151.2 L583.6 151.2 L586.6 151.1 L589.5 151.1 L592.5 151.1 L595.5 151.0 L598.5 151.0 L601.4 151.0 L604.4 150.9 L607.4 150.9 L610.4 150.9 L613.3 150.8 L616.3 150.8 L619.3 150.8 L622.3 150.8 L625.2 150.7 L628.2 150.7 L631.2 150.7 L634.1 150.6 L637.1 150.6 L640.1 150.6 L643.1 150.5 L646.0 150.5 L649.0 150.5 L652.0 150.4 L654.9 150.4 L657.9 150.4 L660.9 150.3 L663.8 150.3 L666.8 150.2 L669.8 150.2 L672.8 150.2 L675.7 150.1 L678.7 150.1 L681.7 150.1 L684.6 150.0 L687.6 150.0 L690.6 150.0 L693.5 150.0 L696.5 150.0 L699.5 149.9 L702.4 149.9 L705.4 149.9 L708.4 149.9 L711.3 149.9 L714.3 149.9 L717.3 150.0 L720.3 150.0 L723.2 150.0 L726.2 150.0 L729.2 150.1 L732.1 150.1 L735.1 150.2 L738.1 150.2 L741.0 150.3 L744.0 150.4 L747.0 150.5 L750.0 150.6 L752.9 150.7 L755.9 150.8 L758.9 150.9 L761.9 151.0 L764.8 151.2 L767.8 151.3 L770.8 151.5 L773.8 151.7 L776.7 151.9 L779.7 152.1 L782.7 152.3 L785.7 152.5 L788.7 152.7 L791.6 153.0 L794.6 153.2 L797.6 153.5 L800.6 153.8 L803.5 154.1 L806.5 154.4 L809.5 154.7 L812.5 155.1 L815.4 155.4 L818.4 155.8 L821.4 156.2 L824.3 156.6 L827.3 157.0 L830.3 157.4 L833.3 157.8 L836.2 158.3 L839.2 158.8 L842.1 159.2 L845.1 159.7 L848.1 160.3 L851.0 160.8 L854.0 161.3 L856.9 161.9 L859.9 162.5 L862.8 163.1 L865.8 163.6 L868.7 164.2 L871.6 164.9 L874.5 165.5 L877.5 166.1 L880.4 166.7 L883.3 167.4 L886.2 168.0 L889.0 168.7 L891.9 169.3 L894.8 170.0 L897.6 170.8 L900.5 171.5 L903.3 172.4 L906.1 173.2 L908.9 174.2 L911.7 175.2 L914.5 176.2 L917.2 177.3 L920.0 178.5 L922.7 179.7 L925.4 181.0 L928.1 182.4 L930.7 183.8 L933.3 185.2 L935.9 186.7 L938.5 188.3 L941.1 189.9 L943.6 191.5 L946.1 193.2 L948.5 195.0 L950.9 196.8 L953.3 198.6 L955.7 200.5 L958.0 202.4 L960.2 204.4 L962.5 206.4 L964.6 208.4 L966.8 210.5 L968.9 212.6 L971.0 214.7 L973.0 216.9 L975.0 219.1 L976.9 221.4 L978.8 223.6 L980.7 225.9 L982.6 228.3 L984.4 230.6 L986.2 233.0 L987.9 235.4 L989.6 237.8 L991.3 240.3 L993.0 242.7 L994.6 245.2 L996.2 247.7 L997.8 250.2 L999.4 252.8 L1000.9 255.3 L1002.4 257.9 L1003.9 260.5 L1005.4 263.1 L1006.8 265.7 L1008.2 268.3 L1009.6 270.9 L1011.0 273.5 L1012.4 276.1 L1013.7 278.8 L1015.1 281.4 L1016.4 284.1 L1017.7 286.8 L1018.9 289.4 L1020.2 292.1 L1021.4 294.8 L1022.7 297.5 L1023.9 300.2 L1025.1 302.9 L1026.2 305.7 L1027.4 308.4 L1028.5 311.1 L1029.6 313.9 L1030.7 316.6 L1031.8 319.4 L1032.9 322.2 L1034.0 324.9 L1035.0 327.7 L1036.0 330.5 L1037.0 333.3 L1038.0 336.1 L1039.0 338.9 L1040.0 341.7 L1040.9 344.5 L1041.9 347.3 L1042.8 350.2 L1043.7 353.0 L1044.6 355.8 L1045.5 358.7 L1046.4 361.5 L1047.3 364.4 L1048.1 367.2 L1048.9 370.1 L1049.8 373.0 L1050.6 375.8 L1051.4 378.7 L1052.2 381.6 L1053.0 384.5 L1053.7 387.3 L1054.5 390.2 L1055.2 393.1 L1056.0 396.0 L1056.7 398.9 L1057.4 401.8 L1058.1 404.7 L1058.8 407.6 L1059.5 410.6 L1060.2 413.5 L1060.9 416.4 L1061.5 419.3 L1062.2 422.2 L1062.8 425.2 L1063.5 428.1 L1064.1 431.0 L1064.7 434.0 L1065.3 436.9 L1065.9 439.8 L1066.5 442.8 L1067.1 445.7 L1067.7 448.6 L1068.3 451.6 L1068.9 454.5 L1069.4 457.5 L1070.0 460.4 L1070.6 463.3 L1071.1 466.3 L1071.7 469.2 L1072.2 472.2 L1072.7 475.1 L1073.3 478.1 L1073.8 481.0 L1074.3 483.9 L1074.8 486.9 L1075.3 489.8 L1075.9 492.8 L1076.4 495.7 L1076.9 498.7 L1077.4 501.6 L1077.9 504.6 L1078.3 507.5 L1078.8 510.5 L1079.3 513.4 L1079.8 516.3 L1080.2 519.3 L1080.7 522.2 L1081.2 525.2 L1081.6 528.1 L1082.1 531.1 L1082.5 534.0 L1083.0 537.0 L1083.4 539.9 L1083.8 542.9 L1084.3 545.8 L1084.7 548.8 L1085.1 551.7 L1085.5 554.7 L1086.0 557.6 L1086.4 560.6 L1086.8 563.5 L1087.2 566.5 L1087.6 569.4 L1088.0 572.4 L1088.4 575.3 L1088.8 578.3 L1089.2 581.2 L1089.5 584.2 L1089.9 587.1 L1090.3 590.1 L1090.7 593.0 L1091.0 596.0 L1091.4 598.9 L1091.8 601.9 L1092.1 604.8 L1092.5 607.8 L1092.8 610.7 L1093.2 613.7 L1093.5 616.6 L1093.8 619.6 L1094.2 622.5 L1094.5 625.5 L1094.8 628.4 L1095.2 631.4 L1095.5 634.4 L1095.8 637.3 L1096.1 640.3 L1096.4 643.2 L1096.8 646.2 L1097.1 649.1 L1097.4 652.1 L1097.7 655.1 L1098.0 658.0 L1098.3 661.0 L1098.6 663.9 L1098.8 666.9 L1099.1 669.8 L1099.4 672.8 L1099.7 675.8 L1100.0 678.7 L1100.2 681.7 L1100.5 684.6 L1100.8 687.6 L1101.1 690.6 L1101.3 693.5 L1101.6 696.5 L1101.8 699.5 L1102.1 702.4 L1102.4 705.4 L1102.6 708.3 L1102.9 711.3 L1103.1 714.3 L1103.3 717.2 L1103.6 720.2 L1103.8 723.2 L1104.1 726.1 L1104.3 729.1 L1104.5 732.1 L1104.8 735.0 L1105.0 738.0 L1105.2 741.0 L1105.4 743.9 L1105.7 746.9 L1105.9 749.9 L1106.1 752.8 L1106.3 755.8 L1106.5 758.8 L1106.7 761.8 L1106.9 764.7 L1107.1 767.7 L1107.4 770.7 L1107.6 773.6 L1107.8 776.6 L1108.0 779.6 L1108.1 782.6 L1108.3 785.5 L1108.5 788.5 L1108.7 791.5 L1108.9 794.5 L1109.1 797.5 L1109.3 800.4 L1109.5 803.4 L1109.7 806.4 L1109.8 809.4 L1110.0 812.3 L1110.2 815.3 L1110.4 818.3 L1110.6 821.3 L1110.7 824.3 L1110.9 827.3 L1111.1 830.2 L1111.2 833.2 L1111.4 836.2 L1111.6 839.2 L1111.7 842.2 L1111.9 845.2 L1112.1 848.1 L1112.2 851.1 L1112.4 854.1 L1112.6 857.1 L1112.7 860.1 L1112.9 863.1 L1113.0 866.1 L1113.2 869.1 L1113.3 872.1 L1113.5 875.0 L1113.6 878.0 L1113.8 881.0 L1113.9 884.0 L1114.1 887.0 L1114.2 890.0 L1114.4 893.0 L1114.5 896.0" stroke="#4672a5"/><path d="M226.7 897.6 L226.7 893.9 L226.8 895.3 L226.8 894.0 L226.8 893.5 L226.8 893.2 L226.8 891.2 L226.9 892.1 L226.9 891.1 L226.9 892.9 L226.9 890.9 L227.0 889.9 L227.0 889.5 L227.0 888.6 L227.0 887.8 L227.1 887.8 L227.1 888.0 L227.1 886.9 L227.1 887.3 L227.1 885.8 L227.2 885.5 L227.2 886.2 L227.2 884.9 L227.2 883.5 L227.3 883.2 L227.3 883.3 L227.3 883.9 L227.3 881.6 L227.4 881.1 L227.4 881.5 L227.4 879.5 L227.4 879.4 L227.4 879.9 L227.5 879.1 L227.5 878.2 L227.5 878.1 L227.5 875.4 L227.6 877.3 L227.6 875.2 L227.6 874.1 L227.6 875.2 L227.7 875.0 L227.7 873.5 L227.7 872.5 L227.7 872.8 L227.8 872.3 L227.8 872.9 L227.8 871.8 L227.8 870.9 L227.9 871.1 L227.9 869.5 L227.9 868.4 L227.9 869.1 L228.0 868.5 L228.0 867.4 L228.0 866.4 L228.0 866.7 L228.1 864.4 L228.1 866.0 L228.1 865.3 L228.1 863.1 L228.1 863.9 L228.2 862.5 L228.2 863.4 L228.2 860.7 L228.2 861.0 L228.3 861.8 L228.3 861.6 L228.3 858.5 L228.3 859.2 L228.4 859.3 L228.4 858.1 L228.4 859.3 L228.4 856.5 L228.5 857.2 L228.5 855.6 L228.5 857.0 L228.5 855.4 L228.6 854.5 L228.6 852.9 L228.6 855.1 L228.7 853.9 L228.7 853.3 L228.7 853.1 L228.7 851.9 L228.8 850.6 L228.8 850.0 L228.8 849.4 L228.8 850.6 L228.9 847.8 L228.9 848.0 L228.9 847.7 L228.9 847.6 L229.0 847.3 L229.0 845.4 L229.0 844.4 L229.0 845.3 L229.1 845.7 L229.1 844.8 L229.1 843.9 L229.1 842.9 L229.2 842.9 L229.2 841.9 L229.2 842.2 L229.2 840.4 L229.3 840.6 L229.3 839.9 L229.3 839.9 L229.4 839.1 L229.4 840.0 L229.4 839.1 L229.4 838.5 L229.5 835.2 L229.5 836.0 L229.5 835.2 L229.5 835.6 L229.6 833.1 L229.6 835.1 L229.6 834.5 L229.6 832.0 L229.7 831.8 L229.7 831.4 L229.7 831.5 L229.8 831.5 L229.8 832.0 L229.8 829.7 L229.8 830.0 L229.9 828.9 L229.9 829.7 L229.9 828.3 L229.9 828.3 L230.0 825.8 L230.0 826.0 L230.0 825.0 L230.1 826.3 L230.1 825.1 L230.1 823.8 L230.1 823.1 L230.2 823.3 L230.2 821.9 L230.2 821.1 L230.3 821.7 L230.3 822.4 L230.3 820.1 L230.3 819.3 L230.4 818.3 L230.4 817.6 L230.4 818.6 L230.4 818.3 L230.5 817.1 L230.5 816.8 L230.5 816.1 L230.6 815.6 L230.6 813.7 L230.6 814.1 L230.6 814.0 L230.7 812.7 L230.7 812.4 L230.7 811.6 L230.8 811.5 L230.8 811.9 L230.8 810.4 L230.8 810.0 L230.9 810.3 L230.9 809.6 L230.9 809.9 L231.0 806.4 L231.0 808.2 L231.0 806.6 L231.0 806.5 L231.1 806.5 L231.1 806.2 L231.1 805.6 L231.2 804.4 L231.2 805.0 L231.2 803.0 L231.3 802.6 L231.3 802.8 L231.3 801.2 L231.3 802.7 L231.4 801.3 L231.4 801.6 L231.4 799.4 L231.5 798.6 L231.5 798.5 L231.5 798.4 L231.5 796.8 L231.6 797.1 L231.6 796.2 L231.6 797.0 L231.7 794.6 L231.7 795.5 L231.7 793.6 L231.8 792.8 L231.8 792.5 L231.8 791.6 L231.8 792.1 L231.9 792.3 L231.9 791.0 L231.9 790.9 L232.0 791.1 L232.0 789.5 L232.0 788.9 L232.1 788.0 L232.1 786.4 L232.1 787.8 L232.2 785.2 L232.2 786.6 L232.2 785.5 L232.2 785.9 L232.3 784.4 L232.3 783.3 L232.3 783.7 L232.4 782.4 L232.4 782.2 L232.4 781.8 L232.5 781.1 L232.5 780.6 L232.5 779.5 L232.6 779.5 L232.6 777.5 L232.6 778.4 L232.6 777.1 L232.7 778.4 L232.7 778.0 L232.7 774.9 L232.8 776.0 L232.8 775.3 L232.8 774.0 L232.9 774.7 L232.9 773.4 L232.9 771.8 L233.0 772.5 L233.0 772.0 L233.0 771.7 L233.1 770.1 L233.1 771.0 L233.1 770.6 L233.1 768.5 L233.2 768.4 L233.2 768.3 L233.2 767.4 L233.3 768.7 L233.3 766.9 L233.3 765.4 L233.4 765.1 L233.4 765.1 L233.4 766.2 L233.5 763.9 L233.5 763.6 L233.5 763.4 L233.6 762.4 L233.6 763.5 L233.6 761.0 L233.7 761.4 L233.7 760.4 L233.7 760.3 L233.8 758.3 L233.8 760.1 L233.8 758.1 L233.9 757.7 L233.9 756.3 L233.9 756.0 L234.0 756.5 L234.0 756.3 L234.0 755.5 L234.1 755.4 L234.1 754.4 L234.1 753.3 L234.2 753.5 L234.2 752.7 L234.2 751.6 L234.3 751.8 L234.3 751.7 L234.3 750.3 L234.4 749.3 L234.4 749.6 L234.4 750.0 L234.5 747.8 L234.5 747.3 L234.5 746.8 L234.6 747.3 L234.6 744.3 L234.6 745.5 L234.7 745.7 L234.7 743.5 L234.7 744.8 L234.8 743.5 L234.8 742.1 L234.8 742.2 L234.9 740.3 L234.9 740.5 L234.9 741.9 L235.0 739.2 L235.0 740.8 L235.0 738.7 L235.1 739.1 L235.1 737.8 L235.1 735.6 L235.2 736.2 L235.2 736.3 L235.2 734.6 L235.3 733.9 L235.3 734.8 L235.3 733.4 L235.4 732.1 L235.4 732.3 L235.4 733.0 L235.5 731.4 L235.5 732.0 L235.6 731.9 L235.6 730.2 L235.6 728.7 L235.7 728.1 L235.7 728.5 L235.7 728.7 L235.8 727.7 L235.8 727.4 L235.8 726.0 L235.9 726.1 L235.9 724.9 L235.9 724.5 L236.0 723.2 L236.0 722.5 L236.0 722.8 L236.1 721.7 L236.1 721.3 L236.1 722.1 L236.2 720.9 L236.2 722.1 L236.3 720.7 L236.3 718.9 L236.3 719.5 L236.4 718.6 L236.4 717.2 L236.4 718.1 L236.5 716.1 L236.5 714.6 L236.5 716.3 L236.6 714.6 L236.6 715.7 L236.7 713.5 L236.7 712.5 L236.7 714.2 L236.8 711.5 L236.8 712.0 L236.8 712.5 L236.9 710.9 L236.9 710.2 L236.9 709.8 L237.0 709.8 L237.0 708.0 L237.1 708.6 L237.1 708.0 L237.1 708.6 L237.2 706.2 L237.2 705.2 L237.2 706.0 L237.3 704.5 L237.3 704.5 L237.3 703.9 L237.4 704.1 L237.4 702.1 L237.5 702.1 L237.5 700.0 L237.5 700.3 L237.6 701.7 L237.6 699.4 L237.6 698.9 L237.7 697.9 L237.7 698.8 L237.8 698.0 L237.8 696.3 L237.8 697.3 L237.9 696.4 L237.9 696.3 L237.9 694.6 L238.0 696.0 L238.0 694.4 L238.1 693.4 L238.1 692.5 L238.1 692.2 L238.2 692.6 L238.2 691.1 L238.2 691.7 L238.3 690.7 L238.3 690.8 L238.4 689.8 L238.4 688.6 L238.4 686.6 L238.5 687.8 L238.5 687.6 L238.6 686.6 L238.6 686.4 L238.6 685.0 L238.7 684.5 L238.7 683.6 L238.7 684.9 L238.8 683.4 L238.8 682.3 L238.9 681.1 L238.9 681.5 L238.9 682.2 L239.0 680.9 L239.0 679.4 L239.1 680.6 L239.1 680.0 L239.1 679.2 L239.2 678.5 L239.2 678.2 L239.3 677.2 L239.3 676.8 L239.3 675.0 L239.4 676.3 L239.4 674.8 L239.4 675.6 L239.5 671.9 L239.5 673.5 L239.6 673.2 L239.6 671.6 L239.6 671.7 L239.7 671.4 L239.7 670.7 L239.8 669.3 L239.8 669.1 L239.8 669.5 L239.9 669.1 L239.9 667.6 L240.0 667.1 L240.0 666.6 L240.0 666.8 L240.1 664.6 L240.1 663.8 L240.2 664.4 L240.2 662.9 L240.2 662.8 L240.3 662.8 L240.3 662.5 L240.4 660.8 L240.4 661.7 L240.4 659.1 L240.5 660.4 L240.5 658.2 L240.6 657.9 L240.6 658.9 L240.7 657.5 L240.7 656.7 L240.7 656.4 L240.8 656.6 L240.8 655.6 L240.9 655.1 L240.9 655.4 L240.9 653.5 L241.0 653.1 L241.0 652.5 L241.1 653.4 L241.1 652.7 L241.1 652.4 L241.2 650.8 L241.2 650.1 L241.3 650.4 L241.3 648.9 L241.4 649.3 L241.4 648.7 L241.4 647.0 L241.5 647.0 L241.5 646.4 L241.6 647.3 L241.6 647.0 L241.6 644.8 L241.7 644.3 L241.7 642.2 L241.8 643.4 L241.8 642.7 L241.9 641.3 L241.9 642.2 L241.9 639.8 L242.0 640.4 L242.0 640.1 L242.1 638.5 L242.1 639.6 L242.1 639.2 L242.2 636.7 L242.2 636.2 L242.3 637.2 L242.3 636.2 L242.4 634.7 L242.4 634.9 L242.4 634.5 L242.5 633.9 L242.5 634.2 L242.6 633.3 L242.6 633.8 L242.7 633.0 L242.7 631.9 L242.7 631.7 L242.8 631.3 L242.8 630.3 L242.9 628.2 L242.9 629.3 L243.0 628.2 L243.0 628.9 L243.0 627.1 L243.1 626.9 L243.1 626.2 L243.2 626.7 L243.2 625.0 L243.3 624.1 L243.3 624.0 L243.4 622.9 L243.4 622.8 L243.4 622.2 L243.5 621.8 L243.5 622.6 L243.6 620.2 L243.6 620.0 L243.7 619.3 L243.7 619.5 L243.7 617.4 L243.8 617.3 L243.8 617.3 L243.9 617.2 L243.9 616.2 L244.0 615.3 L244.0 614.4 L244.1 615.0 L244.1 615.2 L244.1 613.8 L244.2 613.1 L244.2 612.8 L244.3 611.1 L244.3 611.1 L244.4 610.6 L244.4 610.5 L244.5 609.7 L244.5 608.2 L244.5 609.6 L244.6 609.5 L244.6 607.4 L244.7 607.4 L244.7 606.7 L244.8 606.6 L244.8 604.2 L244.9 606.2 L244.9 604.0 L245.0 604.8 L245.0 603.3 L245.0 602.4 L245.1 602.1 L245.1 602.4 L245.2 600.4 L245.2 600.3 L245.3 599.6 L245.3 598.1 L245.4 600.0 L245.4 598.9 L245.5 597.8 L245.5 598.2 L245.5 596.0 L245.6 596.2 L245.6 597.1 L245.7 595.9 L245.7 593.0 L245.8 592.5 L245.8 592.7 L245.9 593.8 L245.9 592.1 L246.0 591.7 L246.0 591.9 L246.1 590.1 L246.1 590.5 L246.1 590.4 L246.2 589.6 L246.2 589.0 L246.3 587.7 L246.3 588.0 L246.4 586.7 L246.4 587.6 L246.5 587.6 L246.5 584.9 L246.6 583.3 L246.6 584.0 L246.7 584.1 L246.7 584.1 L246.8 583.6 L246.8 581.6 L246.8 581.0 L246.9 582.1 L246.9 579.7 L247.0 580.9 L247.0 579.3 L247.1 579.6 L247.1 579.0 L247.2 578.5 L247.2 578.0 L247.3 576.0 L247.3 576.5 L247.4 575.7 L247.4 575.4 L247.5 575.6 L247.5 573.9 L247.6 573.0 L247.6 572.5 L247.7 572.3 L247.7 572.6 L247.7 570.8 L247.8 571.8 L247.8 570.6 L247.9 569.6 L247.9 568.2 L248.0 568.9 L248.0 568.7 L248.1 566.2 L248.1 568.1 L248.2 567.9 L248.2 566.3 L248.3 565.9 L248.3 566.6 L248.4 565.4 L248.4 563.2 L248.5 563.3 L248.5 562.7 L248.6 562.1 L248.6 560.1 L248.7 561.8 L248.7 560.1 L248.8 560.2 L248.8 559.5 L248.9 559.7 L248.9 558.3 L249.0 557.3 L249.0 557.8 L249.1 558.0 L249.1 556.1 L249.2 556.9 L249.2 555.5 L249.3 554.3 L249.3 555.4 L249.4 553.0 L249.4 553.9 L249.5 552.2 L249.5 552.4 L249.6 550.5 L249.6 550.3 L249.7 551.3 L249.7 550.0 L249.8 549.4 L249.8 548.5 L249.9 548.6 L249.9 546.6 L250.0 546.3 L250.0 546.5 L250.1 545.4 L250.1 545.0 L250.2 545.0 L250.2 544.4 L250.3 543.8 L250.3 544.8 L250.4 543.7 L250.4 543.3 L250.5 541.8 L250.5 540.9 L250.6 539.6 L250.6 539.9 L250.7 538.1 L250.7 538.7 L250.8 539.2 L250.8 539.3 L250.9 538.3 L250.9 536.3 L251.0 536.8 L251.0 535.3 L251.1 536.0 L251.1 534.7 L251.2 535.0 L251.2 535.4 L251.3 534.0 L251.3 534.3 L251.4 532.3 L251.4 531.3 L251.5 532.1 L251.5 531.9 L251.6 529.5 L251.6 529.5 L251.7 527.8 L251.7 528.2 L251.8 528.6 L251.8 527.2 L251.9 526.3 L252.0 525.1 L252.0 526.0 L252.1 525.8 L252.1 525.1 L252.2 524.3 L252.2 522.5 L252.3 524.4 L252.3 522.4 L252.4 521.8 L252.4 522.0 L252.5 519.3 L252.5 520.3 L252.6 519.7 L252.6 519.6 L252.7 519.8 L252.7 518.6 L252.8 516.2 L252.8 516.8 L252.9 516.7 L253.0 516.2 L253.0 514.5 L253.1 513.6 L253.1 514.9 L253.2 514.2 L253.2 513.3 L253.3 511.4 L253.3 513.7 L253.4 510.2 L253.4 510.9 L253.5 512.3 L253.5 510.0 L253.6 509.8 L253.6 508.1 L253.7 509.6 L253.8 507.0 L253.8 507.7 L253.9 507.0 L253.9 505.6 L254.0 506.6 L254.0 504.2 L254.1 504.2 L254.1 504.2 L254.2 503.4 L254.2 503.6 L254.3 503.4 L254.3 501.9 L254.4 501.1 L254.5 500.6 L254.5 500.2 L254.6 500.6 L254.6 499.3 L254.7 499.2 L254.7 498.3 L254.8 497.2 L254.8 498.0 L254.9 495.9 L254.9 496.2 L255.0 496.9 L255.1 494.3 L255.1 494.6 L255.2 492.8 L255.2 493.2 L255.3 491.8 L255.3 492.2 L255.4 491.5 L255.4 491.5 L255.5 492.2 L255.5 490.6 L255.6 490.3 L255.7 489.2 L255.7 488.6 L255.8 487.6 L255.8 486.2 L255.9 487.2 L255.9 487.9 L256.0 486.5 L256.0 485.1 L256.1 486.3 L256.2 484.1 L256.2 483.5 L256.3 482.4 L256.3 482.1 L256.4 482.2 L256.4 483.4 L256.5 481.1 L256.6 479.9 L256.6 479.7 L256.7 479.5 L256.7 477.8 L256.8 478.7 L256.8 478.6 L256.9 477.8 L256.9 477.5 L257.0 475.4 L257.1 474.6 L257.1 476.4 L257.2 475.8 L257.2 473.1 L257.3 474.0 L257.3 473.3 L257.4 473.2 L257.5 472.4 L257.5 471.3 L257.6 471.3 L257.6 470.7 L257.7 470.0 L257.7 468.1 L257.8 467.4 L257.9 467.9 L257.9 466.7 L258.0 467.6 L258.0 467.5 L258.1 466.6 L258.1 465.5 L258.2 465.4 L258.3 465.7 L258.3 463.7 L258.4 464.4 L258.4 463.7 L258.5 462.8 L258.5 463.3 L258.6 461.0 L258.7 461.8 L258.7 459.8 L258.8 459.4 L258.8 458.6 L258.9 459.3 L259.0 457.6 L259.0 457.9 L259.1 456.4 L259.1 457.6 L259.2 457.7 L259.2 455.9 L259.3 456.5 L259.4 455.1 L259.4 455.7 L259.5 453.7 L259.5 451.8 L259.6 453.7 L259.7 451.9 L259.7 450.7 L259.8 450.4 L259.8 449.1 L259.9 449.8 L260.0 448.5 L260.0 450.0 L260.1 448.8 L260.1 446.4 L260.2 446.0 L260.2 446.3 L260.3 444.6 L260.4 445.6 L260.4 445.1 L260.5 444.0 L260.5 443.6 L260.6 443.9 L260.7 444.1 L260.7 443.7 L260.8 442.0 L260.8 442.1 L260.9 440.3 L261.0 440.7 L261.0 439.1 L261.1 439.9 L261.1 437.8 L261.2 437.5 L261.3 437.7 L261.3 437.6 L261.4 435.5 L261.4 435.7 L261.5 435.7 L261.6 435.2 L261.6 433.9 L261.7 434.1 L261.7 433.3 L261.8 434.1 L261.9 432.9 L261.9 430.8 L262.0 429.8 L262.1 430.9 L262.1 431.2 L262.2 429.9 L262.2 429.9 L262.3 428.3 L262.4 427.1 L262.4 428.3 L262.5 427.2 L262.5 427.1 L262.6 425.0 L262.7 425.7 L262.7 424.5 L262.8 425.1 L262.9 423.5 L262.9 422.9 L263.0 422.4 L263.0 423.4 L263.1 421.9 L263.2 420.7 L263.2 420.0 L263.3 419.4 L263.4 420.9 L263.4 417.8 L263.5 418.0 L263.6 418.7 L263.6 418.6 L263.7 417.0 L263.8 417.2 L263.8 416.7 L263.9 416.3 L263.9 415.0 L264.0 415.8 L264.1 414.1 L264.1 414.7 L264.2 412.0 L264.3 413.1 L264.3 410.8 L264.4 410.1 L264.5 411.2 L264.5 409.6 L264.6 410.1 L264.7 408.4 L264.7 410.0 L264.8 408.2 L264.9 406.8 L264.9 407.3 L265.0 407.3 L265.1 405.5 L265.2 406.0 L265.2 406.6 L265.3 405.2 L265.4 404.0 L265.4 403.0 L265.5 403.4 L265.6 401.2 L265.6 400.2 L265.7 400.8 L265.8 400.0 L265.8 401.7 L265.9 399.9 L266.0 398.5 L266.1 397.8 L266.1 398.6 L266.2 397.0 L266.3 396.7 L266.4 396.6 L266.4 396.2 L266.5 395.7 L266.6 395.2 L266.6 395.6 L266.7 395.4 L266.8 392.2 L266.9 394.5 L266.9 392.6 L267.0 392.9 L267.1 390.8 L267.2 391.2 L267.2 390.5 L267.3 389.9 L267.4 390.0 L267.5 389.3 L267.6 387.5 L267.6 387.7 L267.7 387.8 L267.8 387.3 L267.9 385.9 L267.9 385.4 L268.0 385.0 L268.1 383.7 L268.2 383.1 L268.3 384.8 L268.4 382.7 L268.4 382.6 L268.5 381.4 L268.6 382.5 L268.7 382.4 L268.8 380.3 L268.8 380.3 L268.9 378.8 L269.0 380.3 L269.1 379.1 L269.2 377.2 L269.3 378.3 L269.3 377.1 L269.4 376.6 L269.5 376.0 L269.6 374.7 L269.7 374.3 L269.8 374.7 L269.9 373.6 L270.0 372.4 L270.0 374.2 L270.1 371.9 L270.2 371.1 L270.3 370.5 L270.4 371.1 L270.5 370.8 L270.6 369.7 L270.7 369.7 L270.8 367.2 L270.8 367.6 L270.9 367.0 L271.0 366.9 L271.1 366.8 L271.2 364.2 L271.3 366.9 L271.4 364.1 L271.5 364.6 L271.6 364.4 L271.7 363.9 L271.8 362.9 L271.9 360.5 L272.0 360.8 L272.1 361.8 L272.2 359.9 L272.3 359.3 L272.4 358.0 L272.5 360.0 L272.6 359.0 L272.7 357.3 L272.8 357.4 L272.9 356.9 L273.0 355.6 L273.1 355.7 L273.2 355.6 L273.3 355.3 L273.4 355.4 L273.5 353.9 L273.6 353.0 L273.7 353.1 L273.8 351.8 L273.9 350.8 L274.0 352.2 L274.1 350.4 L274.2 350.3 L274.3 350.2 L274.4 348.3 L274.6 349.2 L274.7 348.5 L274.8 347.6 L274.9 347.4 L275.0 346.0 L275.1 344.5 L275.2 345.3 L275.3 344.3 L275.4 345.2 L275.6 344.2 L275.7 343.1 L275.8 343.0 L275.9 343.6 L276.0 342.9 L276.1 341.7 L276.2 341.3 L276.4 340.2 L276.5 339.8 L276.6 339.8 L276.7 338.8 L276.8 338.6 L277.0 336.9 L277.1 336.0 L277.2 335.4 L277.3 335.9 L277.4 336.8 L277.6 336.2 L277.7 333.9 L277.8 333.0 L277.9 334.3 L278.1 333.6 L278.2 331.6 L278.3 333.0 L278.4 331.8 L278.6 332.2 L278.7 330.9 L278.8 330.8 L278.9 329.8 L279.1 328.3 L279.2 328.4 L279.3 327.5 L279.5 328.2 L279.6 326.2 L279.7 325.3 L279.9 326.5 L280.0 326.4 L280.1 326.1 L280.3 325.3 L280.4 322.7 L280.5 322.9 L280.7 322.5 L280.8 322.4 L280.9 320.3 L281.1 321.4 L281.2 321.1 L281.3 319.6 L281.5 319.9 L281.6 320.3 L281.8 318.8 L281.9 319.1 L282.0 318.6 L282.2 317.6 L282.3 317.1 L282.5 315.9 L282.6 316.7 L282.8 314.8 L282.9 314.1 L283.0 314.8 L283.2 313.1 L283.3 313.5 L283.5 313.5 L283.6 312.2 L283.8 311.7 L283.9 311.9 L284.1 311.2 L284.2 308.9 L284.4 308.5 L284.5 310.1 L284.7 308.9 L284.8 306.4 L285.0 306.5 L285.1 307.1 L285.3 305.7 L285.4 306.4 L285.6 305.6 L285.7 305.4 L285.9 303.6 L286.1 304.5 L286.2 305.0 L286.4 302.3 L286.5 303.5 L286.7 302.7 L286.8 301.9 L287.0 300.9 L287.2 299.5 L287.3 299.2 L287.5 300.0 L287.7 299.7 L287.8 299.4 L288.0 298.6 L288.2 298.1 L288.3 296.5 L288.5 295.4 L288.7 296.0 L288.8 295.7 L289.0 294.9 L289.2 293.1 L289.3 293.4 L289.5 292.1 L289.7 292.9 L289.9 291.4 L290.0 291.6 L290.2 291.5 L290.4 290.9 L290.6 291.3 L290.8 288.9 L290.9 287.6 L291.1 289.5 L291.3 289.3 L291.5 288.9 L291.7 287.4 L291.8 287.1 L292.0 286.3 L292.2 284.7 L292.4 284.7 L292.6 285.1 L292.8 283.7 L293.0 285.2 L293.2 281.9 L293.4 282.3 L293.6 283.0 L293.8 281.2 L294.0 280.2 L294.2 279.5 L294.4 279.6 L294.6 280.8 L294.8 279.4 L295.0 279.0 L295.2 277.7 L295.4 278.3 L295.6 277.2 L295.8 275.9 L296.0 275.7 L296.2 275.8 L296.4 276.0 L296.6 274.5 L296.8 274.5 L297.1 275.2 L297.3 272.4 L297.5 271.6 L297.7 272.9 L297.9 271.9 L298.1 271.0 L298.4 270.8 L298.6 269.8 L298.8 270.0 L299.0 268.8 L299.3 269.2 L299.5 267.1 L299.7 266.9 L300.0 267.2 L300.2 266.2 L300.4 266.7 L300.7 265.6 L300.9 264.7 L301.1 264.8 L301.4 263.7 L301.6 262.4 L301.9 262.2 L302.1 262.0 L302.3 261.8 L302.6 261.7 L302.8 261.9 L303.1 261.1 L303.3 261.6 L303.6 260.7 L303.8 259.1 L304.1 260.1 L304.3 259.2 L304.6 257.4 L304.9 257.5 L305.1 257.7 L305.4 256.5 L305.6 256.7 L305.9 255.7 L306.2 255.4 L306.4 254.1 L306.7 254.2 L307.0 253.2 L307.2 253.5 L307.5 251.1 L307.8 252.3 L308.1 252.6 L308.3 251.5 L308.6 250.6 L308.9 250.6 L309.2 249.0 L309.5 248.5 L309.7 248.5 L310.0 248.2 L310.3 248.6 L310.6 246.6 L310.9 247.7 L311.2 245.2 L311.5 245.3 L311.8 245.5 L312.1 246.0 L312.4 244.1 L312.7 242.5 L313.0 244.0 L313.3 243.2 L313.6 241.9 L313.9 241.5 L314.2 241.3 L314.5 241.5 L314.8 241.5 L315.1 239.4 L315.4 241.7 L315.8 239.6 L316.1 238.9 L316.4 239.3 L316.7 238.4 L317.0 239.5 L317.4 238.4 L317.7 236.8 L318.0 236.3 L318.3 235.8 L318.7 235.5 L319.0 235.9 L319.3 234.4 L319.7 235.8 L320.0 234.0 L320.4 233.5 L320.7 234.0 L321.0 231.2 L321.4 231.6 L321.7 232.5 L322.1 231.6 L322.4 231.1 L322.8 231.1 L323.1 229.9 L323.5 229.8 L323.8 228.4 L324.2 227.6 L324.6 229.7 L324.9 227.6 L325.3 227.4 L325.6 228.7 L326.0 228.0 L326.4 226.3 L326.8 225.9 L327.1 225.9 L327.5 224.8 L327.9 225.7 L328.3 225.0 L328.6 224.6 L329.0 224.7 L329.4 224.3 L329.8 224.8 L330.2 224.2 L330.6 221.2 L331.0 222.9 L331.3 221.0 L331.7 220.4 L332.1 221.7 L332.5 220.2 L332.9 220.2 L333.3 220.9 L333.7 219.2 L334.2 218.7 L334.6 219.3 L335.0 219.7 L335.4 218.8 L335.8 216.8 L336.2 217.1 L336.6 217.2 L337.1 218.5 L337.5 217.4 L337.9 217.0 L338.3 217.0 L338.7 215.4 L339.2 215.7 L339.6 215.4 L340.0 213.9 L340.5 214.4 L340.9 214.5 L341.3 212.9 L341.8 214.1 L342.2 213.7 L342.7 213.7 L343.1 211.9 L343.6 212.3 L344.0 213.1 L344.4 212.3 L344.9 210.7 L345.3 211.2 L345.8 211.9 L346.3 210.4 L346.7 210.5 L347.2 211.4 L347.6 209.6 L348.1 209.2 L348.5 208.2 L349.0 208.2 L349.5 209.7 L349.9 208.1 L350.4 207.0 L350.9 206.9 L351.3 207.4 L351.8 207.7 L352.3 206.2 L352.8 207.2 L353.2 205.9 L353.7 206.3 L354.2 206.2 L354.7 206.0 L355.1 204.9 L355.6 204.9 L356.1 205.2 L356.6 203.5 L357.1 204.4 L357.5 204.4 L358.0 204.6 L358.5 203.5 L359.0 203.2 L359.5 203.2 L360.0 202.2 L360.5 202.4 L360.9 202.7 L361.4 202.4 L361.9 201.1 L362.4 201.4 L362.9 199.8 L363.4 201.9 L363.9 200.6 L364.4 201.0 L364.9 199.7 L365.4 200.3 L365.9 200.5 L366.4 200.7 L366.9 198.6 L367.4 200.1 L367.9 199.1 L368.4 198.4 L368.9 199.2 L369.4 198.4 L369.9 198.2 L370.4 197.7 L370.9 198.2 L371.4 197.9 L371.9 197.5 L372.4 196.7 L372.9 196.8 L373.4 197.4 L373.9 197.9 L374.4 196.7 L374.9 197.6 L375.5 196.3 L376.0 195.3 L376.5 196.4 L377.0 195.0 L377.5 195.9 L378.0 196.3 L378.5 195.0 L379.0 195.0 L379.5 196.5 L380.0 194.9 L380.5 194.7 L381.1 195.0 L381.6 194.1 L382.1 194.0 L382.6 194.2 L383.1 192.1 L383.6 194.7 L384.1 192.5 L384.6 192.4 L385.1 193.5 L385.7 192.9 L386.2 191.7 L386.7 192.8 L387.2 191.5 L387.7 191.7 L388.2 190.9 L388.7 191.3 L389.2 192.2 L389.8 191.8 L390.3 191.8 L390.8 192.1 L391.3 191.2 L391.8 190.6 L392.3 190.8 L392.8 192.2 L393.4 190.7 L393.9 190.8 L394.4 190.4 L394.9 190.5 L395.4 190.5 L395.9 190.0 L396.5 189.8 L397.0 189.1 L397.5 189.0 L398.0 189.8 L398.5 190.0 L399.0 190.0 L399.6 189.2 L400.1 188.4 L400.6 189.4 L401.1 189.3 L401.6 187.5 L402.1 189.2 L402.7 188.9 L403.2 189.6 L403.7 187.3 L404.2 187.1 L404.7 188.6 L405.3 186.4 L405.8 187.2 L406.3 186.8 L406.8 186.7 L407.3 185.9 L407.9 187.1 L408.4 188.0 L408.9 187.5 L409.4 187.4 L409.9 186.6 L410.5 188.0 L411.0 187.1 L411.5 187.4 L412.0 185.3 L412.5 186.7 L413.1 185.4 L413.6 186.5 L414.1 186.3 L414.6 185.1 L415.1 186.1 L415.7 186.8 L416.2 186.2 L416.7 186.1 L417.2 184.9 L417.8 185.0 L418.3 184.5 L418.8 185.4 L419.3 186.2 L419.8 185.5 L420.4 185.1 L420.9 184.1 L421.4 185.3 L421.9 184.6 L422.5 183.2 L423.0 183.3 L423.5 184.3 L424.0 183.8 L424.6 185.8 L425.1 184.4 L425.6 183.5 L426.1 183.8 L426.7 185.4 L427.2 183.3 L427.7 184.6 L428.2 184.3 L428.8 185.0 L429.3 184.2 L429.8 183.4 L430.3 184.1 L430.9 183.6 L431.4 184.3 L431.9 183.4 L432.5 185.0 L433.0 183.2 L433.5 183.6 L434.0 182.7 L434.6 183.2 L435.1 183.1 L435.6 183.1 L436.1 183.7 L436.7 182.5 L437.2 182.1 L437.7 183.6 L438.3 182.5 L438.8 182.1 L439.3 183.5 L439.8 183.1 L440.4 180.9 L440.9 182.1 L441.4 183.0 L442.0 183.0 L442.5 181.8 L443.0 183.4 L443.5 181.5 L444.1 181.9 L444.6 182.1 L445.1 182.0 L445.7 182.6 L446.2 182.7 L446.7 181.8 L447.3 182.9 L447.8 181.2 L448.3 181.5 L448.8 183.0 L449.4 181.7 L449.9 182.4 L450.4 181.2 L451.0 181.2 L451.5 181.3 L452.0 181.5 L452.6 181.0 L453.1 181.3 L453.6 181.8 L454.2 182.1 L454.7 181.2 L455.2 181.6 L455.8 181.8 L456.3 180.1 L456.8 179.7 L457.4 182.2 L457.9 181.9 L458.4 180.9 L458.9 181.1 L459.5 180.0 L460.0 179.6 L460.5 180.9 L461.1 179.4 L461.6 181.3 L462.1 180.0 L462.7 180.7 L463.2 182.0 L463.7 181.9 L464.3 180.2 L464.8 181.2 L465.3 179.5 L465.9 179.8 L466.4 180.5 L467.0 181.3 L467.5 179.7 L468.0 180.6 L468.6 180.2 L469.1 179.1 L469.6 179.9 L470.2 181.2 L470.7 179.9 L471.2 180.3 L471.8 180.5 L472.3 179.3 L472.8 180.8 L473.4 181.0 L473.9 181.0 L474.4 180.8 L475.0 179.3 L475.5 179.2 L476.0 179.0 L476.6 178.9 L477.1 178.9 L477.7 180.3 L478.2 180.7 L478.7 179.0 L479.3 180.1 L479.8 178.4 L480.3 179.1 L480.9 178.5 L481.4 178.0 L481.9 179.3 L482.5 179.3 L483.0 178.9 L483.6 178.8 L484.1 178.4 L484.6 179.0 L485.2 178.6 L485.7 179.3 L486.2 178.1 L486.8 179.2 L487.3 179.4 L487.8 180.0 L488.4 179.8 L488.9 179.1 L489.5 178.4 L490.0 177.4 L490.5 178.8 L491.1 180.0 L491.6 180.1 L492.2 177.2 L492.7 178.2 L493.2 178.5 L493.8 177.9 L494.3 178.8 L494.8 178.7 L495.4 178.2 L495.9 178.6 L496.5 177.3 L497.0 177.8 L497.5 177.8 L498.1 179.2 L498.6 177.2 L499.1 178.3 L499.7 179.1 L500.2 178.4 L500.8 179.1 L501.3 177.9 L501.8 178.7 L502.4 179.1 L502.9 179.9 L503.5 178.9 L504.0 179.5 L504.5 178.3 L505.1 178.4 L505.6 179.5 L506.2 178.7 L506.7 179.4 L507.2 178.8 L507.8 179.8 L508.3 179.8 L508.9 177.5 L509.4 179.6 L509.9 178.5 L510.5 178.5 L511.0 178.0 L511.6 178.7 L512.1 177.2 L512.6 177.5 L513.2 177.4 L513.7 178.2 L514.2 178.7 L514.8 178.6 L515.3 178.3 L515.9 177.5 L516.4 176.5 L516.9 178.3 L517.5 178.0 L518.0 178.2 L518.6 179.0 L519.1 177.7 L519.7 177.7 L520.2 176.2 L520.7 178.3 L521.3 177.8 L521.8 177.2 L522.4 178.1 L522.9 176.9 L523.4 177.3 L524.0 179.3 L524.5 178.3 L525.1 178.5 L525.6 178.3 L526.1 178.2 L526.7 177.9 L527.2 179.3 L527.8 177.6 L528.3 178.2 L528.8 177.5 L529.4 177.4 L529.9 176.0 L530.5 176.1 L531.0 178.8 L531.5 178.8 L532.1 177.2 L532.6 177.5 L533.2 178.0 L533.7 176.8 L534.2 179.0 L534.8 176.7 L535.3 176.9 L535.9 175.9 L536.4 178.7 L537.0 177.5 L537.5 178.8 L538.0 176.7 L538.6 177.7 L539.1 177.5 L539.7 177.6 L540.2 179.0 L540.7 179.0 L541.3 178.5 L541.8 177.1 L542.4 178.1 L542.9 178.5 L543.4 177.8 L544.0 177.8 L544.5 177.7 L545.1 176.6 L545.6 177.5 L546.1 178.6 L546.7 176.5 L547.2 177.4 L547.8 178.0 L548.3 176.2 L548.9 177.2 L549.4 175.9 L549.9 176.8 L550.5 176.1 L551.0 176.5 L551.6 176.9 L552.1 177.0 L552.6 177.1 L553.2 175.6 L553.7 178.5 L554.3 177.0 L554.8 176.3 L555.3 176.7 L555.9 177.4 L556.4 176.4 L557.0 176.8 L557.5 176.8 L558.1 177.6 L558.6 176.6 L559.1 177.5 L559.7 177.4 L560.2 177.0 L560.8 178.1 L561.3 177.1 L561.8 176.2 L562.4 177.4 L562.9 177.2 L563.5 177.1 L564.0 177.3 L564.5 178.7 L565.1 177.3 L565.6 177.4 L566.2 176.9 L566.7 178.1 L567.2 177.0 L567.8 176.4 L568.3 176.1 L568.9 177.5 L569.4 177.6 L569.9 175.8 L570.5 176.4 L571.0 177.5 L571.6 177.8 L572.1 175.9 L572.6 176.7 L573.2 177.7 L573.7 176.6 L574.3 176.6 L574.8 176.5 L575.3 175.9 L575.9 177.0 L576.4 177.2 L577.0 175.8 L577.5 177.0 L578.0 177.8 L578.6 177.1 L579.1 177.7 L579.7 176.5 L580.2 178.0 L580.7 176.3 L581.3 178.4 L581.8 176.5 L582.4 176.3 L582.9 176.2 L583.4 176.5 L584.0 176.5 L584.5 176.3 L585.1 176.6 L585.6 177.4 L586.1 177.5 L586.7 176.6 L587.2 177.8 L587.8 176.0 L588.3 176.0 L588.8 175.9 L589.4 177.3 L589.9 175.5 L590.5 175.7 L591.0 177.8 L591.5 178.1 L592.1 177.8 L592.6 175.6 L593.2 176.7 L593.7 177.4 L594.2 176.8 L594.8 175.4 L595.3 176.4 L595.8 175.3 L596.4 175.7 L596.9 178.3 L597.5 177.2 L598.0 175.5 L598.5 175.5 L599.1 177.0 L599.6 176.2 L600.2 177.1 L600.7 176.1 L601.2 176.5 L601.8 176.8 L602.3 175.8 L602.8 175.1 L603.4 175.6 L603.9 176.0 L604.5 176.4 L605.0 176.5 L605.5 176.5 L606.1 177.0 L606.6 175.8 L607.1 177.7 L607.7 178.1 L608.2 176.8 L608.8 176.7 L609.3 177.5 L609.8 177.0 L610.4 176.6 L610.9 176.3 L611.4 175.9 L612.0 175.5 L612.5 177.0 L613.1 177.4 L613.6 175.6 L614.1 176.4 L614.7 176.6 L615.2 176.1 L615.7 175.8 L616.3 176.1 L616.8 174.8 L617.4 176.3 L617.9 176.1 L618.4 178.0 L619.0 177.1 L619.5 176.1 L620.0 176.3 L620.6 177.7 L621.1 177.6 L621.6 176.5 L622.2 176.2 L622.7 175.2 L623.3 176.0 L623.8 176.2 L624.3 175.7 L624.9 177.7 L625.4 174.8 L625.9 176.2 L626.5 176.6 L627.0 176.6 L627.5 177.6 L628.1 175.1 L628.6 175.6 L629.2 176.3 L629.7 176.3 L630.2 175.9 L630.8 175.6 L631.3 177.0 L631.8 175.3 L632.4 175.7 L632.9 177.3 L633.4 177.5 L634.0 176.9 L634.5 175.5 L635.1 175.5 L635.6 175.4 L636.1 175.2 L636.7 175.8 L637.2 177.1 L637.7 176.3 L638.3 175.5 L638.8 175.5 L639.3 175.1 L639.9 177.0 L640.4 174.5 L641.0 176.3 L641.5 174.9 L642.0 175.2 L642.6 174.8 L643.1 176.8 L643.6 176.0 L644.2 177.6 L644.7 175.2 L645.2 175.1 L645.8 176.5 L646.3 176.4 L646.8 175.8 L647.4 174.4 L647.9 177.1 L648.4 176.4 L649.0 176.3 L649.5 175.5 L650.1 176.5 L650.6 175.5 L651.1 176.0 L651.7 175.8 L652.2 176.9 L652.7 175.5 L653.3 175.6 L653.8 176.8 L654.3 176.1 L654.9 175.9 L655.4 175.7 L655.9 176.6 L656.5 175.3 L657.0 176.2 L657.5 177.5 L658.1 176.2 L658.6 175.2 L659.2 174.9 L659.7 175.9 L660.2 174.8 L660.8 174.5 L661.3 175.2 L661.8 174.9 L662.4 176.5 L662.9 174.6 L663.4 177.1 L664.0 175.2 L664.5 175.9 L665.0 176.3 L665.6 175.9 L666.1 176.3 L666.6 175.0 L667.2 174.2 L667.7 175.6 L668.2 174.4 L668.8 175.3 L669.3 176.5 L669.8 175.6 L670.4 175.2 L670.9 174.8 L671.4 175.5 L672.0 175.6 L672.5 174.4 L673.1 175.9 L673.6 174.8 L674.1 175.9 L674.7 175.3 L675.2 176.5 L675.7 176.4 L676.3 175.7 L676.8 175.6 L677.3 176.0 L677.9 176.8 L678.4 176.5 L678.9 175.8 L679.5 175.9 L680.0 176.9 L680.5 174.4 L681.1 176.1 L681.6 175.0 L682.1 176.8 L682.7 175.3 L683.2 175.6 L683.7 174.8 L684.3 175.7 L684.8 176.3 L685.3 177.0 L685.9 174.7 L686.4 175.3 L686.9 177.3 L687.5 176.5 L688.0 175.7 L688.5 176.1 L689.1 174.1 L689.6 177.0 L690.2 175.8 L690.7 174.6 L691.2 176.6 L691.8 175.2 L692.3 174.9 L692.8 176.1 L693.4 176.0 L693.9 175.4 L694.4 175.7 L695.0 174.6 L695.5 174.6 L696.0 176.4 L696.6 176.8 L697.1 176.1 L697.6 176.0 L698.2 175.4 L698.7 175.6 L699.2 175.0 L699.8 177.1 L700.3 175.3 L700.8 176.1 L701.4 175.7 L701.9 174.6 L702.4 177.3 L703.0 175.5 L703.5 175.1 L704.0 175.9 L704.6 175.0 L705.1 175.8 L705.6 175.0 L706.2 176.2 L706.7 175.8 L707.2 174.7 L707.8 176.6 L708.3 175.9 L708.8 174.9 L709.4 176.1 L709.9 176.1 L710.4 177.3 L711.0 175.1 L711.5 176.5 L712.1 175.8 L712.6 176.3 L713.1 175.6 L713.7 175.8 L714.2 176.2 L714.7 174.9 L715.3 174.3 L715.8 175.9 L716.3 175.5 L716.9 176.0 L717.4 176.4 L717.9 175.7 L718.5 176.9 L719.0 175.9 L719.5 176.0 L720.1 176.6 L720.6 176.4 L721.1 175.9 L721.7 176.1 L722.2 175.4 L722.7 175.5 L723.3 176.1 L723.8 176.6 L724.3 175.7 L724.9 176.7 L725.4 177.6 L725.9 177.6 L726.5 176.1 L727.0 176.9 L727.5 176.6 L728.1 176.7 L728.6 176.8 L729.1 176.5 L729.7 176.8 L730.2 176.3 L730.7 175.9 L731.3 176.4 L731.8 176.6 L732.3 177.2 L732.9 176.5 L733.4 176.8 L734.0 177.4 L734.5 175.5 L735.0 176.0 L735.6 176.7 L736.1 176.3 L736.6 175.5 L737.2 177.1 L737.7 176.2 L738.2 175.5 L738.8 177.8 L739.3 175.3 L739.8 176.3 L740.4 175.8 L740.9 176.5 L741.4 176.8 L742.0 175.7 L742.5 176.3 L743.0 176.3 L743.6 175.6 L744.1 177.4 L744.6 176.6 L745.2 176.3 L745.7 176.0 L746.2 176.2 L746.8 176.6 L747.3 176.2 L747.8 177.6 L748.4 174.9 L748.9 175.0 L749.5 176.4 L750.0 175.2 L750.5 176.6 L751.1 176.1 L751.6 177.1 L752.1 177.0 L752.7 177.8 L753.2 177.5 L753.7 177.8 L754.3 177.2 L754.8 177.7 L755.3 177.2 L755.9 176.4 L756.4 175.9 L756.9 175.9 L757.5 177.3 L758.0 175.3 L758.5 177.1 L759.1 176.4 L759.6 177.6 L760.1 177.2 L760.7 176.4 L761.2 177.0 L761.8 175.4 L762.3 177.3 L762.8 177.5 L763.4 175.7 L763.9 177.8 L764.4 177.1 L765.0 177.3 L765.5 176.1 L766.0 177.7 L766.6 177.7 L767.1 177.3 L767.6 176.5 L768.2 178.0 L768.7 178.4 L769.2 177.7 L769.8 178.2 L770.3 177.0 L770.8 177.6 L771.4 177.8 L771.9 177.6 L772.5 179.1 L773.0 177.9 L773.5 177.2 L774.1 178.3 L774.6 176.8 L775.1 178.0 L775.7 178.3 L776.2 177.4 L776.7 177.5 L777.3 177.1 L777.8 177.9 L778.3 177.3 L778.9 179.3 L779.4 178.5 L780.0 177.8 L780.5 176.9 L781.0 179.5 L781.6 179.1 L782.1 178.5 L782.6 178.3 L783.2 178.3 L783.7 177.8 L784.2 179.7 L784.8 178.4 L785.3 177.1 L785.9 177.8 L786.4 176.7 L786.9 178.9 L787.5 179.0 L788.0 179.9 L788.5 180.0 L789.1 177.9 L789.6 178.9 L790.1 179.4 L790.7 179.2 L791.2 178.2 L791.7 179.3 L792.3 179.1 L792.8 179.8 L793.4 178.8 L793.9 178.6 L794.4 178.4 L795.0 178.6 L795.5 178.3 L796.0 178.7 L796.6 179.4 L797.1 179.4 L797.7 180.1 L798.2 180.0 L798.7 179.6 L799.3 178.3 L799.8 179.7 L800.3 180.2 L800.9 178.2 L801.4 178.4 L801.9 178.6 L802.5 178.6 L803.0 179.2 L803.6 178.7 L804.1 179.8 L804.6 178.6 L805.2 179.5 L805.7 179.2 L806.2 178.9 L806.8 180.6 L807.3 179.8 L807.9 180.2 L808.4 179.6 L808.9 180.5 L809.5 180.4 L810.0 179.9 L810.5 178.6 L811.1 180.7 L811.6 180.7 L812.2 180.3 L812.7 180.4 L813.2 180.3 L813.8 180.5 L814.3 179.5 L814.8 180.3 L815.4 180.7 L815.9 180.0 L816.5 179.8 L817.0 182.1 L817.5 181.1 L818.1 180.4 L818.6 180.3 L819.2 179.1 L819.7 179.7 L820.2 180.7 L820.8 182.0 L821.3 179.3 L821.8 180.5 L822.4 182.6 L822.9 181.7 L823.5 181.5 L824.0 182.2 L824.5 181.2 L825.1 181.2 L825.6 182.0 L826.2 182.1 L826.7 180.6 L827.2 182.8 L827.8 180.2 L828.3 181.1 L828.8 183.3 L829.4 181.4 L829.9 182.3 L830.5 181.1 L831.0 181.7 L831.5 181.4 L832.1 181.7 L832.6 182.6 L833.2 183.6 L833.7 182.9 L834.2 183.5 L834.8 181.9 L835.3 183.6 L835.8 182.9 L836.4 183.6 L836.9 182.2 L837.5 182.5 L838.0 183.8 L838.5 183.3 L839.1 182.9 L839.6 182.3 L840.1 182.9 L840.7 183.4 L841.2 183.7 L841.8 182.7 L842.3 182.9 L842.8 183.6 L843.4 182.5 L843.9 184.2 L844.4 183.5 L845.0 183.4 L845.5 182.0 L846.1 182.4 L846.6 182.9 L847.1 183.3 L847.7 183.0 L848.2 184.2 L848.7 184.1 L849.3 183.9 L849.8 182.6 L850.3 185.4 L850.9 184.1 L851.4 184.9 L851.9 183.9 L852.5 184.5 L853.0 185.2 L853.6 184.9 L854.1 185.5 L854.6 184.7 L855.2 186.5 L855.7 183.5 L856.2 184.7 L856.8 186.0 L857.3 185.1 L857.8 185.0 L858.4 184.0 L858.9 186.5 L859.4 184.1 L860.0 186.1 L860.5 185.9 L861.0 186.6 L861.5 187.1 L862.1 185.5 L862.6 185.5 L863.1 186.0 L863.7 184.9 L864.2 187.1 L864.7 186.2 L865.3 186.7 L865.8 185.8 L866.3 186.8 L866.9 186.4 L867.4 186.9 L867.9 186.2 L868.4 188.0 L869.0 186.7 L869.5 185.8 L870.0 188.0 L870.6 187.3 L871.1 187.0 L871.6 189.4 L872.1 187.8 L872.7 186.9 L873.2 187.6 L873.7 188.5 L874.2 188.1 L874.8 189.4 L875.3 189.4 L875.8 188.0 L876.3 188.8 L876.9 189.4 L877.4 188.6 L877.9 188.7 L878.4 189.9 L879.0 189.7 L879.5 188.3 L880.0 189.1 L880.5 189.3 L881.1 189.7 L881.6 189.3 L882.1 191.1 L882.6 189.4 L883.1 189.4 L883.7 190.6 L884.2 189.0 L884.7 189.8 L885.2 191.3 L885.7 189.8 L886.3 190.4 L886.8 192.0 L887.3 191.7 L887.8 191.5 L888.3 191.8 L888.8 191.2 L889.4 192.1 L889.9 191.8 L890.4 193.7 L890.9 192.7 L891.4 192.1 L891.9 192.5 L892.4 192.7 L893.0 191.7 L893.5 192.3 L894.0 194.3 L894.5 192.1 L895.0 192.9 L895.5 194.4 L896.0 194.9 L896.5 193.0 L897.1 195.2 L897.6 193.9 L898.1 195.7 L898.6 194.9 L899.1 194.4 L899.6 195.4 L900.1 195.4 L900.6 194.5 L901.1 196.9 L901.6 195.2 L902.1 196.5 L902.6 195.4 L903.1 194.5 L903.6 195.2 L904.2 196.2 L904.7 197.0 L905.2 198.0 L905.7 196.9 L906.2 196.7 L906.7 196.1 L907.2 197.3 L907.7 197.7 L908.2 196.1 L908.7 198.9 L909.2 198.9 L909.7 199.8 L910.2 197.7 L910.7 198.6 L911.2 198.8 L911.7 197.9 L912.1 198.4 L912.6 198.5 L913.1 199.9 L913.6 200.0 L914.1 201.0 L914.6 199.8 L915.1 199.2 L915.6 200.8 L916.1 201.0 L916.6 201.4 L917.1 202.1 L917.6 200.8 L918.1 202.1 L918.5 200.9 L919.0 202.0 L919.5 202.7 L920.0 202.2 L920.5 202.7 L921.0 201.6 L921.5 202.4 L922.0 203.3 L922.4 202.4 L922.9 202.9 L923.4 205.4 L923.9 204.2 L924.4 203.6 L924.9 203.7 L925.3 205.8 L925.8 203.4 L926.3 204.9 L926.8 205.8 L927.2 205.1 L927.7 206.2 L928.2 205.2 L928.7 206.2 L929.2 206.5 L929.6 206.7 L930.1 207.1 L930.6 207.2 L931.0 208.3 L931.5 207.5 L932.0 207.5 L932.5 208.0 L932.9 208.2 L933.4 207.5 L933.9 207.4 L934.3 208.1 L934.8 209.7 L935.3 209.2 L935.7 209.6 L936.2 211.9 L936.7 211.4 L937.1 210.6 L937.6 210.5 L938.1 212.4 L938.5 210.9 L939.0 212.8 L939.5 212.5 L939.9 213.4 L940.4 212.0 L940.8 213.6 L941.3 211.7 L941.7 213.3 L942.2 214.6 L942.7 214.6 L943.1 212.8 L943.6 215.1 L944.0 215.2 L944.5 215.1 L944.9 214.9 L945.4 215.5 L945.8 215.6 L946.3 217.1 L946.7 217.0 L947.2 217.8 L947.6 217.7 L948.1 216.5 L948.5 217.9 L949.0 219.8 L949.4 217.5 L949.8 218.9 L950.3 218.4 L950.7 218.6 L951.2 219.8 L951.6 220.7 L952.0 220.9 L952.5 220.9 L952.9 221.6 L953.4 219.9 L953.8 222.2 L954.2 222.2 L954.7 222.0 L955.1 222.5 L955.5 222.1 L956.0 224.1 L956.4 222.8 L956.8 222.6 L957.2 224.1 L957.7 224.0 L958.1 224.7 L958.5 226.3 L958.9 225.3 L959.4 225.9 L959.8 227.8 L960.2 225.3 L960.6 227.1 L961.1 228.1 L961.5 228.7 L961.9 229.5 L962.3 227.6 L962.7 229.0 L963.1 228.8 L963.6 228.8 L964.0 229.0 L964.4 228.7 L964.8 230.5 L965.2 231.2 L965.6 230.1 L966.0 231.9 L966.4 231.2 L966.8 231.2 L967.2 230.9 L967.7 233.6 L968.1 233.7 L968.5 233.2 L968.9 233.5 L969.3 233.2 L969.7 235.0 L970.1 234.9 L970.5 235.7 L970.8 235.8 L971.2 234.9 L971.6 235.2 L972.0 237.1 L972.4 235.8 L972.8 237.8 L973.2 238.7 L973.6 237.3 L974.0 239.2 L974.4 239.1 L974.8 239.9 L975.1 239.3 L975.5 240.2 L975.9 241.0 L976.3 242.5 L976.7 242.0 L977.0 242.2 L977.4 241.1 L977.8 242.8 L978.2 242.4 L978.5 243.3 L978.9 244.0 L979.3 244.9 L979.7 245.0 L980.0 245.1 L980.4 245.3 L980.8 246.8 L981.1 245.4 L981.5 246.6 L981.9 248.0 L982.2 247.2 L982.6 248.4 L982.9 248.9 L983.3 250.1 L983.7 249.9 L984.0 248.0 L984.4 249.8 L984.7 250.4 L985.1 251.3 L985.4 251.3 L985.8 252.9 L986.1 252.7 L986.5 251.3 L986.8 252.1 L987.2 251.5 L987.5 254.9 L987.8 253.8 L988.2 254.2 L988.5 253.4 L988.9 254.8 L989.2 255.9 L989.5 255.6 L989.9 256.0 L990.2 256.3 L990.5 258.8 L990.9 257.2 L991.2 256.9 L991.5 258.0 L991.9 258.6 L992.2 259.2 L992.5 259.5 L992.8 259.2 L993.2 260.4 L993.5 261.3 L993.8 260.3 L994.1 263.5 L994.4 263.7 L994.8 261.3 L995.1 262.9 L995.4 264.4 L995.7 265.1 L996.0 265.9 L996.3 263.5 L996.6 264.4 L996.9 265.4 L997.3 266.7 L997.6 265.8 L997.9 267.5 L998.2 267.9 L998.5 268.6 L998.8 267.4 L999.1 269.1 L999.4 269.4 L999.7 269.5 L1000.0 271.3 L1000.3 270.5 L1000.6 272.3 L1000.9 271.1 L1001.2 273.4 L1001.5 273.8 L1001.7 272.3 L1002.0 273.7 L1002.3 274.1 L1002.6 273.5 L1002.9 275.4 L1003.2 275.7 L1003.5 275.0 L1003.8 276.2 L1004.0 277.3 L1004.3 276.9 L1004.6 277.0 L1004.9 279.3 L1005.2 277.7 L1005.4 279.2 L1005.7 280.3 L1006.0 280.5 L1006.3 278.8 L1006.6 280.5 L1006.8 281.1 L1007.1 281.5 L1007.4 282.7 L1007.6 283.1 L1007.9 283.2 L1008.2 283.8 L1008.5 284.9 L1008.7 285.5 L1009.0 283.4 L1009.3 287.1 L1009.5 285.5 L1009.8 287.0 L1010.0 285.5 L1010.3 286.9 L1010.6 286.8 L1010.8 289.1 L1011.1 289.4 L1011.4 289.2 L1011.6 289.5 L1011.9 290.5 L1012.1 289.8 L1012.4 290.6 L1012.6 290.9 L1012.9 292.7 L1013.1 292.5 L1013.4 291.9 L1013.6 293.7 L1013.9 294.3 L1014.1 295.5 L1014.4 294.4 L1014.6 295.7 L1014.9 297.4 L1015.1 296.0 L1015.4 296.5 L1015.6 297.7 L1015.9 297.3 L1016.1 298.2 L1016.4 298.3 L1016.6 298.5 L1016.9 300.4 L1017.1 299.8 L1017.3 299.8 L1017.6 300.8 L1017.8 301.4 L1018.0 302.3 L1018.3 303.3 L1018.5 304.4 L1018.8 302.5 L1019.0 303.8 L1019.2 303.0 L1019.5 305.1 L1019.7 305.8 L1019.9 305.3 L1020.2 305.6 L1020.4 306.0 L1020.6 306.1 L1020.9 308.3 L1021.1 309.8 L1021.3 307.8 L1021.5 310.6 L1021.8 309.6 L1022.0 309.1 L1022.2 311.1 L1022.4 311.8 L1022.7 312.0 L1022.9 311.9 L1023.1 314.0 L1023.3 312.9 L1023.6 314.1 L1023.8 314.6 L1024.0 313.8 L1024.2 313.6 L1024.5 314.1 L1024.7 315.7 L1024.9 316.8 L1025.1 315.6 L1025.3 316.9 L1025.5 319.2 L1025.8 317.0 L1026.0 319.3 L1026.2 319.7 L1026.4 320.6 L1026.6 319.2 L1026.8 321.2 L1027.0 320.3 L1027.3 323.0 L1027.5 321.7 L1027.7 323.2 L1027.9 322.7 L1028.1 324.0 L1028.3 323.1 L1028.5 325.1 L1028.7 325.8 L1028.9 325.8 L1029.1 327.6 L1029.3 327.1 L1029.5 327.9 L1029.8 328.2 L1030.0 329.8 L1030.2 328.2 L1030.4 329.0 L1030.6 329.6 L1030.8 330.8 L1031.0 331.0 L1031.2 331.9 L1031.4 332.0 L1031.6 331.8 L1031.8 332.7 L1032.0 333.6 L1032.2 332.2 L1032.4 335.4 L1032.6 334.3 L1032.7 334.9 L1032.9 335.9 L1033.1 336.0 L1033.3 335.5 L1033.5 337.0 L1033.7 338.8 L1033.9 339.1 L1034.1 339.7 L1034.3 338.8 L1034.5 339.5 L1034.7 341.1 L1034.9 341.9 L1035.1 341.2 L1035.2 340.9 L1035.4 340.7 L1035.6 343.9 L1035.8 342.0 L1036.0 344.1 L1036.2 345.0 L1036.4 346.4 L1036.5 345.4 L1036.7 345.7 L1036.9 346.6 L1037.1 347.2 L1037.3 348.4 L1037.5 348.3 L1037.6 347.6 L1037.8 347.2 L1038.0 349.5 L1038.2 349.2 L1038.4 351.4 L1038.5 349.7 L1038.7 351.5 L1038.9 351.2 L1039.1 351.6 L1039.3 354.2 L1039.4 353.4 L1039.6 353.7 L1039.8 354.9 L1040.0 354.2 L1040.1 355.0 L1040.3 355.3 L1040.5 357.9 L1040.7 357.1 L1040.8 357.9 L1041.0 358.8 L1041.2 358.2 L1041.3 358.7 L1041.5 358.0 L1041.7 360.3 L1041.8 360.6 L1042.0 360.5 L1042.2 362.4 L1042.4 360.4 L1042.5 362.8 L1042.7 361.8 L1042.9 362.5 L1043.0 363.8 L1043.2 365.5 L1043.3 364.0 L1043.5 364.6 L1043.7 365.0 L1043.8 368.1 L1044.0 367.4 L1044.2 367.8 L1044.3 369.6 L1044.5 368.7 L1044.6 367.4 L1044.8 369.1 L1045.0 369.0 L1045.1 372.2 L1045.3 369.9 L1045.4 371.8 L1045.6 371.7 L1045.8 372.2 L1045.9 373.1 L1046.1 373.5 L1046.2 373.6 L1046.4 373.6 L1046.5 374.6 L1046.7 374.8 L1046.9 375.4 L1047.0 376.8 L1047.2 377.1 L1047.3 378.1 L1047.5 378.0 L1047.6 380.3 L1047.8 378.6 L1047.9 378.9 L1048.1 381.1 L1048.2 380.2 L1048.4 381.4 L1048.5 382.6 L1048.7 382.2 L1048.8 382.5 L1049.0 384.2 L1049.1 384.1 L1049.3 383.9 L1049.4 383.9 L1049.6 385.1 L1049.7 384.5 L1049.8 385.7 L1050.0 386.0 L1050.1 387.7 L1050.3 388.6 L1050.4 388.0 L1050.6 388.7 L1050.7 388.6 L1050.9 388.9 L1051.0 390.2 L1051.1 391.5 L1051.3 392.0 L1051.4 392.6 L1051.6 392.4 L1051.7 391.6 L1051.8 394.4 L1052.0 395.3 L1052.1 395.5 L1052.3 396.0 L1052.4 396.6 L1052.5 397.9 L1052.7 397.0 L1052.8 398.6 L1052.9 398.5 L1053.1 398.9 L1053.2 398.7 L1053.4 399.1 L1053.5 399.0 L1053.6 400.9 L1053.8 400.7 L1053.9 400.5 L1054.0 401.3 L1054.2 401.5 L1054.3 404.3 L1054.4 403.3 L1054.6 404.1 L1054.7 403.6 L1054.8 404.2 L1055.0 406.5 L1055.1 405.9 L1055.2 406.8 L1055.3 408.7 L1055.5 409.3 L1055.6 408.8 L1055.7 409.1 L1055.9 409.5 L1056.0 409.5 L1056.1 411.9 L1056.2 409.8 L1056.4 411.3 L1056.5 410.3 L1056.6 411.3 L1056.8 413.2 L1056.9 413.8 L1057.0 414.2 L1057.1 414.2 L1057.3 414.4 L1057.4 415.1 L1057.5 415.7 L1057.6 417.5 L1057.8 418.3 L1057.9 418.0 L1058.0 417.7 L1058.1 417.9 L1058.2 419.4 L1058.4 419.5 L1058.5 418.7 L1058.6 421.9 L1058.7 421.3 L1058.8 421.5 L1059.0 421.6 L1059.1 422.1 L1059.2 424.1 L1059.3 423.1 L1059.4 424.5 L1059.6 425.5 L1059.7 427.0 L1059.8 426.5 L1059.9 426.5 L1060.0 426.7 L1060.2 428.3 L1060.3 428.9 L1060.4 428.3 L1060.5 429.6 L1060.6 429.6 L1060.7 428.8 L1060.8 429.9 L1061.0 431.9 L1061.1 433.0 L1061.2 432.9 L1061.3 432.7 L1061.4 432.8 L1061.5 434.3 L1061.6 434.7 L1061.8 433.6 L1061.9 436.0 L1062.0 435.4 L1062.1 437.1 L1062.2 437.5 L1062.3 438.2 L1062.4 439.0 L1062.5 439.2 L1062.7 438.3 L1062.8 438.8 L1062.9 441.1 L1063.0 441.1 L1063.1 439.9 L1063.2 440.2 L1063.3 443.0 L1063.4 444.4 L1063.5 444.0 L1063.6 443.7 L1063.7 444.6 L1063.9 443.3 L1064.0 444.6 L1064.1 446.8 L1064.2 447.2 L1064.3 445.4 L1064.4 448.6 L1064.5 448.5 L1064.6 449.4 L1064.7 449.0 L1064.8 449.7 L1064.9 449.3 L1065.0 451.0 L1065.1 452.0 L1065.2 451.0 L1065.3 452.6 L1065.4 452.4 L1065.5 454.3 L1065.6 454.7 L1065.8 452.8 L1065.9 455.4 L1066.0 456.3 L1066.1 455.6 L1066.2 456.4 L1066.3 457.0 L1066.4 456.7 L1066.5 458.1 L1066.6 460.0 L1066.7 459.6 L1066.8 461.0 L1066.9 461.1 L1067.0 461.8 L1067.1 461.4 L1067.2 462.5 L1067.3 464.0 L1067.4 464.1 L1067.5 463.7 L1067.6 463.4 L1067.7 463.7 L1067.8 465.2 L1067.9 465.9 L1068.0 464.6 L1068.1 466.8 L1068.2 467.4 L1068.3 467.9 L1068.4 467.8 L1068.5 470.3 L1068.6 470.0 L1068.7 468.7 L1068.8 469.7 L1068.9 471.5 L1068.9 471.8 L1069.0 472.0 L1069.1 472.4 L1069.2 472.8 L1069.3 473.1 L1069.4 473.2 L1069.5 475.0 L1069.6 473.5 L1069.7 475.0 L1069.8 477.2 L1069.9 476.0 L1070.0 476.2 L1070.1 479.3 L1070.2 479.1 L1070.3 478.7 L1070.4 478.8 L1070.5 479.7 L1070.6 480.1 L1070.7 480.7 L1070.8 480.8 L1070.9 482.4 L1070.9 482.0 L1071.0 481.5 L1071.1 482.5 L1071.2 484.1 L1071.3 483.8 L1071.4 483.6 L1071.5 486.9 L1071.6 486.6 L1071.7 486.3 L1071.8 486.8 L1071.9 488.2 L1072.0 489.5 L1072.1 488.3 L1072.1 489.7 L1072.2 489.4 L1072.3 490.7 L1072.4 490.0 L1072.5 490.0 L1072.6 492.1 L1072.7 492.5 L1072.8 493.7 L1072.9 493.1 L1073.0 495.3 L1073.1 494.8 L1073.1 496.5 L1073.2 495.5 L1073.3 497.5 L1073.4 496.8 L1073.5 497.5 L1073.6 498.7 L1073.7 496.9 L1073.8 498.1 L1073.9 501.0 L1074.0 498.8 L1074.0 500.1 L1074.1 501.5 L1074.2 502.8 L1074.3 501.7 L1074.4 502.8 L1074.5 502.3 L1074.6 503.4 L1074.7 505.1 L1074.8 505.1 L1074.8 505.3 L1074.9 506.2 L1075.0 506.5 L1075.1 507.1 L1075.2 507.2 L1075.3 507.2 L1075.4 509.1 L1075.5 508.1 L1075.5 510.4 L1075.6 511.8 L1075.7 511.9 L1075.8 512.8 L1075.9 510.8 L1076.0 512.4 L1076.1 512.1 L1076.2 512.7 L1076.2 512.4 L1076.3 513.4 L1076.4 515.6 L1076.5 516.0 L1076.6 517.0 L1076.7 517.4 L1076.8 517.7 L1076.9 516.9 L1076.9 518.0 L1077.0 519.2 L1077.1 520.2 L1077.2 519.4 L1077.3 519.8 L1077.4 520.4 L1077.5 522.6 L1077.5 522.3 L1077.6 522.1 L1077.7 522.3 L1077.8 523.8 L1077.9 522.6 L1078.0 524.3 L1078.0 524.6 L1078.1 525.1 L1078.2 526.3 L1078.3 527.0 L1078.4 528.8 L1078.5 527.8 L1078.6 528.8 L1078.6 528.1 L1078.7 527.9 L1078.8 530.8 L1078.9 531.9 L1079.0 530.1 L1079.1 531.4 L1079.1 532.9 L1079.2 532.6 L1079.3 531.4 L1079.4 534.4 L1079.5 534.0 L1079.6 535.2 L1079.6 534.3 L1079.7 536.4 L1079.8 537.1 L1079.9 536.1 L1080.0 537.7 L1080.1 537.3 L1080.1 537.9 L1080.2 538.1 L1080.3 539.0 L1080.4 539.4 L1080.5 541.4 L1080.6 540.8 L1080.6 540.6 L1080.7 543.2 L1080.8 543.0 L1080.9 543.9 L1081.0 543.6 L1081.1 544.7 L1081.1 544.6 L1081.2 544.4 L1081.3 545.8 L1081.4 546.4 L1081.5 546.9 L1081.5 548.0 L1081.6 546.5 L1081.7 548.7 L1081.8 548.3 L1081.9 549.3 L1081.9 550.4 L1082.0 550.6 L1082.1 550.5 L1082.2 552.2 L1082.3 552.1 L1082.3 553.4 L1082.4 554.2 L1082.5 553.5 L1082.6 553.4 L1082.7 554.9 L1082.7 556.0 L1082.8 556.1 L1082.9 555.4 L1083.0 555.5 L1083.1 556.7 L1083.1 557.2 L1083.2 559.0 L1083.3 559.1 L1083.4 560.3 L1083.5 560.1 L1083.5 562.0 L1083.6 561.2 L1083.7 562.2 L1083.8 561.9 L1083.9 563.2 L1083.9 564.2 L1084.0 564.5 L1084.1 565.4 L1084.2 564.4 L1084.2 565.8 L1084.3 567.4 L1084.4 566.7 L1084.5 566.9 L1084.6 567.4 L1084.6 567.7 L1084.7 568.8 L1084.8 570.3 L1084.9 570.1 L1084.9 570.2 L1085.0 570.1 L1085.1 570.4 L1085.2 573.4 L1085.3 572.0 L1085.3 573.0 L1085.4 573.0 L1085.5 574.1 L1085.6 574.1 L1085.6 575.1 L1085.7 576.7 L1085.8 575.5 L1085.9 577.0 L1085.9 577.1 L1086.0 578.2 L1086.1 577.6 L1086.2 579.0 L1086.2 578.4 L1086.3 578.3 L1086.4 579.2 L1086.5 580.0 L1086.6 580.4 L1086.6 581.6 L1086.7 583.3 L1086.8 582.0 L1086.9 583.8 L1086.9 584.1 L1087.0 583.9 L1087.1 584.3 L1087.2 585.9 L1087.2 586.5 L1087.3 586.4 L1087.4 587.0 L1087.4 587.7 L1087.5 587.2 L1087.6 588.8 L1087.7 589.5 L1087.7 591.2 L1087.8 589.3 L1087.9 590.2 L1088.0 591.5 L1088.0 591.5 L1088.1 592.1 L1088.2 593.0 L1088.3 593.3 L1088.3 594.0 L1088.4 595.0 L1088.5 593.8 L1088.6 596.1 L1088.6 594.6 L1088.7 598.1 L1088.8 598.0 L1088.8 597.3 L1088.9 599.1 L1089.0 598.7 L1089.1 599.7 L1089.1 600.5 L1089.2 600.7 L1089.3 601.0 L1089.3 602.0 L1089.4 601.9 L1089.5 602.3 L1089.6 602.3 L1089.6 602.2 L1089.7 605.4 L1089.8 605.3 L1089.8 604.1 L1089.9 606.1 L1090.0 606.5 L1090.1 605.2 L1090.1 606.7 L1090.2 607.8 L1090.3 609.8 L1090.3 609.8 L1090.4 610.5 L1090.5 610.3 L1090.6 611.4 L1090.6 610.1 L1090.7 612.1 L1090.8 612.7 L1090.8 611.7 L1090.9 613.4 L1091.0 615.0 L1091.0 615.8 L1091.1 615.9 L1091.2 614.8 L1091.3 615.8 L1091.3 616.0 L1091.4 617.9 L1091.5 616.8 L1091.5 617.2 L1091.6 617.2 L1091.7 619.2 L1091.7 619.9 L1091.8 619.6 L1091.9 620.1 L1091.9 621.0 L1092.0 622.8 L1092.1 621.2 L1092.1 622.8 L1092.2 623.5 L1092.3 624.2 L1092.3 625.4 L1092.4 625.6 L1092.5 625.7 L1092.5 627.2 L1092.6 627.4 L1092.7 627.3 L1092.8 627.8 L1092.8 627.2 L1092.9 628.7 L1093.0 628.5 L1093.0 628.8 L1093.1 630.0 L1093.2 629.4 L1093.2 630.6 L1093.3 631.4 L1093.4 632.6 L1093.4 632.6 L1093.5 633.7 L1093.5 635.2 L1093.6 635.1 L1093.7 634.1 L1093.7 634.1 L1093.8 635.3 L1093.9 635.9 L1093.9 635.5 L1094.0 636.3 L1094.1 636.8 L1094.1 638.2 L1094.2 640.4 L1094.3 641.1 L1094.3 639.5 L1094.4 640.4 L1094.5 640.2 L1094.5 640.6 L1094.6 642.3 L1094.7 642.9 L1094.7 642.9 L1094.8 644.5 L1094.9 644.2 L1094.9 645.9 L1095.0 645.1 L1095.0 646.8 L1095.1 646.4 L1095.2 647.2 L1095.2 648.2 L1095.3 647.1 L1095.4 648.1 L1095.4 649.2 L1095.5 649.6 L1095.5 650.5 L1095.6 650.2 L1095.7 650.3 L1095.7 651.8 L1095.8 652.7 L1095.9 652.3 L1095.9 654.5 L1096.0 654.6 L1096.1 655.3 L1096.1 655.7 L1096.2 655.0 L1096.2 657.8 L1096.3 656.1 L1096.4 657.6 L1096.4 658.4 L1096.5 658.6 L1096.5 659.0 L1096.6 658.8 L1096.7 659.6 L1096.7 660.5 L1096.8 662.1 L1096.9 661.0 L1096.9 662.6 L1097.0 663.0 L1097.0 663.2 L1097.1 663.3 L1097.2 664.1 L1097.2 663.4 L1097.3 665.4 L1097.3 666.1 L1097.4 666.0 L1097.5 667.4 L1097.5 667.7 L1097.6 667.4 L1097.6 669.2 L1097.7 668.6 L1097.8 671.1 L1097.8 669.3 L1097.9 670.0 L1097.9 670.7 L1098.0 671.9 L1098.1 673.2 L1098.1 672.9 L1098.2 673.0 L1098.2 675.4 L1098.3 675.2 L1098.3 674.7 L1098.4 675.4 L1098.5 674.8 L1098.5 676.5 L1098.6 678.4 L1098.6 676.6 L1098.7 677.0 L1098.8 678.7 L1098.8 677.5 L1098.9 680.8 L1098.9 679.0 L1099.0 680.2 L1099.0 681.2 L1099.1 682.8 L1099.2 682.7 L1099.2 681.4 L1099.3 682.1 L1099.3 684.1 L1099.4 682.8 L1099.4 684.7 L1099.5 684.9 L1099.6 686.7 L1099.6 687.5 L1099.7 685.5 L1099.7 688.0 L1099.8 688.7 L1099.8 688.1 L1099.9 688.7 L1100.0 688.8 L1100.0 690.0 L1100.1 691.1 L1100.1 692.4 L1100.2 693.0 L1100.2 692.2 L1100.3 692.3 L1100.3 694.3 L1100.4 692.4 L1100.4 693.4 L1100.5 695.6 L1100.6 697.2 L1100.6 695.5 L1100.7 696.7 L1100.7 696.3 L1100.8 697.7 L1100.8 698.2 L1100.9 698.2 L1100.9 699.6 L1101.0 699.7 L1101.0 700.8 L1101.1 700.8 L1101.2 700.5 L1101.2 702.1 L1101.3 703.2 L1101.3 702.4 L1101.4 704.7 L1101.4 704.5 L1101.5 704.4 L1101.5 705.2 L1101.6 705.4 L1101.6 705.5 L1101.7 707.5 L1101.7 708.0 L1101.8 707.5 L1101.8 708.2 L1101.9 708.8 L1102.0 710.0 L1102.0 711.2 L1102.1 710.0 L1102.1 711.3 L1102.2 711.6 L1102.2 712.6 L1102.3 713.8 L1102.3 712.5 L1102.4 712.1 L1102.4 714.1 L1102.5 713.5 L1102.5 716.7 L1102.6 715.3 L1102.6 716.2 L1102.7 717.1 L1102.7 717.6 L1102.8 717.7 L1102.8 718.5 L1102.9 719.8 L1102.9 719.4 L1103.0 721.6 L1103.0 721.0 L1103.1 719.6 L1103.1 722.5 L1103.2 720.9 L1103.2 723.1 L1103.3 724.9 L1103.3 724.7 L1103.4 723.5 L1103.4 724.3 L1103.5 725.5 L1103.5 727.2 L1103.6 726.0 L1103.6 728.0 L1103.7 727.9 L1103.7 728.1 L1103.8 728.5 L1103.8 730.6 L1103.9 728.5 L1103.9 729.4 L1104.0 731.5 L1104.0 732.1 L1104.1 730.8 L1104.1 731.7 L1104.2 732.0 L1104.2 733.9 L1104.2 733.5 L1104.3 735.7 L1104.3 735.7 L1104.4 735.8 L1104.4 736.3 L1104.5 737.1 L1104.5 737.9 L1104.6 737.8 L1104.6 738.5 L1104.7 739.4 L1104.7 739.3 L1104.8 740.7 L1104.8 740.3 L1104.9 740.3 L1104.9 741.6 L1105.0 743.3 L1105.0 743.7 L1105.0 741.8 L1105.1 743.9 L1105.1 743.7 L1105.2 744.4 L1105.2 744.9 L1105.3 745.6 L1105.3 745.9 L1105.4 746.6 L1105.4 747.5 L1105.5 746.9 L1105.5 747.4 L1105.5 748.0 L1105.6 748.6 L1105.6 750.5 L1105.7 749.6 L1105.7 751.0 L1105.8 751.7 L1105.8 752.7 L1105.9 752.7 L1105.9 754.0 L1105.9 753.7 L1106.0 754.5 L1106.0 755.4 L1106.1 754.2 L1106.1 756.2 L1106.2 757.6 L1106.2 757.0 L1106.2 757.3 L1106.3 759.5 L1106.3 758.6 L1106.4 760.1 L1106.4 758.0 L1106.5 760.2 L1106.5 760.3 L1106.5 761.5 L1106.6 762.7 L1106.6 762.2 L1106.7 762.6 L1106.7 761.8 L1106.8 764.5 L1106.8 765.5 L1106.8 765.1 L1106.9 765.1 L1106.9 766.3 L1107.0 767.4 L1107.0 767.6 L1107.0 769.2 L1107.1 767.7 L1107.1 767.6 L1107.2 769.6 L1107.2 770.8 L1107.3 769.9 L1107.3 770.8 L1107.3 770.9 L1107.4 770.9 L1107.4 771.9 L1107.5 771.4 L1107.5 773.7 L1107.5 774.4 L1107.6 775.3 L1107.6 774.5 L1107.7 775.1 L1107.7 774.8 L1107.7 775.5 L1107.8 778.0 L1107.8 779.4 L1107.9 777.5 L1107.9 778.5 L1107.9 780.1 L1108.0 779.4 L1108.0 780.9 L1108.0 780.8 L1108.1 781.3 L1108.1 782.8 L1108.2 782.4 L1108.2 782.1 L1108.2 784.3 L1108.3 784.2 L1108.3 784.3 L1108.4 784.6 L1108.4 786.3 L1108.4 785.8 L1108.5 787.0 L1108.5 788.2 L1108.5 787.9 L1108.6 789.4 L1108.6 787.9 L1108.7 790.0 L1108.7 790.5 L1108.7 792.1 L1108.8 791.2 L1108.8 792.4 L1108.8 792.1 L1108.9 791.9 L1108.9 792.6 L1108.9 793.3 L1109.0 795.0 L1109.0 794.3 L1109.1 795.5 L1109.1 796.7 L1109.1 797.5 L1109.2 797.8 L1109.2 798.8 L1109.2 797.2 L1109.3 798.3 L1109.3 799.5 L1109.3 800.6 L1109.4 800.7 L1109.4 800.2 L1109.4 801.2 L1109.5 800.6 L1109.5 803.1 L1109.6 801.5 L1109.6 803.7 L1109.6 804.9 L1109.7 805.3 L1109.7 803.8 L1109.7 805.8 L1109.8 805.9 L1109.8 806.5 L1109.8 808.6 L1109.9 808.0 L1109.9 807.2 L1109.9 808.0 L1110.0 809.9 L1110.0 810.1 L1110.0 809.5 L1110.1 809.6 L1110.1 811.1 L1110.1 811.7 L1110.2 813.2 L1110.2 812.6 L1110.2 814.2 L1110.3 815.2 L1110.3 813.5 L1110.3 814.8 L1110.4 817.0 L1110.4 816.0 L1110.4 816.9 L1110.4 818.2 L1110.5 817.3 L1110.5 818.1 L1110.5 817.7 L1110.6 820.0 L1110.6 819.7 L1110.6 820.3 L1110.7 819.6 L1110.7 822.5 L1110.7 822.8 L1110.8 822.1 L1110.8 824.3 L1110.8 822.3 L1110.8 824.3 L1110.9 823.5 L1110.9 827.1 L1110.9 824.4 L1111.0 825.5 L1111.0 826.4 L1111.0 828.2 L1111.1 828.8 L1111.1 829.0 L1111.1 829.0 L1111.1 831.4 L1111.2 829.7 L1111.2 831.0 L1111.2 832.7 L1111.3 830.9 L1111.3 831.7 L1111.3 833.8 L1111.4 833.8 L1111.4 833.0 L1111.4 834.6 L1111.4 836.6 L1111.5 835.4 L1111.5 836.8 L1111.5 836.8 L1111.5 836.7 L1111.6 839.1 L1111.6 839.1 L1111.6 839.8 L1111.7 839.3 L1111.7 840.0 L1111.7 840.6 L1111.7 841.3 L1111.8 841.2 L1111.8 841.7 L1111.8 843.6 L1111.8 842.2 L1111.9 843.3 L1111.9 843.9 L1111.9 844.3 L1112.0 844.3 L1112.0 845.2 L1112.0 847.0 L1112.0 846.6 L1112.1 846.8 L1112.1 849.3 L1112.1 847.4 L1112.1 849.9 L1112.2 849.9 L1112.2 849.0 L1112.2 850.3 L1112.2 850.9 L1112.3 852.8 L1112.3 853.0 L1112.3 852.6 L1112.3 852.4 L1112.4 852.5 L1112.4 854.3 L1112.4 853.8 L1112.4 855.4 L1112.5 855.9 L1112.5 856.9 L1112.5 857.9 L1112.5 857.7 L1112.6 858.6 L1112.6 858.6 L1112.6 860.1 L1112.6 860.5 L1112.6 861.6 L1112.7 862.0 L1112.7 860.8 L1112.7 860.8 L1112.7 863.0 L1112.8 864.0 L1112.8 863.0 L1112.8 865.3 L1112.8 864.7 L1112.9 865.1 L1112.9 866.0 L1112.9 865.1 L1112.9 865.5 L1112.9 867.1 L1113.0 866.9 L1113.0 868.4 L1113.0 868.9 L1113.0 868.0 L1113.1 869.4 L1113.1 871.0 L1113.1 869.6 L1113.1 871.4 L1113.1 871.1 L1113.2 871.2 L1113.2 874.1 L1113.2 874.6 L1113.2 874.0 L1113.2 874.5 L1113.3 876.5 L1113.3 876.9 L1113.3 876.5 L1113.3 877.7 L1113.3 877.6 L1113.4 877.8 L1113.4 879.1 L1113.4 878.8 L1113.4 880.2 L1113.4 880.0 L1113.5 880.4 L1113.5 880.9 L1113.5 882.2 L1113.5 883.1 L1113.5 883.3 L1113.6 882.8 L1113.6 884.5 L1113.6 883.8 L1113.6 884.2 L1113.6 885.5 L1113.6 886.8 L1113.7 887.3 L1113.7 887.7 L1113.7 888.9 L1113.7 889.0 L1113.7 888.6 L1113.8 890.0 L1113.8 889.7 L1113.8 890.8 L1113.8 891.5 L1113.8 891.5 L1113.8 890.9 L1113.9 892.6 L1113.9 893.0 L1113.9 893.7 L1113.9 894.0 L1113.9 893.9 L1113.9 894.1 L1114.0 896.5" stroke="#ffc823" stroke-opacity="0.38"/><path d="M226.7 896.0 L226.8 893.1 L227.0 890.3 L227.1 887.4 L227.2 884.6 L227.3 881.7 L227.5 878.8 L227.6 876.0 L227.7 873.1 L227.9 870.2 L228.0 867.4 L228.1 864.5 L228.3 861.6 L228.4 858.7 L228.5 855.9 L228.7 853.0 L228.8 850.1 L228.9 847.2 L229.1 844.3 L229.2 841.4 L229.4 838.5 L229.5 835.7 L229.7 832.8 L229.8 829.9 L230.0 827.0 L230.1 824.1 L230.3 821.2 L230.4 818.3 L230.6 815.4 L230.7 812.5 L230.9 809.6 L231.0 806.7 L231.2 803.8 L231.4 800.9 L231.5 798.0 L231.7 795.1 L231.8 792.2 L232.0 789.2 L232.2 786.3 L232.3 783.4 L232.5 780.5 L232.7 777.6 L232.8 774.7 L233.0 771.8 L233.2 768.8 L233.4 765.9 L233.5 763.0 L233.7 760.1 L233.9 757.2 L234.1 754.2 L234.2 751.3 L234.4 748.4 L234.6 745.5 L234.8 742.5 L235.0 739.6 L235.2 736.7 L235.4 733.8 L235.5 730.8 L235.7 727.9 L235.9 725.0 L236.1 722.0 L236.3 719.1 L236.5 716.2 L236.7 713.2 L236.9 710.3 L237.1 707.4 L237.3 704.4 L237.5 701.5 L237.7 698.6 L237.9 695.6 L238.1 692.7 L238.3 689.8 L238.5 686.8 L238.7 683.9 L238.9 681.0 L239.2 678.0 L239.4 675.1 L239.6 672.2 L239.8 669.2 L240.0 666.3 L240.2 663.3 L240.5 660.4 L240.7 657.5 L240.9 654.5 L241.1 651.6 L241.3 648.7 L241.6 645.7 L241.8 642.8 L242.0 639.8 L242.3 636.9 L242.5 634.0 L242.7 631.0 L243.0 628.1 L243.2 625.2 L243.4 622.2 L243.7 619.3 L243.9 616.4 L244.2 613.4 L244.4 610.5 L244.6 607.5 L244.9 604.6 L245.1 601.7 L245.4 598.7 L245.6 595.8 L245.9 592.9 L246.1 589.9 L246.4 587.0 L246.6 584.1 L246.9 581.1 L247.1 578.2 L247.4 575.3 L247.7 572.4 L247.9 569.4 L248.2 566.5 L248.5 563.6 L248.7 560.6 L249.0 557.7 L249.3 554.8 L249.5 551.9 L249.8 548.9 L250.1 546.0 L250.3 543.1 L250.6 540.2 L250.9 537.2 L251.2 534.3 L251.5 531.4 L251.7 528.5 L252.0 525.6 L252.3 522.7 L252.6 519.7 L252.9 516.8 L253.2 513.9 L253.5 511.0 L253.7 508.1 L254.0 505.2 L254.3 502.3 L254.6 499.4 L254.9 496.5 L255.2 493.6 L255.5 490.6 L255.8 487.7 L256.1 484.8 L256.4 481.9 L256.7 479.0 L257.0 476.1 L257.3 473.3 L257.7 470.4 L258.0 467.5 L258.3 464.6 L258.6 461.7 L258.9 458.8 L259.2 455.9 L259.5 453.0 L259.9 450.1 L260.2 447.3 L260.5 444.4 L260.8 441.5 L261.2 438.6 L261.5 435.7 L261.8 432.9 L262.2 430.0 L262.5 427.1 L262.8 424.2 L263.2 421.4 L263.5 418.5 L263.9 415.7 L264.2 412.8 L264.6 409.9 L264.9 407.1 L265.3 404.2 L265.7 401.4 L266.1 398.5 L266.5 395.7 L266.9 392.8 L267.3 390.0 L267.7 387.1 L268.2 384.3 L268.6 381.4 L269.0 378.6 L269.5 375.8 L270.0 372.9 L270.5 370.1 L271.0 367.3 L271.5 364.4 L272.0 361.6 L272.5 358.8 L273.1 356.0 L273.6 353.2 L274.2 350.3 L274.8 347.5 L275.4 344.7 L276.0 341.9 L276.7 339.1 L277.3 336.3 L278.0 333.5 L278.7 330.7 L279.4 327.9 L280.1 325.1 L280.8 322.3 L281.6 319.5 L282.3 316.8 L283.1 314.0 L283.9 311.2 L284.7 308.4 L285.5 305.6 L286.4 302.9 L287.3 300.1 L288.2 297.3 L289.1 294.6 L290.0 291.8 L291.0 289.1 L292.0 286.3 L293.0 283.5 L294.1 280.8 L295.2 278.1 L296.3 275.3 L297.5 272.6 L298.7 269.9 L299.9 267.2 L301.2 264.5 L302.5 261.8 L303.9 259.1 L305.3 256.5 L306.7 253.9 L308.2 251.3 L309.7 248.8 L311.3 246.3 L312.9 243.8 L314.6 241.3 L316.3 238.9 L318.0 236.6 L319.8 234.3 L321.7 232.0 L323.6 229.8 L325.6 227.6 L327.6 225.5 L329.6 223.4 L331.8 221.4 L334.0 219.5 L336.2 217.6 L338.5 215.8 L340.8 214.1 L343.2 212.4 L345.7 210.8 L348.1 209.2 L350.7 207.7 L353.2 206.3 L355.8 204.9 L358.4 203.6 L361.1 202.3 L363.8 201.1 L366.5 199.9 L369.2 198.7 L371.9 197.6 L374.7 196.6 L377.4 195.6 L380.2 194.7 L383.0 193.8 L385.8 192.9 L388.6 192.1 L391.3 191.3 L394.1 190.5 L396.9 189.8 L399.8 189.1 L402.6 188.5 L405.4 187.8 L408.2 187.3 L411.0 186.7 L413.9 186.2 L416.7 185.7 L419.5 185.2 L422.4 184.8 L425.2 184.3 L428.1 183.9 L431.0 183.6 L433.8 183.2 L436.7 182.9 L439.6 182.5 L442.4 182.2 L445.3 182.0 L448.2 181.7 L451.1 181.4 L454.0 181.2 L456.9 180.9 L459.8 180.7 L462.7 180.5 L465.6 180.3 L468.5 180.1 L471.4 179.9 L474.3 179.7 L477.2 179.5 L480.1 179.4 L483.0 179.2 L485.9 179.1 L488.9 178.9 L491.8 178.8 L494.7 178.7 L497.6 178.5 L500.5 178.4 L503.5 178.3 L506.4 178.2 L509.3 178.1 L512.3 178.0 L515.2 178.0 L518.1 177.9 L521.1 177.8 L524.0 177.7 L527.0 177.7 L529.9 177.6 L532.8 177.5 L535.8 177.5 L538.7 177.4 L541.7 177.4 L544.6 177.3 L547.5 177.3 L550.5 177.3 L553.4 177.2 L556.4 177.2 L559.3 177.1 L562.2 177.1 L565.2 177.1 L568.1 177.0 L571.0 177.0 L574.0 177.0 L576.9 176.9 L579.9 176.9 L582.8 176.9 L585.7 176.8 L588.7 176.8 L591.6 176.8 L594.5 176.7 L597.4 176.7 L600.4 176.6 L603.3 176.6 L606.2 176.6 L609.1 176.5 L612.1 176.5 L615.0 176.4 L617.9 176.4 L620.8 176.4 L623.7 176.3 L626.6 176.3 L629.6 176.2 L632.5 176.2 L635.4 176.1 L638.3 176.1 L641.2 176.1 L644.1 176.0 L647.0 176.0 L649.9 176.0 L652.8 175.9 L655.8 175.9 L658.7 175.9 L661.6 175.9 L664.5 175.8 L667.4 175.8 L670.3 175.8 L673.2 175.8 L676.1 175.8 L679.0 175.7 L681.9 175.7 L684.8 175.7 L687.7 175.7 L690.6 175.7 L693.5 175.7 L696.4 175.7 L699.3 175.7 L702.2 175.7 L705.1 175.8 L708.0 175.8 L710.9 175.8 L713.8 175.8 L716.7 175.9 L719.6 175.9 L722.5 176.0 L725.5 176.0 L728.4 176.1 L731.3 176.1 L734.2 176.2 L737.1 176.2 L740.0 176.3 L742.9 176.4 L745.8 176.5 L748.7 176.6 L751.6 176.6 L754.5 176.7 L757.4 176.9 L760.3 177.0 L763.2 177.1 L766.1 177.2 L769.0 177.3 L771.9 177.5 L774.9 177.6 L777.8 177.8 L780.7 177.9 L783.6 178.1 L786.5 178.3 L789.4 178.4 L792.3 178.6 L795.3 178.8 L798.2 179.0 L801.1 179.2 L804.0 179.5 L806.9 179.7 L809.8 179.9 L812.8 180.2 L815.7 180.4 L818.6 180.7 L821.5 180.9 L824.5 181.2 L827.4 181.5 L830.3 181.8 L833.2 182.1 L836.2 182.4 L839.1 182.8 L842.0 183.1 L844.9 183.5 L847.9 183.9 L850.8 184.3 L853.7 184.7 L856.6 185.2 L859.5 185.6 L862.4 186.1 L865.2 186.6 L868.1 187.1 L871.0 187.7 L873.9 188.2 L876.7 188.8 L879.6 189.5 L882.4 190.1 L885.2 190.8 L888.0 191.5 L890.8 192.3 L893.6 193.0 L896.4 193.8 L899.2 194.7 L901.9 195.6 L904.7 196.5 L907.4 197.4 L910.1 198.4 L912.8 199.4 L915.5 200.5 L918.2 201.5 L920.8 202.7 L923.5 203.9 L926.1 205.1 L928.7 206.3 L931.2 207.6 L933.8 209.0 L936.3 210.4 L938.9 211.8 L941.4 213.3 L943.8 214.8 L946.3 216.4 L948.7 218.0 L951.1 219.7 L953.5 221.4 L955.9 223.2 L958.2 224.9 L960.5 226.8 L962.8 228.6 L965.0 230.5 L967.2 232.5 L969.4 234.4 L971.6 236.4 L973.7 238.5 L975.8 240.6 L977.8 242.7 L979.9 244.8 L981.8 247.0 L983.8 249.2 L985.7 251.4 L987.6 253.6 L989.4 255.9 L991.3 258.2 L993.0 260.5 L994.8 262.9 L996.5 265.3 L998.1 267.7 L999.8 270.1 L1001.4 272.5 L1003.0 275.0 L1004.5 277.4 L1006.0 279.9 L1007.5 282.4 L1009.0 285.0 L1010.4 287.5 L1011.8 290.1 L1013.2 292.6 L1014.6 295.2 L1015.9 297.8 L1017.2 300.4 L1018.5 303.0 L1019.8 305.6 L1021.1 308.2 L1022.3 310.9 L1023.5 313.5 L1024.7 316.2 L1025.9 318.8 L1027.0 321.5 L1028.2 324.1 L1029.3 326.8 L1030.4 329.5 L1031.5 332.2 L1032.6 334.9 L1033.6 337.6 L1034.7 340.3 L1035.7 343.0 L1036.7 345.7 L1037.7 348.5 L1038.7 351.2 L1039.7 353.9 L1040.6 356.7 L1041.5 359.4 L1042.4 362.2 L1043.3 364.9 L1044.2 367.7 L1045.1 370.5 L1046.0 373.3 L1046.8 376.0 L1047.6 378.8 L1048.5 381.6 L1049.3 384.4 L1050.1 387.2 L1050.8 390.0 L1051.6 392.8 L1052.4 395.6 L1053.1 398.4 L1053.8 401.3 L1054.6 404.1 L1055.3 406.9 L1056.0 409.7 L1056.7 412.6 L1057.4 415.4 L1058.0 418.3 L1058.7 421.1 L1059.3 424.0 L1060.0 426.8 L1060.6 429.7 L1061.2 432.5 L1061.9 435.4 L1062.5 438.2 L1063.1 441.1 L1063.7 444.0 L1064.2 446.8 L1064.8 449.7 L1065.4 452.6 L1065.9 455.4 L1066.5 458.3 L1067.1 461.2 L1067.6 464.1 L1068.1 467.0 L1068.7 469.8 L1069.2 472.7 L1069.7 475.6 L1070.2 478.5 L1070.7 481.4 L1071.2 484.3 L1071.8 487.1 L1072.2 490.0 L1072.7 492.9 L1073.2 495.8 L1073.7 498.7 L1074.2 501.6 L1074.7 504.5 L1075.2 507.4 L1075.6 510.2 L1076.1 513.1 L1076.6 516.0 L1077.1 518.9 L1077.5 521.8 L1078.0 524.7 L1078.5 527.6 L1078.9 530.5 L1079.4 533.3 L1079.8 536.2 L1080.3 539.1 L1080.7 542.0 L1081.2 544.9 L1081.6 547.8 L1082.0 550.7 L1082.5 553.5 L1082.9 556.4 L1083.3 559.3 L1083.8 562.2 L1084.2 565.1 L1084.6 568.0 L1085.0 570.9 L1085.5 573.7 L1085.9 576.6 L1086.3 579.5 L1086.7 582.4 L1087.1 585.3 L1087.5 588.2 L1087.9 591.1 L1088.3 593.9 L1088.7 596.8 L1089.1 599.7 L1089.5 602.6 L1089.9 605.5 L1090.3 608.4 L1090.6 611.3 L1091.0 614.2 L1091.4 617.0 L1091.8 619.9 L1092.2 622.8 L1092.5 625.7 L1092.9 628.6 L1093.2 631.5 L1093.6 634.4 L1094.0 637.3 L1094.3 640.1 L1094.7 643.0 L1095.0 645.9 L1095.4 648.8 L1095.7 651.7 L1096.0 654.6 L1096.4 657.5 L1096.7 660.4 L1097.0 663.3 L1097.4 666.2 L1097.7 669.0 L1098.0 671.9 L1098.3 674.8 L1098.7 677.7 L1099.0 680.6 L1099.3 683.5 L1099.6 686.4 L1099.9 689.3 L1100.2 692.2 L1100.5 695.1 L1100.8 698.0 L1101.1 700.9 L1101.4 703.8 L1101.7 706.7 L1102.0 709.6 L1102.2 712.4 L1102.5 715.3 L1102.8 718.2 L1103.1 721.1 L1103.3 724.0 L1103.6 726.9 L1103.9 729.8 L1104.1 732.7 L1104.4 735.6 L1104.6 738.5 L1104.9 741.4 L1105.2 744.3 L1105.4 747.2 L1105.6 750.1 L1105.9 753.0 L1106.1 755.9 L1106.4 758.8 L1106.6 761.7 L1106.8 764.7 L1107.0 767.6 L1107.3 770.5 L1107.5 773.4 L1107.7 776.3 L1107.9 779.2 L1108.1 782.1 L1108.3 785.0 L1108.5 787.9 L1108.7 790.8 L1108.9 793.7 L1109.1 796.6 L1109.3 799.5 L1109.5 802.5 L1109.7 805.4 L1109.9 808.3 L1110.1 811.2 L1110.2 814.1 L1110.4 817.0 L1110.6 819.9 L1110.8 822.9 L1110.9 825.8 L1111.1 828.7 L1111.2 831.6 L1111.4 834.5 L1111.6 837.4 L1111.7 840.4 L1111.9 843.3 L1112.0 846.2 L1112.1 849.1 L1112.3 852.1 L1112.4 855.0 L1112.5 857.9 L1112.7 860.8 L1112.8 863.8 L1112.9 866.7 L1113.0 869.6 L1113.1 872.5 L1113.3 875.5 L1113.4 878.4 L1113.5 881.3 L1113.6 884.3 L1113.7 887.2 L1113.8 890.1 L1113.9 893.1 L1114.0 896.0" stroke="#ffc823"/></g>
<text x="184.8" y="945.8" font-size="38" text-anchor="middle" fill="#000">0</text><text x="363.0" y="945.8" font-size="38" text-anchor="middle" fill="#000">2</text><text x="541.1" y="945.8" font-size="38" text-anchor="middle" fill="#000">4</text><text x="719.3" y="945.8" font-size="38" text-anchor="middle" fill="#000">6</text><text x="897.4" y="945.8" font-size="38" text-anchor="middle" fill="#000">8</text><text x="1075.5" y="945.8" font-size="38" text-anchor="middle" fill="#000">10</text><text x="1253.7" y="945.8" font-size="38" text-anchor="middle" fill="#000">12</text><text x="156.6" y="900.2" font-size="38" text-anchor="end" fill="#000">200</text><text x="156.6" y="727.6" font-size="38" text-anchor="end" fill="#000">250</text><text x="156.6" y="555.1" font-size="38" text-anchor="end" fill="#000">300</text><text x="156.6" y="382.5" font-size="38" text-anchor="end" fill="#000">350</text><text x="156.6" y="209.9" font-size="38" text-anchor="end" fill="#000">400</text><text x="156.6" y="37.3" font-size="38" text-anchor="end" fill="#000">450</text><text x="719.3" y="1014.8" font-size="45.9" text-anchor="middle" fill="#000">Time (ms)</text><text transform="translate(45.6 439.6) rotate(-90)" font-size="45.0" text-anchor="middle" fill="#000">Normal force (N)</text>
<rect x="566" y="646.8" width="264.8" height="174" fill="#fff"/><line x1="567" y1="646.8" x2="567" y2="820.8" stroke="#8a8a8a" stroke-width="2"/><line x1="569" y1="646.8" x2="569" y2="817" stroke="#cacaca" stroke-width="2"/><line x1="827.8" y1="646.8" x2="827.8" y2="820.8" stroke="#8a8a8a" stroke-width="2"/><line x1="829.8" y1="646.8" x2="829.8" y2="820.8" stroke="#bcbcbc" stroke-width="2"/><line x1="566" y1="819" x2="830.8" y2="819" stroke="#a4a4a4" stroke-width="3.8"/><line x1="566" y1="647.8" x2="830.8" y2="647.8" stroke="#585858" stroke-width="2"/><line x1="571.3" y1="678" x2="675.4" y2="678" stroke="#ee0505" stroke-width="4.1"/><text x="684.7" y="694.0" font-size="45.3" fill="#000">6mm</text><line x1="571.3" y1="733.2" x2="675.4" y2="733.2" stroke="#4672a5" stroke-width="4.1"/><text x="684.7" y="749.0" font-size="45.3" fill="#000">5.2mm</text><line x1="571.3" y1="788.1" x2="675.4" y2="788.1" stroke="#ffc823" stroke-width="4.1"/><text x="684.7" y="804.2" font-size="45.3" fill="#000">5mm</text>
</g>
</svg>
</body></html>
